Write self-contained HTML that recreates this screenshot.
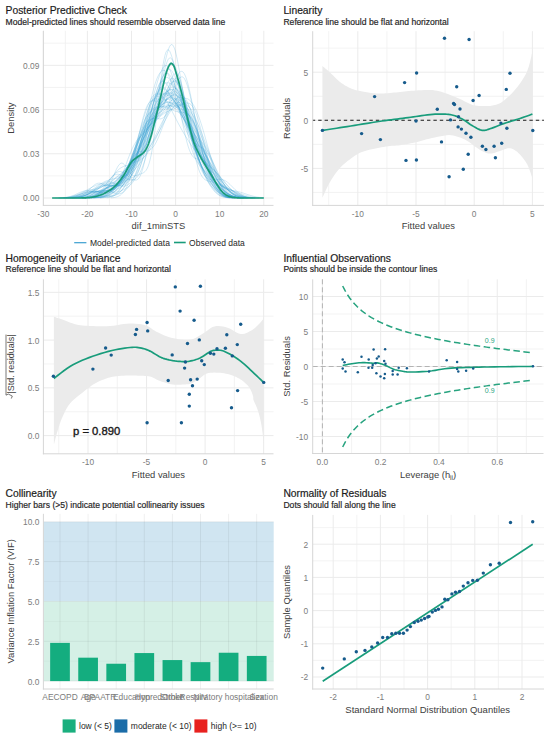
<!DOCTYPE html>
<html><head><meta charset="utf-8"><style>
html,body{margin:0;padding:0;background:#fff;}
svg{display:block;}
</style></head><body>
<svg width="550" height="737" viewBox="0 0 550 737">
<rect width="550" height="737" fill="#fff"/>
<line x1="65.35" y1="30.8" x2="65.35" y2="205.4" stroke="#f0f0f0" stroke-width="0.8"/>
<line x1="109.45" y1="30.8" x2="109.45" y2="205.4" stroke="#f0f0f0" stroke-width="0.8"/>
<line x1="153.55" y1="30.8" x2="153.55" y2="205.4" stroke="#f0f0f0" stroke-width="0.8"/>
<line x1="197.65" y1="30.8" x2="197.65" y2="205.4" stroke="#f0f0f0" stroke-width="0.8"/>
<line x1="241.75" y1="30.8" x2="241.75" y2="205.4" stroke="#f0f0f0" stroke-width="0.8"/>
<line x1="43.4" y1="175.89" x2="273.5" y2="175.89" stroke="#f0f0f0" stroke-width="0.8"/>
<line x1="43.4" y1="131.67" x2="273.5" y2="131.67" stroke="#f0f0f0" stroke-width="0.8"/>
<line x1="43.4" y1="87.45" x2="273.5" y2="87.45" stroke="#f0f0f0" stroke-width="0.8"/>
<line x1="43.4" y1="43.23" x2="273.5" y2="43.23" stroke="#f0f0f0" stroke-width="0.8"/>
<line x1="43.3" y1="30.8" x2="43.3" y2="205.4" stroke="#ebebeb" stroke-width="1"/>
<line x1="87.4" y1="30.8" x2="87.4" y2="205.4" stroke="#ebebeb" stroke-width="1"/>
<line x1="131.5" y1="30.8" x2="131.5" y2="205.4" stroke="#ebebeb" stroke-width="1"/>
<line x1="175.6" y1="30.8" x2="175.6" y2="205.4" stroke="#ebebeb" stroke-width="1"/>
<line x1="219.7" y1="30.8" x2="219.7" y2="205.4" stroke="#ebebeb" stroke-width="1"/>
<line x1="263.8" y1="30.8" x2="263.8" y2="205.4" stroke="#ebebeb" stroke-width="1"/>
<line x1="43.4" y1="198" x2="273.5" y2="198" stroke="#ebebeb" stroke-width="1"/>
<line x1="43.4" y1="153.78" x2="273.5" y2="153.78" stroke="#ebebeb" stroke-width="1"/>
<line x1="43.4" y1="109.56" x2="273.5" y2="109.56" stroke="#ebebeb" stroke-width="1"/>
<line x1="43.4" y1="65.34" x2="273.5" y2="65.34" stroke="#ebebeb" stroke-width="1"/>
<polyline points="58.05,197.93 59.44,197.9 60.84,197.86 62.23,197.8 63.62,197.73 65.02,197.63 66.41,197.5 67.8,197.35 69.2,197.15 70.59,196.92 71.98,196.64 73.38,196.32 74.77,195.96 76.17,195.56 77.56,195.12 78.95,194.67 80.35,194.19 81.74,193.72 83.13,193.26 84.53,192.84 85.92,192.46 87.31,192.13 88.71,191.88 90.1,191.71 91.5,191.62 92.89,191.6 94.28,191.64 95.68,191.74 97.07,191.87 98.46,192.02 99.86,192.15 101.25,192.24 102.64,192.28 104.04,192.23 105.43,192.07 106.82,191.8 108.22,191.41 109.61,190.88 111.01,190.23 112.4,189.44 113.79,188.52 115.19,187.49 116.58,186.34 117.97,185.08 119.37,183.71 120.76,182.23 122.15,180.63 123.55,178.89 124.94,177.01 126.34,174.98 127.73,172.77 129.12,170.39 130.52,167.83 131.91,165.09 133.3,162.18 134.7,159.12 136.09,155.95 137.48,152.68 138.88,149.36 140.27,146.03 141.66,142.72 143.06,139.46 144.45,136.27 145.85,133.17 147.24,130.16 148.63,127.24 150.03,124.4 151.42,121.63 152.81,118.91 154.21,116.25 155.6,113.65 156.99,111.12 158.39,108.68 159.78,106.37 161.18,104.23 162.57,102.32 163.96,100.68 165.36,99.38 166.75,98.45 168.14,97.94 169.54,97.87 170.93,98.27 172.32,99.12 173.72,100.41 175.11,102.12 176.5,104.19 177.9,106.57 179.29,109.19 180.69,112 182.08,114.92 183.47,117.89 184.87,120.84 186.26,123.73 187.65,126.52 189.05,129.18 190.44,131.69 191.83,134.07 193.23,136.33 194.62,138.48 196.02,140.56 197.41,142.6 198.8,144.64 200.2,146.71 201.59,148.83 202.98,151.03 204.38,153.32 205.77,155.69 207.16,158.15 208.56,160.67 209.95,163.24 211.34,165.84 212.74,168.43 214.13,171 215.53,173.5 216.92,175.93 218.31,178.25 219.71,180.46 221.1,182.53 222.49,184.47 223.89,186.25 225.28,187.88 226.67,189.36 228.07,190.69 229.46,191.87 230.86,192.91 232.25,193.82 233.64,194.6 235.04,195.27 236.43,195.83 237.82,196.29 239.22,196.68 240.61,196.99 242,197.23 243.4,197.43 244.79,197.58 246.18,197.7 247.58,197.78 248.97,197.85 250.37,197.89 251.76,197.93" fill="none" stroke="#2b9bd0" stroke-width="0.6" stroke-linejoin="round" stroke-linecap="butt" stroke-opacity="0.35"/>
<polyline points="72.08,197.9 73.32,197.85 74.56,197.79 75.8,197.7 77.04,197.59 78.28,197.44 79.52,197.25 80.75,197 81.99,196.69 83.23,196.31 84.47,195.86 85.71,195.32 86.95,194.7 88.19,193.99 89.43,193.2 90.67,192.33 91.91,191.41 93.14,190.44 94.38,189.46 95.62,188.49 96.86,187.55 98.1,186.69 99.34,185.92 100.58,185.28 101.82,184.79 103.06,184.44 104.29,184.27 105.53,184.24 106.77,184.36 108.01,184.59 109.25,184.91 110.49,185.28 111.73,185.64 112.97,185.95 114.21,186.17 115.44,186.25 116.68,186.13 117.92,185.8 119.16,185.2 120.4,184.32 121.64,183.13 122.88,181.62 124.12,179.78 125.36,177.62 126.59,175.13 127.83,172.34 129.07,169.25 130.31,165.91 131.55,162.34 132.79,158.58 134.03,154.7 135.27,150.74 136.51,146.76 137.74,142.85 138.98,139.07 140.22,135.49 141.46,132.18 142.7,129.2 143.94,126.6 145.18,124.4 146.42,122.62 147.66,121.24 148.89,120.25 150.13,119.56 151.37,119.12 152.61,118.82 153.85,118.56 155.09,118.22 156.33,117.69 157.57,116.86 158.81,115.65 160.04,113.99 161.28,111.85 162.52,109.23 163.76,106.18 165,102.79 166.24,99.15 167.48,95.43 168.72,91.78 169.96,88.39 171.2,85.43 172.43,83.06 173.67,81.42 174.91,80.62 176.15,80.73 177.39,81.78 178.63,83.76 179.87,86.59 181.11,90.21 182.35,94.49 183.58,99.31 184.82,104.53 186.06,110 187.3,115.61 188.54,121.25 189.78,126.81 191.02,132.22 192.26,137.43 193.5,142.4 194.73,147.09 195.97,151.51 197.21,155.63 198.45,159.46 199.69,163.01 200.93,166.27 202.17,169.26 203.41,171.98 204.65,174.45 205.88,176.67 207.12,178.67 208.36,180.46 209.6,182.06 210.84,183.49 212.08,184.79 213.32,185.96 214.56,187.04 215.8,188.04 217.03,188.98 218.27,189.86 219.51,190.7 220.75,191.49 221.99,192.25 223.23,192.97 224.47,193.64 225.71,194.26 226.95,194.83 228.18,195.35 229.42,195.81 230.66,196.21 231.9,196.56 233.14,196.86 234.38,197.1 235.62,197.31 236.86,197.47 238.1,197.61 239.33,197.71 240.57,197.79 241.81,197.85 243.05,197.89 244.29,197.92" fill="none" stroke="#2b9bd0" stroke-width="0.6" stroke-linejoin="round" stroke-linecap="butt" stroke-opacity="0.35"/>
<polyline points="82.24,197.92 83.48,197.88 84.72,197.82 85.96,197.74 87.21,197.64 88.45,197.5 89.69,197.32 90.93,197.1 92.18,196.82 93.42,196.49 94.66,196.09 95.9,195.64 97.14,195.13 98.39,194.57 99.63,193.97 100.87,193.35 102.11,192.73 103.36,192.13 104.6,191.57 105.84,191.06 107.08,190.63 108.33,190.27 109.57,190 110.81,189.79 112.05,189.64 113.29,189.51 114.54,189.37 115.78,189.18 117.02,188.88 118.26,188.45 119.51,187.83 120.75,187 121.99,185.93 123.23,184.61 124.48,183.04 125.72,181.24 126.96,179.23 128.2,177.03 129.44,174.69 130.69,172.25 131.93,169.74 133.17,167.2 134.41,164.64 135.66,162.08 136.9,159.51 138.14,156.91 139.38,154.26 140.63,151.51 141.87,148.62 143.11,145.54 144.35,142.22 145.59,138.63 146.84,134.75 148.08,130.56 149.32,126.08 150.56,121.35 151.81,116.43 153.05,111.4 154.29,106.35 155.53,101.41 156.78,96.69 158.02,92.29 159.26,88.34 160.5,84.91 161.74,82.09 162.99,79.92 164.23,78.41 165.47,77.56 166.71,77.34 167.96,77.69 169.2,78.55 170.44,79.85 171.68,81.52 172.93,83.48 174.17,85.68 175.41,88.09 176.65,90.68 177.89,93.45 179.14,96.41 180.38,99.57 181.62,102.95 182.86,106.57 184.11,110.45 185.35,114.58 186.59,118.95 187.83,123.52 189.07,128.26 190.32,133.1 191.56,137.97 192.8,142.81 194.04,147.54 195.29,152.08 196.53,156.38 197.77,160.37 199.01,164.01 200.26,167.27 201.5,170.13 202.74,172.58 203.98,174.63 205.22,176.3 206.47,177.6 207.71,178.58 208.95,179.25 210.19,179.68 211.44,179.89 212.68,179.94 213.92,179.87 215.16,179.73 216.41,179.55 217.65,179.4 218.89,179.3 220.13,179.29 221.37,179.4 222.62,179.65 223.86,180.07 225.1,180.66 226.34,181.41 227.59,182.32 228.83,183.37 230.07,184.53 231.31,185.77 232.56,187.05 233.8,188.34 235.04,189.6 236.28,190.81 237.52,191.95 238.77,192.98 240.01,193.91 241.25,194.71 242.49,195.41 243.74,195.99 244.98,196.46 246.22,196.85 247.46,197.15 248.71,197.38 249.95,197.56 251.19,197.69 252.43,197.79 253.67,197.86 254.92,197.9" fill="none" stroke="#2b9bd0" stroke-width="0.6" stroke-linejoin="round" stroke-linecap="butt" stroke-opacity="0.35"/>
<polyline points="68.52,197.92 69.85,197.88 71.18,197.84 72.51,197.78 73.84,197.69 75.17,197.59 76.5,197.45 77.83,197.28 79.15,197.06 80.48,196.8 81.81,196.48 83.14,196.1 84.47,195.66 85.8,195.15 87.13,194.58 88.46,193.94 89.79,193.25 91.12,192.5 92.44,191.72 93.77,190.92 95.1,190.11 96.43,189.32 97.76,188.56 99.09,187.86 100.42,187.23 101.75,186.69 103.08,186.25 104.41,185.91 105.73,185.66 107.06,185.51 108.39,185.44 109.72,185.41 111.05,185.42 112.38,185.41 113.71,185.36 115.04,185.24 116.37,185 117.69,184.61 119.02,184.06 120.35,183.32 121.68,182.37 123.01,181.22 124.34,179.88 125.67,178.34 127,176.64 128.33,174.8 129.66,172.84 130.98,170.79 132.31,168.68 133.64,166.52 134.97,164.34 136.3,162.13 137.63,159.9 138.96,157.64 140.29,155.33 141.62,152.95 142.95,150.48 144.27,147.89 145.6,145.17 146.93,142.29 148.26,139.25 149.59,136.07 150.92,132.75 152.25,129.32 153.58,125.83 154.91,122.33 156.24,118.87 157.56,115.51 158.89,112.31 160.22,109.34 161.55,106.64 162.88,104.25 164.21,102.22 165.54,100.56 166.87,99.28 168.2,98.39 169.52,97.86 170.85,97.68 172.18,97.81 173.51,98.24 174.84,98.92 176.17,99.82 177.5,100.9 178.83,102.14 180.16,103.51 181.49,105 182.81,106.6 184.14,108.29 185.47,110.1 186.8,112.01 188.13,114.06 189.46,116.24 190.79,118.59 192.12,121.1 193.45,123.79 194.78,126.67 196.1,129.72 197.43,132.94 198.76,136.3 200.09,139.79 201.42,143.35 202.75,146.96 204.08,150.58 205.41,154.16 206.74,157.67 208.07,161.06 209.39,164.32 210.72,167.41 212.05,170.31 213.38,173.02 214.71,175.54 216.04,177.86 217.37,179.99 218.7,181.93 220.03,183.71 221.35,185.33 222.68,186.81 224.01,188.15 225.34,189.37 226.67,190.48 228,191.49 229.33,192.4 230.66,193.21 231.99,193.94 233.32,194.59 234.64,195.16 235.97,195.66 237.3,196.09 238.63,196.45 239.96,196.76 241.29,197.02 242.62,197.24 243.95,197.41 245.28,197.55 246.61,197.66 247.93,197.75 249.26,197.81 250.59,197.87 251.92,197.9 253.25,197.93" fill="none" stroke="#2b9bd0" stroke-width="0.6" stroke-linejoin="round" stroke-linecap="butt" stroke-opacity="0.35"/>
<polyline points="76.26,197.93 77.49,197.9 78.72,197.86 79.95,197.8 81.18,197.73 82.41,197.64 83.64,197.53 84.87,197.39 86.1,197.21 87.33,196.99 88.56,196.74 89.79,196.43 91.02,196.08 92.26,195.68 93.49,195.22 94.72,194.71 95.95,194.15 97.18,193.55 98.41,192.91 99.64,192.23 100.87,191.52 102.1,190.8 103.33,190.06 104.56,189.31 105.79,188.55 107.02,187.79 108.25,187.02 109.48,186.23 110.71,185.43 111.94,184.6 113.18,183.71 114.41,182.77 115.64,181.75 116.87,180.63 118.1,179.4 119.33,178.05 120.56,176.57 121.79,174.96 123.02,173.22 124.25,171.37 125.48,169.43 126.71,167.41 127.94,165.37 129.17,163.33 130.4,161.34 131.63,159.45 132.87,157.7 134.1,156.12 135.33,154.75 136.56,153.62 137.79,152.72 139.02,152.06 140.25,151.62 141.48,151.36 142.71,151.24 143.94,151.2 145.17,151.18 146.4,151.1 147.63,150.91 148.86,150.52 150.09,149.9 151.32,148.98 152.55,147.75 153.79,146.18 155.02,144.27 156.25,142.04 157.48,139.52 158.71,136.75 159.94,133.79 161.17,130.68 162.4,127.49 163.63,124.27 164.86,121.08 166.09,117.96 167.32,114.96 168.55,112.11 169.78,109.45 171.01,106.99 172.24,104.76 173.48,102.78 174.71,101.07 175.94,99.66 177.17,98.56 178.4,97.8 179.63,97.39 180.86,97.36 182.09,97.71 183.32,98.45 184.55,99.58 185.78,101.07 187.01,102.92 188.24,105.08 189.47,107.52 190.7,110.19 191.93,113.05 193.17,116.05 194.4,119.14 195.63,122.27 196.86,125.41 198.09,128.53 199.32,131.6 200.55,134.62 201.78,137.57 203.01,140.44 204.24,143.25 205.47,146.01 206.7,148.71 207.93,151.38 209.16,154.03 210.39,156.66 211.62,159.28 212.85,161.89 214.09,164.5 215.32,167.09 216.55,169.66 217.78,172.19 219.01,174.66 220.24,177.06 221.47,179.38 222.7,181.58 223.93,183.65 225.16,185.58 226.39,187.36 227.62,188.98 228.85,190.43 230.08,191.72 231.31,192.84 232.54,193.81 233.78,194.64 235.01,195.34 236.24,195.91 237.47,196.38 238.7,196.76 239.93,197.07 241.16,197.3 242.39,197.49 243.62,197.63 244.85,197.73 246.08,197.81 247.31,197.87" fill="none" stroke="#2b9bd0" stroke-width="0.6" stroke-linejoin="round" stroke-linecap="butt" stroke-opacity="0.35"/>
<polyline points="81.85,197.91 82.95,197.87 84.04,197.81 85.14,197.73 86.24,197.63 87.33,197.49 88.43,197.32 89.52,197.1 90.62,196.83 91.71,196.5 92.81,196.1 93.9,195.65 95,195.13 96.1,194.55 97.19,193.92 98.29,193.25 99.38,192.55 100.48,191.83 101.57,191.12 102.67,190.42 103.76,189.76 104.86,189.13 105.96,188.55 107.05,188.02 108.15,187.53 109.24,187.06 110.34,186.6 111.43,186.14 112.53,185.64 113.62,185.09 114.72,184.46 115.81,183.73 116.91,182.88 118.01,181.92 119.1,180.82 120.2,179.58 121.29,178.22 122.39,176.73 123.48,175.13 124.58,173.42 125.67,171.63 126.77,169.77 127.87,167.85 128.96,165.9 130.06,163.93 131.15,161.97 132.25,160.03 133.34,158.13 134.44,156.3 135.53,154.53 136.63,152.85 137.73,151.25 138.82,149.72 139.92,148.26 141.01,146.85 142.11,145.46 143.2,144.06 144.3,142.61 145.39,141.08 146.49,139.41 147.59,137.55 148.68,135.46 149.78,133.08 150.87,130.36 151.97,127.27 153.06,123.77 154.16,119.84 155.25,115.48 156.35,110.71 157.44,105.57 158.54,100.13 159.64,94.49 160.73,88.77 161.83,83.1 162.92,77.65 164.02,72.58 165.11,68.05 166.21,64.21 167.3,61.19 168.4,59.09 169.5,57.98 170.59,57.91 171.69,58.87 172.78,60.82 173.88,63.71 174.97,67.43 176.07,71.89 177.16,76.94 178.26,82.48 179.36,88.36 180.45,94.47 181.55,100.69 182.64,106.9 183.74,113.03 184.83,118.98 185.93,124.68 187.02,130.08 188.12,135.14 189.22,139.82 190.31,144.09 191.41,147.94 192.5,151.38 193.6,154.41 194.69,157.05 195.79,159.34 196.88,161.31 197.98,163.02 199.07,164.51 200.17,165.85 201.27,167.1 202.36,168.3 203.46,169.51 204.55,170.77 205.65,172.11 206.74,173.54 207.84,175.07 208.93,176.7 210.03,178.4 211.13,180.17 212.22,181.95 213.32,183.73 214.41,185.47 215.51,187.14 216.6,188.71 217.7,190.16 218.79,191.47 219.89,192.64 220.99,193.67 222.08,194.54 223.18,195.28 224.27,195.9 225.37,196.39 226.46,196.79 227.56,197.11 228.65,197.35 229.75,197.53 230.85,197.67 231.94,197.77 233.04,197.84 234.13,197.89" fill="none" stroke="#2b9bd0" stroke-width="0.6" stroke-linejoin="round" stroke-linecap="butt" stroke-opacity="0.35"/>
<polyline points="70.13,197.92 71.37,197.89 72.61,197.84 73.86,197.78 75.1,197.69 76.34,197.58 77.59,197.44 78.83,197.26 80.07,197.04 81.31,196.76 82.56,196.43 83.8,196.03 85.04,195.57 86.28,195.04 87.53,194.44 88.77,193.77 90.01,193.04 91.26,192.27 92.5,191.45 93.74,190.61 94.98,189.77 96.23,188.94 97.47,188.15 98.71,187.42 99.95,186.76 101.2,186.19 102.44,185.73 103.68,185.38 104.93,185.14 106.17,185.01 107.41,184.97 108.65,185.01 109.9,185.1 111.14,185.22 112.38,185.33 113.62,185.41 114.87,185.42 116.11,185.34 117.35,185.14 118.6,184.8 119.84,184.32 121.08,183.67 122.32,182.85 123.57,181.88 124.81,180.75 126.05,179.48 127.29,178.06 128.54,176.52 129.78,174.84 131.02,173.04 132.27,171.11 133.51,169.04 134.75,166.82 135.99,164.45 137.24,161.91 138.48,159.19 139.72,156.29 140.96,153.19 142.21,149.9 143.45,146.44 144.69,142.81 145.94,139.04 147.18,135.17 148.42,131.23 149.66,127.26 150.91,123.31 152.15,119.43 153.39,115.66 154.64,112.05 155.88,108.64 157.12,105.47 158.36,102.58 159.61,100 160.85,97.74 162.09,95.83 163.33,94.28 164.58,93.1 165.82,92.31 167.06,91.9 168.31,91.89 169.55,92.27 170.79,93.05 172.03,94.21 173.28,95.75 174.52,97.66 175.76,99.92 177,102.49 178.25,105.34 179.49,108.42 180.73,111.69 181.98,115.08 183.22,118.52 184.46,121.95 185.7,125.31 186.95,128.52 188.19,131.53 189.43,134.29 190.67,136.76 191.92,138.92 193.16,140.77 194.4,142.31 195.65,143.58 196.89,144.62 198.13,145.49 199.37,146.25 200.62,146.98 201.86,147.74 203.1,148.62 204.34,149.67 205.59,150.94 206.83,152.47 208.07,154.27 209.32,156.36 210.56,158.7 211.8,161.28 213.04,164.04 214.29,166.93 215.53,169.89 216.77,172.86 218.02,175.78 219.26,178.6 220.5,181.27 221.74,183.75 222.99,186.01 224.23,188.04 225.47,189.83 226.71,191.39 227.96,192.72 229.2,193.83 230.44,194.75 231.69,195.51 232.93,196.11 234.17,196.58 235.41,196.95 236.66,197.24 237.9,197.45 239.14,197.61 240.38,197.73 241.63,197.81 242.87,197.87" fill="none" stroke="#2b9bd0" stroke-width="0.6" stroke-linejoin="round" stroke-linecap="butt" stroke-opacity="0.35"/>
<polyline points="110.92,197.83 111.82,197.77 112.72,197.69 113.61,197.58 114.51,197.44 115.41,197.26 116.31,197.04 117.2,196.75 118.1,196.4 119,195.96 119.9,195.43 120.8,194.8 121.69,194.03 122.59,193.14 123.49,192.09 124.39,190.87 125.28,189.48 126.18,187.91 127.08,186.15 127.98,184.19 128.87,182.04 129.77,179.7 130.67,177.19 131.57,174.5 132.47,171.67 133.36,168.71 134.26,165.65 135.16,162.5 136.06,159.29 136.95,156.05 137.85,152.8 138.75,149.56 139.65,146.35 140.54,143.18 141.44,140.06 142.34,137 143.24,134 144.14,131.05 145.03,128.17 145.93,125.33 146.83,122.53 147.73,119.78 148.62,117.06 149.52,114.37 150.42,111.71 151.32,109.09 152.21,106.52 153.11,104 154.01,101.56 154.91,99.2 155.8,96.95 156.7,94.82 157.6,92.84 158.5,91.01 159.4,89.35 160.29,87.87 161.19,86.58 162.09,85.48 162.99,84.58 163.88,83.86 164.78,83.33 165.68,82.97 166.58,82.77 167.47,82.74 168.37,82.84 169.27,83.08 170.17,83.45 171.07,83.94 171.96,84.54 172.86,85.25 173.76,86.06 174.66,86.98 175.55,88 176.45,89.12 177.35,90.34 178.25,91.67 179.14,93.11 180.04,94.65 180.94,96.29 181.84,98.03 182.74,99.87 183.63,101.81 184.53,103.84 185.43,105.96 186.33,108.16 187.22,110.43 188.12,112.77 189.02,115.16 189.92,117.6 190.81,120.09 191.71,122.6 192.61,125.14 193.51,127.69 194.41,130.26 195.3,132.83 196.2,135.4 197.1,137.97 198,140.54 198.89,143.1 199.79,145.67 200.69,148.22 201.59,150.78 202.48,153.33 203.38,155.87 204.28,158.39 205.18,160.9 206.08,163.39 206.97,165.85 207.87,168.26 208.77,170.62 209.67,172.92 210.56,175.15 211.46,177.29 212.36,179.34 213.26,181.29 214.15,183.12 215.05,184.84 215.95,186.44 216.85,187.9 217.74,189.25 218.64,190.46 219.54,191.56 220.44,192.53 221.34,193.4 222.23,194.15 223.13,194.81 224.03,195.37 224.93,195.86 225.82,196.26 226.72,196.61 227.62,196.89 228.52,197.12 229.41,197.31 230.31,197.47 231.21,197.59 232.11,197.69 233.01,197.76 233.9,197.82 234.8,197.87 235.7,197.9" fill="none" stroke="#2b9bd0" stroke-width="0.6" stroke-linejoin="round" stroke-linecap="butt" stroke-opacity="0.35"/>
<polyline points="68.24,197.9 69.59,197.87 70.93,197.82 72.28,197.75 73.62,197.66 74.97,197.56 76.32,197.42 77.66,197.25 79.01,197.04 80.35,196.78 81.7,196.48 83.05,196.12 84.39,195.71 85.74,195.23 87.08,194.7 88.43,194.11 89.78,193.46 91.12,192.77 92.47,192.03 93.81,191.27 95.16,190.49 96.51,189.71 97.85,188.94 99.2,188.2 100.54,187.49 101.89,186.82 103.24,186.21 104.58,185.65 105.93,185.13 107.27,184.66 108.62,184.2 109.97,183.76 111.31,183.29 112.66,182.78 114,182.19 115.35,181.49 116.69,180.66 118.04,179.66 119.39,178.47 120.73,177.08 122.08,175.46 123.42,173.61 124.77,171.54 126.12,169.24 127.46,166.74 128.81,164.04 130.15,161.19 131.5,158.2 132.85,155.11 134.19,151.97 135.54,148.8 136.88,145.64 138.23,142.54 139.58,139.52 140.92,136.61 142.27,133.85 143.61,131.24 144.96,128.81 146.31,126.57 147.65,124.5 149,122.63 150.34,120.92 151.69,119.38 153.04,117.98 154.38,116.7 155.73,115.53 157.07,114.45 158.42,113.44 159.77,112.48 161.11,111.56 162.46,110.68 163.8,109.84 165.15,109.05 166.5,108.32 167.84,107.66 169.19,107.11 170.53,106.69 171.88,106.43 173.23,106.36 174.57,106.52 175.92,106.94 177.26,107.64 178.61,108.64 179.96,109.97 181.3,111.61 182.65,113.59 183.99,115.87 185.34,118.45 186.68,121.29 188.03,124.36 189.38,127.61 190.72,131 192.07,134.48 193.41,138.01 194.76,141.53 196.11,144.99 197.45,148.37 198.8,151.62 200.14,154.72 201.49,157.64 202.84,160.39 204.18,162.95 205.53,165.33 206.87,167.53 208.22,169.57 209.57,171.47 210.91,173.23 212.26,174.89 213.6,176.45 214.95,177.94 216.3,179.36 217.64,180.73 218.99,182.06 220.33,183.36 221.68,184.61 223.03,185.83 224.37,187.01 225.72,188.15 227.06,189.23 228.41,190.26 229.76,191.22 231.1,192.12 232.45,192.94 233.79,193.69 235.14,194.37 236.49,194.96 237.83,195.49 239.18,195.95 240.52,196.34 241.87,196.67 243.22,196.94 244.56,197.17 245.91,197.36 247.25,197.51 248.6,197.63 249.95,197.72 251.29,197.79 252.64,197.85 253.98,197.89 255.33,197.92" fill="none" stroke="#2b9bd0" stroke-width="0.6" stroke-linejoin="round" stroke-linecap="butt" stroke-opacity="0.35"/>
<polyline points="66.12,197.93 67.51,197.9 68.9,197.86 70.28,197.8 71.67,197.72 73.05,197.62 74.44,197.49 75.83,197.32 77.21,197.12 78.6,196.88 79.99,196.59 81.37,196.25 82.76,195.88 84.15,195.45 85.53,195 86.92,194.51 88.31,194.02 89.69,193.51 91.08,193.02 92.47,192.56 93.85,192.13 95.24,191.75 96.63,191.43 98.01,191.16 99.4,190.95 100.79,190.79 102.17,190.67 103.56,190.56 104.95,190.46 106.33,190.33 107.72,190.16 109.1,189.93 110.49,189.62 111.88,189.23 113.26,188.76 114.65,188.19 116.04,187.54 117.42,186.81 118.81,186.02 120.2,185.18 121.58,184.28 122.97,183.33 124.36,182.33 125.74,181.25 127.13,180.07 128.52,178.75 129.9,177.26 131.29,175.53 132.68,173.51 134.06,171.16 135.45,168.42 136.84,165.24 138.22,161.61 139.61,157.52 141,152.96 142.38,147.99 143.77,142.66 145.15,137.05 146.54,131.25 147.93,125.4 149.31,119.61 150.7,114.03 152.09,108.77 153.47,103.97 154.86,99.72 156.25,96.12 157.63,93.21 159.02,91.04 160.41,89.59 161.79,88.85 163.18,88.77 164.57,89.26 165.95,90.25 167.34,91.63 168.73,93.3 170.11,95.16 171.5,97.12 172.89,99.1 174.27,101.04 175.66,102.9 177.04,104.68 178.43,106.37 179.82,108 181.2,109.61 182.59,111.27 183.98,113.02 185.36,114.93 186.75,117.06 188.14,119.45 189.52,122.15 190.91,125.17 192.3,128.5 193.68,132.12 195.07,136 196.46,140.08 197.84,144.28 199.23,148.53 200.62,152.74 202,156.84 203.39,160.74 204.78,164.4 206.16,167.75 207.55,170.76 208.94,173.41 210.32,175.71 211.71,177.67 213.09,179.31 214.48,180.68 215.87,181.82 217.25,182.77 218.64,183.58 220.03,184.3 221.41,184.97 222.8,185.62 224.19,186.27 225.57,186.94 226.96,187.65 228.35,188.39 229.73,189.16 231.12,189.95 232.51,190.76 233.89,191.55 235.28,192.34 236.67,193.09 238.05,193.79 239.44,194.45 240.83,195.04 242.21,195.57 243.6,196.03 244.99,196.43 246.37,196.76 247.76,197.04 249.14,197.27 250.53,197.45 251.92,197.59 253.3,197.7 254.69,197.79 256.08,197.85 257.46,197.9 258.85,197.93" fill="none" stroke="#2b9bd0" stroke-width="0.6" stroke-linejoin="round" stroke-linecap="butt" stroke-opacity="0.35"/>
<polyline points="74.33,197.94 75.7,197.91 77.06,197.87 78.42,197.83 79.78,197.77 81.15,197.69 82.51,197.59 83.87,197.47 85.24,197.31 86.6,197.13 87.96,196.91 89.33,196.66 90.69,196.37 92.05,196.03 93.42,195.66 94.78,195.24 96.14,194.79 97.5,194.31 98.87,193.79 100.23,193.25 101.59,192.69 102.96,192.11 104.32,191.51 105.68,190.9 107.05,190.27 108.41,189.61 109.77,188.93 111.14,188.2 112.5,187.44 113.86,186.62 115.22,185.74 116.59,184.79 117.95,183.76 119.31,182.67 120.68,181.5 122.04,180.27 123.4,178.98 124.77,177.64 126.13,176.26 127.49,174.84 128.86,173.38 130.22,171.89 131.58,170.36 132.94,168.77 134.31,167.1 135.67,165.32 137.03,163.42 138.4,161.35 139.76,159.09 141.12,156.62 142.49,153.93 143.85,151 145.21,147.86 146.58,144.51 147.94,141.01 149.3,137.39 150.66,133.73 152.03,130.08 153.39,126.52 154.75,123.12 156.12,119.95 157.48,117.07 158.84,114.51 160.21,112.31 161.57,110.47 162.93,109 164.3,107.86 165.66,107.02 167.02,106.43 168.38,106.04 169.75,105.79 171.11,105.63 172.47,105.51 173.84,105.4 175.2,105.25 176.56,105.08 177.93,104.87 179.29,104.66 180.65,104.46 182.02,104.33 183.38,104.32 184.74,104.49 186.1,104.9 187.47,105.61 188.83,106.67 190.19,108.13 191.56,110.01 192.92,112.35 194.28,115.13 195.65,118.34 197.01,121.96 198.37,125.93 199.74,130.19 201.1,134.67 202.46,139.3 203.82,143.99 205.19,148.66 206.55,153.24 207.91,157.66 209.28,161.85 210.64,165.76 212,169.37 213.37,172.64 214.73,175.56 216.09,178.14 217.46,180.38 218.82,182.29 220.18,183.92 221.54,185.28 222.91,186.42 224.27,187.37 225.63,188.16 227,188.82 228.36,189.4 229.72,189.92 231.09,190.4 232.45,190.86 233.81,191.31 235.18,191.77 236.54,192.23 237.9,192.7 239.26,193.18 240.63,193.65 241.99,194.12 243.35,194.58 244.72,195.02 246.08,195.43 247.44,195.82 248.81,196.17 250.17,196.48 251.53,196.75 252.9,196.99 254.26,197.2 255.62,197.37 256.98,197.51 258.35,197.62 259.71,197.71 261.07,197.79 262.44,197.84 263.8,197.89" fill="none" stroke="#2b9bd0" stroke-width="0.6" stroke-linejoin="round" stroke-linecap="butt" stroke-opacity="0.35"/>
<polyline points="99.94,197.91 100.91,197.88 101.87,197.83 102.84,197.77 103.8,197.7 104.77,197.6 105.74,197.48 106.7,197.33 107.67,197.14 108.63,196.91 109.6,196.63 110.57,196.3 111.53,195.91 112.5,195.45 113.47,194.92 114.43,194.31 115.4,193.62 116.36,192.84 117.33,191.97 118.3,191.01 119.26,189.94 120.23,188.78 121.2,187.5 122.16,186.11 123.13,184.61 124.09,182.97 125.06,181.2 126.03,179.28 126.99,177.2 127.96,174.94 128.92,172.5 129.89,169.85 130.86,166.98 131.82,163.9 132.79,160.58 133.76,157.05 134.72,153.31 135.69,149.38 136.65,145.29 137.62,141.09 138.59,136.82 139.55,132.54 140.52,128.32 141.49,124.22 142.45,120.3 143.42,116.65 144.38,113.3 145.35,110.32 146.32,107.75 147.28,105.59 148.25,103.86 149.21,102.55 150.18,101.63 151.15,101.06 152.11,100.78 153.08,100.71 154.05,100.8 155.01,100.95 155.98,101.09 156.94,101.15 157.91,101.07 158.88,100.8 159.84,100.29 160.81,99.54 161.78,98.53 162.74,97.28 163.71,95.81 164.67,94.16 165.64,92.39 166.61,90.56 167.57,88.73 168.54,86.97 169.5,85.34 170.47,83.91 171.44,82.74 172.4,81.88 173.37,81.38 174.34,81.26 175.3,81.56 176.27,82.29 177.23,83.45 178.2,85.04 179.17,87.05 180.13,89.45 181.1,92.21 182.07,95.31 183.03,98.7 184,102.34 184.96,106.18 185.93,110.17 186.9,114.28 187.86,118.44 188.83,122.61 189.8,126.76 190.76,130.84 191.73,134.82 192.69,138.67 193.66,142.36 194.63,145.88 195.59,149.22 196.56,152.36 197.52,155.32 198.49,158.09 199.46,160.69 200.42,163.13 201.39,165.41 202.36,167.57 203.32,169.61 204.29,171.55 205.25,173.41 206.22,175.19 207.19,176.92 208.15,178.58 209.12,180.2 210.09,181.76 211.05,183.27 212.02,184.72 212.98,186.11 213.95,187.44 214.92,188.68 215.88,189.85 216.85,190.93 217.81,191.91 218.78,192.81 219.75,193.62 220.71,194.33 221.68,194.96 222.65,195.51 223.61,195.97 224.58,196.37 225.54,196.7 226.51,196.98 227.48,197.2 228.44,197.38 229.41,197.53 230.38,197.64 231.34,197.73 232.31,197.8 233.27,197.86 234.24,197.9" fill="none" stroke="#2b9bd0" stroke-width="0.6" stroke-linejoin="round" stroke-linecap="butt" stroke-opacity="0.35"/>
<polyline points="97.36,197.87 98.48,197.82 99.6,197.76 100.72,197.67 101.84,197.56 102.96,197.42 104.09,197.24 105.21,197.01 106.33,196.72 107.45,196.37 108.57,195.94 109.69,195.42 110.81,194.79 111.94,194.05 113.06,193.17 114.18,192.15 115.3,190.98 116.42,189.65 117.54,188.14 118.66,186.46 119.78,184.59 120.91,182.55 122.03,180.34 123.15,177.97 124.27,175.45 125.39,172.8 126.51,170.03 127.63,167.16 128.76,164.23 129.88,161.26 131,158.26 132.12,155.27 133.24,152.31 134.36,149.38 135.48,146.53 136.61,143.74 137.73,141.04 138.85,138.44 139.97,135.93 141.09,133.51 142.21,131.19 143.33,128.95 144.46,126.8 145.58,124.72 146.7,122.71 147.82,120.76 148.94,118.87 150.06,117.04 151.18,115.26 152.31,113.53 153.43,111.86 154.55,110.25 155.67,108.71 156.79,107.25 157.91,105.89 159.03,104.62 160.16,103.47 161.28,102.44 162.4,101.54 163.52,100.8 164.64,100.21 165.76,99.79 166.88,99.54 168.01,99.47 169.13,99.58 170.25,99.88 171.37,100.38 172.49,101.06 173.61,101.95 174.73,103.02 175.86,104.29 176.98,105.76 178.1,107.41 179.22,109.25 180.34,111.26 181.46,113.44 182.58,115.77 183.71,118.23 184.83,120.8 185.95,123.47 187.07,126.19 188.19,128.96 189.31,131.74 190.43,134.5 191.56,137.21 192.68,139.86 193.8,142.41 194.92,144.86 196.04,147.19 197.16,149.38 198.28,151.43 199.41,153.34 200.53,155.12 201.65,156.77 202.77,158.29 203.89,159.71 205.01,161.04 206.13,162.29 207.26,163.48 208.38,164.62 209.5,165.74 210.62,166.84 211.74,167.95 212.86,169.06 213.98,170.2 215.1,171.36 216.23,172.56 217.35,173.8 218.47,175.06 219.59,176.37 220.71,177.7 221.83,179.05 222.95,180.41 224.08,181.77 225.2,183.13 226.32,184.46 227.44,185.76 228.56,187.02 229.68,188.22 230.8,189.36 231.93,190.42 233.05,191.41 234.17,192.32 235.29,193.14 236.41,193.88 237.53,194.54 238.65,195.12 239.78,195.62 240.9,196.05 242.02,196.42 243.14,196.73 244.26,196.99 245.38,197.2 246.5,197.38 247.63,197.52 248.75,197.63 249.87,197.72 250.99,197.79 252.11,197.84 253.23,197.88" fill="none" stroke="#2b9bd0" stroke-width="0.6" stroke-linejoin="round" stroke-linecap="butt" stroke-opacity="0.35"/>
<polyline points="106.68,197.8 107.58,197.72 108.48,197.6 109.38,197.45 110.28,197.25 111.19,196.99 112.09,196.65 112.99,196.24 113.89,195.74 114.79,195.13 115.7,194.4 116.6,193.56 117.5,192.61 118.4,191.54 119.3,190.37 120.2,189.12 121.11,187.81 122.01,186.47 122.91,185.14 123.81,183.86 124.71,182.67 125.62,181.6 126.52,180.69 127.42,179.97 128.32,179.45 129.22,179.14 130.13,179.02 131.03,179.07 131.93,179.25 132.83,179.51 133.73,179.79 134.63,180.01 135.54,180.11 136.44,180 137.34,179.62 138.24,178.9 139.14,177.78 140.05,176.23 140.95,174.21 141.85,171.73 142.75,168.78 143.65,165.39 144.55,161.6 145.46,157.47 146.36,153.04 147.26,148.4 148.16,143.61 149.06,138.75 149.97,133.86 150.87,129.02 151.77,124.26 152.67,119.62 153.57,115.11 154.47,110.73 155.38,106.48 156.28,102.32 157.18,98.24 158.08,94.19 158.98,90.13 159.89,86.05 160.79,81.92 161.69,77.74 162.59,73.52 163.49,69.3 164.39,65.13 165.3,61.08 166.2,57.25 167.1,53.74 168,50.65 168.9,48.08 169.81,46.15 170.71,44.93 171.61,44.49 172.51,44.85 173.41,46.04 174.32,48.03 175.22,50.78 176.12,54.21 177.02,58.24 177.92,62.77 178.82,67.68 179.73,72.85 180.63,78.18 181.53,83.56 182.43,88.9 183.33,94.12 184.24,99.16 185.14,103.97 186.04,108.53 186.94,112.81 187.84,116.82 188.74,120.56 189.65,124.04 190.55,127.29 191.45,130.33 192.35,133.17 193.25,135.85 194.16,138.39 195.06,140.8 195.96,143.1 196.86,145.3 197.76,147.42 198.66,149.47 199.57,151.46 200.47,153.4 201.37,155.32 202.27,157.21 203.17,159.09 204.08,160.99 204.98,162.9 205.88,164.83 206.78,166.81 207.68,168.81 208.58,170.85 209.49,172.9 210.39,174.97 211.29,177.04 212.19,179.07 213.09,181.06 214,182.99 214.9,184.82 215.8,186.55 216.7,188.16 217.6,189.63 218.51,190.97 219.41,192.16 220.31,193.2 221.21,194.11 222.11,194.88 223.01,195.53 223.92,196.07 224.82,196.51 225.72,196.86 226.62,197.15 227.52,197.37 228.43,197.54 229.33,197.66 230.23,197.76 231.13,197.83 232.03,197.88" fill="none" stroke="#2b9bd0" stroke-width="0.6" stroke-linejoin="round" stroke-linecap="butt" stroke-opacity="0.35"/>
<polyline points="82.46,197.91 83.58,197.87 84.7,197.82 85.82,197.76 86.94,197.68 88.06,197.58 89.18,197.44 90.3,197.28 91.42,197.08 92.54,196.83 93.66,196.53 94.78,196.17 95.9,195.75 97.02,195.27 98.14,194.71 99.26,194.08 100.38,193.39 101.5,192.62 102.62,191.78 103.74,190.89 104.86,189.95 105.98,188.97 107.1,187.96 108.22,186.93 109.34,185.9 110.46,184.88 111.58,183.87 112.7,182.88 113.82,181.92 114.94,180.99 116.05,180.09 117.17,179.21 118.29,178.33 119.41,177.46 120.53,176.56 121.65,175.63 122.77,174.65 123.89,173.6 125.01,172.47 126.13,171.25 127.25,169.91 128.37,168.46 129.49,166.9 130.61,165.21 131.73,163.4 132.85,161.48 133.97,159.45 135.09,157.32 136.21,155.09 137.33,152.78 138.45,150.39 139.57,147.94 140.69,145.42 141.81,142.86 142.93,140.26 144.05,137.63 145.17,134.97 146.29,132.3 147.41,129.63 148.53,126.96 149.65,124.31 150.77,121.68 151.89,119.1 153.01,116.56 154.13,114.08 155.25,111.68 156.37,109.37 157.49,107.17 158.61,105.09 159.73,103.16 160.85,101.39 161.97,99.81 163.09,98.45 164.21,97.32 165.33,96.46 166.45,95.87 167.57,95.58 168.69,95.59 169.81,95.91 170.93,96.53 172.05,97.44 173.17,98.62 174.29,100.03 175.41,101.64 176.53,103.41 177.65,105.29 178.77,107.24 179.89,109.21 181.01,111.16 182.12,113.05 183.24,114.86 184.36,116.57 185.48,118.18 186.6,119.7 187.72,121.13 188.84,122.51 189.96,123.87 191.08,125.24 192.2,126.67 193.32,128.2 194.44,129.86 195.56,131.69 196.68,133.72 197.8,135.96 198.92,138.41 200.04,141.07 201.16,143.94 202.28,146.97 203.4,150.16 204.52,153.45 205.64,156.8 206.76,160.19 207.88,163.55 209,166.85 210.12,170.06 211.24,173.13 212.36,176.05 213.48,178.78 214.6,181.3 215.72,183.62 216.84,185.72 217.96,187.6 219.08,189.27 220.2,190.74 221.32,192.01 222.44,193.1 223.56,194.03 224.68,194.81 225.8,195.47 226.92,196 228.04,196.44 229.16,196.79 230.28,197.08 231.4,197.3 232.52,197.47 233.64,197.61 234.76,197.71 235.88,197.79 237,197.85 238.12,197.89" fill="none" stroke="#2b9bd0" stroke-width="0.6" stroke-linejoin="round" stroke-linecap="butt" stroke-opacity="0.35"/>
<polyline points="92.35,197.92 93.39,197.89 94.44,197.85 95.48,197.81 96.52,197.74 97.56,197.66 98.61,197.56 99.65,197.44 100.69,197.29 101.73,197.11 102.78,196.89 103.82,196.64 104.86,196.35 105.91,196.02 106.95,195.65 107.99,195.23 109.03,194.78 110.08,194.28 111.12,193.75 112.16,193.19 113.2,192.59 114.25,191.96 115.29,191.31 116.33,190.62 117.38,189.91 118.42,189.16 119.46,188.37 120.5,187.52 121.55,186.61 122.59,185.6 123.63,184.5 124.67,183.26 125.72,181.88 126.76,180.33 127.8,178.59 128.85,176.65 129.89,174.49 130.93,172.11 131.97,169.51 133.02,166.69 134.06,163.69 135.1,160.51 136.14,157.18 137.19,153.76 138.23,150.27 139.27,146.76 140.32,143.29 141.36,139.9 142.4,136.64 143.44,133.56 144.49,130.71 145.53,128.1 146.57,125.79 147.62,123.78 148.66,122.09 149.7,120.73 150.74,119.68 151.79,118.94 152.83,118.46 153.87,118.23 154.91,118.19 155.96,118.29 157,118.47 158.04,118.68 159.09,118.85 160.13,118.9 161.17,118.78 162.21,118.42 163.26,117.78 164.3,116.81 165.34,115.48 166.38,113.78 167.43,111.7 168.47,109.25 169.51,106.49 170.56,103.45 171.6,100.2 172.64,96.83 173.68,93.43 174.73,90.09 175.77,86.92 176.81,84.03 177.85,81.51 178.9,79.45 179.94,77.93 180.98,77.02 182.03,76.75 183.07,77.14 184.11,78.22 185.15,79.95 186.2,82.32 187.24,85.26 188.28,88.72 189.32,92.63 190.37,96.91 191.41,101.49 192.45,106.27 193.5,111.2 194.54,116.19 195.58,121.19 196.62,126.14 197.67,131 198.71,135.74 199.75,140.32 200.79,144.73 201.84,148.95 202.88,152.98 203.92,156.82 204.97,160.45 206.01,163.89 207.05,167.13 208.09,170.17 209.14,173.03 210.18,175.7 211.22,178.18 212.27,180.48 213.31,182.61 214.35,184.55 215.39,186.33 216.44,187.94 217.48,189.38 218.52,190.67 219.56,191.82 220.61,192.82 221.65,193.7 222.69,194.46 223.74,195.11 224.78,195.66 225.82,196.12 226.86,196.5 227.91,196.82 228.95,197.08 229.99,197.29 231.03,197.46 232.08,197.59 233.12,197.69 234.16,197.77 235.21,197.83 236.25,197.88 237.29,197.91" fill="none" stroke="#2b9bd0" stroke-width="0.6" stroke-linejoin="round" stroke-linecap="butt" stroke-opacity="0.35"/>
<polyline points="84.91,197.88 85.98,197.83 87.04,197.76 88.11,197.66 89.17,197.53 90.23,197.36 91.3,197.14 92.36,196.85 93.43,196.49 94.49,196.05 95.56,195.5 96.62,194.85 97.68,194.09 98.75,193.2 99.81,192.19 100.88,191.06 101.94,189.81 103.01,188.47 104.07,187.04 105.13,185.56 106.2,184.05 107.26,182.55 108.33,181.08 109.39,179.68 110.45,178.4 111.52,177.25 112.58,176.26 113.65,175.46 114.71,174.84 115.78,174.43 116.84,174.22 117.9,174.2 118.97,174.35 120.03,174.65 121.1,175.09 122.16,175.62 123.23,176.24 124.29,176.9 125.35,177.57 126.42,178.23 127.48,178.84 128.55,179.37 129.61,179.8 130.67,180.08 131.74,180.2 132.8,180.11 133.87,179.8 134.93,179.24 136,178.41 137.06,177.29 138.12,175.87 139.19,174.16 140.25,172.14 141.32,169.84 142.38,167.27 143.45,164.44 144.51,161.38 145.57,158.12 146.64,154.68 147.7,151.09 148.77,147.39 149.83,143.58 150.89,139.69 151.96,135.74 153.02,131.74 154.09,127.71 155.15,123.65 156.22,119.58 157.28,115.52 158.34,111.48 159.41,107.5 160.47,103.61 161.54,99.83 162.6,96.22 163.67,92.82 164.73,89.67 165.79,86.83 166.86,84.34 167.92,82.24 168.99,80.56 170.05,79.33 171.11,78.56 172.18,78.28 173.24,78.47 174.31,79.11 175.37,80.19 176.44,81.68 177.5,83.53 178.56,85.68 179.63,88.1 180.69,90.71 181.76,93.46 182.82,96.29 183.89,99.16 184.95,102 186.01,104.79 187.08,107.5 188.14,110.1 189.21,112.61 190.27,115.01 191.34,117.34 192.4,119.6 193.46,121.84 194.53,124.07 195.59,126.34 196.66,128.68 197.72,131.11 198.78,133.66 199.85,136.35 200.91,139.17 201.98,142.15 203.04,145.27 204.11,148.52 205.17,151.88 206.23,155.32 207.3,158.81 208.36,162.32 209.43,165.8 210.49,169.21 211.56,172.51 212.62,175.67 213.68,178.64 214.75,181.4 215.81,183.93 216.88,186.21 217.94,188.24 219,190.02 220.07,191.55 221.13,192.86 222.2,193.96 223.26,194.86 224.33,195.59 225.39,196.18 226.45,196.64 227.52,197 228.58,197.27 229.65,197.48 230.71,197.63 231.78,197.74 232.84,197.82" fill="none" stroke="#2b9bd0" stroke-width="0.6" stroke-linejoin="round" stroke-linecap="butt" stroke-opacity="0.35"/>
<polyline points="63.48,197.93 64.85,197.89 66.22,197.85 67.58,197.78 68.95,197.69 70.31,197.58 71.68,197.43 73.04,197.25 74.41,197.02 75.78,196.74 77.14,196.42 78.51,196.04 79.87,195.62 81.24,195.15 82.6,194.66 83.97,194.14 85.33,193.62 86.7,193.11 88.07,192.63 89.43,192.21 90.8,191.87 92.16,191.61 93.53,191.44 94.89,191.38 96.26,191.42 97.63,191.56 98.99,191.77 100.36,192.04 101.72,192.33 103.09,192.61 104.45,192.84 105.82,192.98 107.18,192.99 108.55,192.82 109.92,192.44 111.28,191.79 112.65,190.84 114.01,189.57 115.38,187.95 116.74,185.96 118.11,183.62 119.48,180.92 120.84,177.9 122.21,174.61 123.57,171.09 124.94,167.42 126.3,163.69 127.67,159.96 129.03,156.34 130.4,152.89 131.77,149.68 133.13,146.77 134.5,144.18 135.86,141.91 137.23,139.96 138.59,138.29 139.96,136.84 141.33,135.54 142.69,134.32 144.06,133.1 145.42,131.79 146.79,130.33 148.15,128.68 149.52,126.78 150.88,124.62 152.25,122.2 153.62,119.53 154.98,116.65 156.35,113.59 157.71,110.41 159.08,107.19 160.44,104.01 161.81,100.95 163.18,98.09 164.54,95.52 165.91,93.33 167.27,91.59 168.64,90.38 170,89.76 171.37,89.75 172.73,90.38 174.1,91.64 175.47,93.53 176.83,96 178.2,98.99 179.56,102.43 180.93,106.25 182.29,110.36 183.66,114.68 185.03,119.12 186.39,123.62 187.76,128.13 189.12,132.58 190.49,136.94 191.85,141.18 193.22,145.28 194.58,149.22 195.95,152.98 197.32,156.55 198.68,159.92 200.05,163.07 201.41,165.99 202.78,168.66 204.14,171.07 205.51,173.23 206.88,175.13 208.24,176.79 209.61,178.22 210.97,179.45 212.34,180.52 213.7,181.45 215.07,182.28 216.43,183.06 217.8,183.8 219.17,184.55 220.53,185.31 221.9,186.11 223.26,186.94 224.63,187.81 225.99,188.7 227.36,189.62 228.73,190.53 230.09,191.43 231.46,192.29 232.82,193.11 234.19,193.88 235.55,194.57 236.92,195.19 238.28,195.73 239.65,196.19 241.02,196.59 242.38,196.91 243.75,197.17 245.11,197.38 246.48,197.55 247.84,197.67 249.21,197.77 250.58,197.84 251.94,197.89 253.31,197.92" fill="none" stroke="#2b9bd0" stroke-width="0.6" stroke-linejoin="round" stroke-linecap="butt" stroke-opacity="0.35"/>
<polyline points="81.84,197.92 82.99,197.89 84.14,197.85 85.28,197.8 86.43,197.73 87.58,197.64 88.73,197.53 89.88,197.38 91.03,197.21 92.18,197.01 93.33,196.76 94.48,196.47 95.63,196.14 96.78,195.77 97.93,195.35 99.08,194.9 100.22,194.4 101.37,193.88 102.52,193.33 103.67,192.77 104.82,192.19 105.97,191.61 107.12,191.03 108.27,190.45 109.42,189.86 110.57,189.27 111.72,188.66 112.87,188.02 114.01,187.34 115.16,186.58 116.31,185.74 117.46,184.79 118.61,183.7 119.76,182.47 120.91,181.06 122.06,179.47 123.21,177.69 124.36,175.72 125.51,173.57 126.66,171.23 127.81,168.74 128.95,166.1 130.1,163.34 131.25,160.48 132.4,157.54 133.55,154.55 134.7,151.51 135.85,148.46 137,145.4 138.15,142.35 139.3,139.32 140.45,136.32 141.6,133.35 142.75,130.43 143.89,127.55 145.04,124.75 146.19,122.01 147.34,119.36 148.49,116.8 149.64,114.35 150.79,112.02 151.94,109.82 153.09,107.74 154.24,105.79 155.39,103.97 156.54,102.27 157.69,100.69 158.83,99.2 159.98,97.8 161.13,96.48 162.28,95.24 163.43,94.08 164.58,93 165.73,92.01 166.88,91.14 168.03,90.4 169.18,89.83 170.33,89.46 171.48,89.32 172.62,89.44 173.77,89.85 174.92,90.58 176.07,91.65 177.22,93.06 178.37,94.84 179.52,96.97 180.67,99.45 181.82,102.27 182.97,105.41 184.12,108.84 185.27,112.53 186.42,116.45 187.56,120.54 188.71,124.77 189.86,129.08 191.01,133.42 192.16,137.73 193.31,141.96 194.46,146.06 195.61,149.99 196.76,153.71 197.91,157.18 199.06,160.38 200.21,163.31 201.36,165.95 202.5,168.33 203.65,170.45 204.8,172.35 205.95,174.05 207.1,175.58 208.25,176.99 209.4,178.31 210.55,179.56 211.7,180.77 212.85,181.96 214,183.14 215.15,184.32 216.3,185.49 217.44,186.66 218.59,187.81 219.74,188.93 220.89,190.01 222.04,191.03 223.19,192 224.34,192.88 225.49,193.69 226.64,194.42 227.79,195.05 228.94,195.61 230.09,196.08 231.23,196.48 232.38,196.81 233.53,197.08 234.68,197.3 235.83,197.47 236.98,197.61 238.13,197.71 239.28,197.79 240.43,197.85 241.58,197.89" fill="none" stroke="#2b9bd0" stroke-width="0.6" stroke-linejoin="round" stroke-linecap="butt" stroke-opacity="0.35"/>
<polyline points="70.45,197.88 71.69,197.83 72.94,197.76 74.18,197.68 75.42,197.57 76.66,197.42 77.91,197.24 79.15,197.02 80.39,196.75 81.63,196.41 82.88,196.02 84.12,195.56 85.36,195.03 86.6,194.43 87.85,193.77 89.09,193.04 90.33,192.26 91.57,191.44 92.82,190.6 94.06,189.76 95.3,188.93 96.55,188.14 97.79,187.42 99.03,186.78 100.27,186.24 101.52,185.82 102.76,185.54 104,185.38 105.24,185.36 106.49,185.45 107.73,185.64 108.97,185.91 110.21,186.22 111.46,186.53 112.7,186.81 113.94,187.01 115.19,187.08 116.43,186.97 117.67,186.64 118.91,186.05 120.16,185.16 121.4,183.94 122.64,182.36 123.88,180.4 125.13,178.06 126.37,175.34 127.61,172.26 128.85,168.83 130.1,165.1 131.34,161.11 132.58,156.92 133.83,152.61 135.07,148.23 136.31,143.86 137.55,139.59 138.8,135.48 140.04,131.6 141.28,128.01 142.52,124.75 143.77,121.84 145.01,119.31 146.25,117.14 147.49,115.32 148.74,113.82 149.98,112.58 151.22,111.55 152.47,110.68 153.71,109.91 154.95,109.18 156.19,108.45 157.44,107.67 158.68,106.82 159.92,105.88 161.16,104.84 162.41,103.71 163.65,102.52 164.89,101.28 166.13,100.03 167.38,98.82 168.62,97.69 169.86,96.68 171.11,95.83 172.35,95.19 173.59,94.81 174.83,94.71 176.08,94.94 177.32,95.54 178.56,96.51 179.8,97.89 181.05,99.69 182.29,101.92 183.53,104.58 184.77,107.66 186.02,111.13 187.26,114.97 188.5,119.14 189.75,123.58 190.99,128.23 192.23,133.03 193.47,137.91 194.72,142.8 195.96,147.61 197.2,152.3 198.44,156.79 199.69,161.04 200.93,165 202.17,168.66 203.41,171.99 204.66,175 205.9,177.68 207.14,180.06 208.39,182.16 209.63,184 210.87,185.62 212.11,187.04 213.36,188.3 214.6,189.41 215.84,190.4 217.08,191.3 218.33,192.1 219.57,192.84 220.81,193.5 222.05,194.11 223.3,194.66 224.54,195.15 225.78,195.6 227.03,195.99 228.27,196.34 229.51,196.64 230.75,196.9 232,197.12 233.24,197.3 234.48,197.46 235.72,197.58 236.97,197.68 238.21,197.76 239.45,197.82 240.69,197.87 241.94,197.9 243.18,197.93" fill="none" stroke="#2b9bd0" stroke-width="0.6" stroke-linejoin="round" stroke-linecap="butt" stroke-opacity="0.35"/>
<polyline points="59.38,197.93 60.72,197.9 62.05,197.85 63.39,197.8 64.73,197.72 66.07,197.62 67.41,197.49 68.75,197.33 70.08,197.13 71.42,196.89 72.76,196.61 74.1,196.28 75.44,195.91 76.78,195.5 78.12,195.06 79.45,194.59 80.79,194.1 82.13,193.62 83.47,193.15 84.81,192.72 86.15,192.34 87.48,192.03 88.82,191.79 90.16,191.65 91.5,191.61 92.84,191.66 94.18,191.82 95.51,192.06 96.85,192.38 98.19,192.76 99.53,193.18 100.87,193.64 102.21,194.1 103.55,194.54 104.88,194.96 106.22,195.33 107.56,195.63 108.9,195.85 110.24,195.97 111.58,195.98 112.91,195.86 114.25,195.6 115.59,195.16 116.93,194.54 118.27,193.71 119.61,192.64 120.94,191.32 122.28,189.72 123.62,187.83 124.96,185.63 126.3,183.12 127.64,180.29 128.97,177.16 130.31,173.74 131.65,170.06 132.99,166.15 134.33,162.05 135.67,157.82 137.01,153.51 138.34,149.18 139.68,144.88 141.02,140.69 142.36,136.64 143.7,132.81 145.04,129.23 146.37,125.94 147.71,122.96 149.05,120.31 150.39,117.97 151.73,115.93 153.07,114.16 154.4,112.6 155.74,111.21 157.08,109.92 158.42,108.68 159.76,107.44 161.1,106.15 162.44,104.8 163.77,103.37 165.11,101.89 166.45,100.39 167.79,98.94 169.13,97.59 170.47,96.44 171.8,95.56 173.14,95.04 174.48,94.94 175.82,95.3 177.16,96.17 178.5,97.54 179.83,99.4 181.17,101.7 182.51,104.38 183.85,107.38 185.19,110.61 186.53,113.98 187.87,117.43 189.2,120.87 190.54,124.25 191.88,127.52 193.22,130.67 194.56,133.69 195.9,136.57 197.23,139.34 198.57,142.02 199.91,144.63 201.25,147.22 202.59,149.8 203.93,152.4 205.26,155.04 206.6,157.72 207.94,160.44 209.28,163.2 210.62,165.98 211.96,168.75 213.29,171.5 214.63,174.2 215.97,176.81 217.31,179.31 218.65,181.67 219.99,183.88 221.33,185.92 222.66,187.78 224,189.44 225.34,190.92 226.68,192.21 228.02,193.32 229.36,194.26 230.69,195.05 232.03,195.7 233.37,196.23 234.71,196.66 236.05,197 237.39,197.26 238.72,197.46 240.06,197.61 241.4,197.72 242.74,197.81 244.08,197.87 245.42,197.91" fill="none" stroke="#2b9bd0" stroke-width="0.6" stroke-linejoin="round" stroke-linecap="butt" stroke-opacity="0.35"/>
<polyline points="55.22,197.94 56.61,197.91 58,197.87 59.38,197.83 60.77,197.76 62.16,197.68 63.54,197.58 64.93,197.45 66.32,197.3 67.7,197.1 69.09,196.87 70.48,196.6 71.86,196.28 73.25,195.91 74.64,195.5 76.02,195.03 77.41,194.52 78.8,193.95 80.18,193.35 81.57,192.7 82.96,192.02 84.34,191.31 85.73,190.59 87.12,189.85 88.5,189.11 89.89,188.37 91.28,187.64 92.66,186.94 94.05,186.27 95.44,185.65 96.82,185.07 98.21,184.56 99.6,184.12 100.98,183.75 102.37,183.46 103.76,183.26 105.14,183.14 106.53,183.09 107.92,183.09 109.3,183.14 110.69,183.2 112.08,183.25 113.46,183.25 114.85,183.17 116.24,182.96 117.62,182.59 119.01,182.02 120.4,181.21 121.78,180.14 123.17,178.78 124.56,177.13 125.94,175.17 127.33,172.92 128.72,170.37 130.1,167.57 131.49,164.53 132.88,161.29 134.26,157.9 135.65,154.41 137.04,150.85 138.42,147.28 139.81,143.74 141.2,140.26 142.58,136.88 143.97,133.63 145.35,130.52 146.74,127.56 148.13,124.76 149.51,122.11 150.9,119.61 152.29,117.26 153.67,115.05 155.06,112.97 156.45,111.03 157.83,109.24 159.22,107.6 160.61,106.13 161.99,104.86 163.38,103.79 164.77,102.97 166.15,102.4 167.54,102.12 168.93,102.12 170.31,102.43 171.7,103.04 173.09,103.95 174.47,105.14 175.86,106.59 177.25,108.29 178.63,110.2 180.02,112.31 181.41,114.57 182.79,116.97 184.18,119.48 185.57,122.09 186.95,124.78 188.34,127.52 189.73,130.32 191.11,133.16 192.5,136.03 193.89,138.93 195.27,141.84 196.66,144.77 198.05,147.7 199.43,150.62 200.82,153.52 202.21,156.41 203.59,159.25 204.98,162.06 206.37,164.8 207.75,167.48 209.14,170.09 210.53,172.61 211.91,175.04 213.3,177.35 214.69,179.56 216.07,181.64 217.46,183.59 218.85,185.4 220.23,187.08 221.62,188.61 223.01,189.99 224.39,191.23 225.78,192.33 227.17,193.3 228.55,194.14 229.94,194.87 231.33,195.48 232.71,195.99 234.1,196.42 235.49,196.77 236.87,197.05 238.26,197.28 239.65,197.46 241.03,197.6 242.42,197.7 243.81,197.79 245.19,197.85 246.58,197.89 247.97,197.92" fill="none" stroke="#2b9bd0" stroke-width="0.6" stroke-linejoin="round" stroke-linecap="butt" stroke-opacity="0.35"/>
<polyline points="82.43,197.93 83.63,197.9 84.83,197.87 86.02,197.82 87.22,197.76 88.42,197.69 89.62,197.59 90.81,197.48 92.01,197.33 93.21,197.16 94.4,196.95 95.6,196.71 96.8,196.43 97.99,196.1 99.19,195.73 100.39,195.32 101.59,194.86 102.78,194.36 103.98,193.81 105.18,193.22 106.37,192.59 107.57,191.92 108.77,191.21 109.96,190.45 111.16,189.66 112.36,188.81 113.56,187.92 114.75,186.95 115.95,185.92 117.15,184.8 118.34,183.58 119.54,182.24 120.74,180.78 121.93,179.17 123.13,177.42 124.33,175.5 125.53,173.42 126.72,171.17 127.92,168.75 129.12,166.18 130.31,163.46 131.51,160.61 132.71,157.66 133.9,154.61 135.1,151.5 136.3,148.35 137.5,145.18 138.69,142.04 139.89,138.93 141.09,135.88 142.28,132.91 143.48,130.05 144.68,127.32 145.87,124.72 147.07,122.26 148.27,119.97 149.47,117.85 150.66,115.9 151.86,114.14 153.06,112.56 154.25,111.18 155.45,109.99 156.65,109 157.85,108.2 159.04,107.6 160.24,107.19 161.44,106.95 162.63,106.88 163.83,106.96 165.03,107.18 166.22,107.51 167.42,107.93 168.62,108.42 169.82,108.94 171.01,109.48 172.21,110.01 173.41,110.5 174.6,110.94 175.8,111.32 177,111.62 178.19,111.86 179.39,112.04 180.59,112.18 181.79,112.3 182.98,112.45 184.18,112.65 185.38,112.96 186.57,113.43 187.77,114.09 188.97,115.01 190.16,116.21 191.36,117.74 192.56,119.61 193.76,121.84 194.95,124.42 196.15,127.34 197.35,130.57 198.54,134.07 199.74,137.79 200.94,141.66 202.13,145.64 203.33,149.65 204.53,153.63 205.73,157.53 206.92,161.28 208.12,164.86 209.32,168.22 210.51,171.35 211.71,174.23 212.91,176.85 214.1,179.22 215.3,181.36 216.5,183.27 217.7,184.98 218.89,186.5 220.09,187.86 221.29,189.08 222.48,190.16 223.68,191.14 224.88,192.02 226.07,192.8 227.27,193.51 228.47,194.15 229.67,194.71 230.86,195.22 232.06,195.66 233.26,196.06 234.45,196.4 235.65,196.69 236.85,196.94 238.04,197.15 239.24,197.33 240.44,197.47 241.64,197.59 242.83,197.69 244.03,197.76 245.23,197.82 246.42,197.87 247.62,197.9 248.82,197.93" fill="none" stroke="#2b9bd0" stroke-width="0.6" stroke-linejoin="round" stroke-linecap="butt" stroke-opacity="0.35"/>
<polyline points="62.94,197.94 64.35,197.91 65.76,197.88 67.17,197.84 68.58,197.78 70,197.71 71.41,197.62 72.82,197.51 74.23,197.38 75.64,197.21 77.06,197.02 78.47,196.79 79.88,196.53 81.29,196.23 82.7,195.9 84.11,195.53 85.53,195.13 86.94,194.71 88.35,194.26 89.76,193.79 91.17,193.32 92.59,192.83 94,192.35 95.41,191.87 96.82,191.39 98.23,190.92 99.64,190.45 101.06,189.99 102.47,189.52 103.88,189.05 105.29,188.56 106.7,188.04 108.12,187.5 109.53,186.91 110.94,186.28 112.35,185.6 113.76,184.86 115.17,184.05 116.59,183.17 118,182.21 119.41,181.17 120.82,180.03 122.23,178.79 123.65,177.43 125.06,175.93 126.47,174.29 127.88,172.48 129.29,170.49 130.71,168.31 132.12,165.93 133.53,163.35 134.94,160.57 136.35,157.6 137.76,154.45 139.18,151.15 140.59,147.73 142,144.23 143.41,140.69 144.82,137.15 146.24,133.66 147.65,130.25 149.06,126.97 150.47,123.85 151.88,120.92 153.29,118.21 154.71,115.72 156.12,113.48 157.53,111.49 158.94,109.76 160.35,108.29 161.77,107.08 163.18,106.14 164.59,105.46 166,105.05 167.41,104.91 168.82,105.03 170.24,105.41 171.65,106.04 173.06,106.9 174.47,107.98 175.88,109.25 177.3,110.7 178.71,112.29 180.12,113.99 181.53,115.77 182.94,117.63 184.35,119.53 185.77,121.46 187.18,123.43 188.59,125.42 190,127.45 191.41,129.52 192.83,131.64 194.24,133.83 195.65,136.1 197.06,138.44 198.47,140.88 199.88,143.4 201.3,145.99 202.71,148.64 204.12,151.35 205.53,154.07 206.94,156.81 208.36,159.52 209.77,162.19 211.18,164.8 212.59,167.33 214,169.78 215.42,172.11 216.83,174.34 218.24,176.45 219.65,178.44 221.06,180.32 222.47,182.08 223.89,183.73 225.3,185.27 226.71,186.7 228.12,188.03 229.53,189.25 230.95,190.37 232.36,191.4 233.77,192.33 235.18,193.17 236.59,193.92 238,194.59 239.42,195.17 240.83,195.67 242.24,196.11 243.65,196.48 245.06,196.79 246.48,197.04 247.89,197.26 249.3,197.43 250.71,197.56 252.12,197.67 253.53,197.75 254.95,197.82 256.36,197.87 257.77,197.91 259.18,197.93" fill="none" stroke="#2b9bd0" stroke-width="0.6" stroke-linejoin="round" stroke-linecap="butt" stroke-opacity="0.35"/>
<polyline points="90.23,197.92 91.32,197.88 92.41,197.83 93.5,197.77 94.59,197.68 95.67,197.57 96.76,197.43 97.85,197.25 98.94,197.03 100.03,196.76 101.12,196.44 102.2,196.06 103.29,195.62 104.38,195.12 105.47,194.56 106.56,193.93 107.65,193.25 108.73,192.51 109.82,191.72 110.91,190.88 112,190.01 113.09,189.1 114.17,188.16 115.26,187.19 116.35,186.19 117.44,185.16 118.53,184.09 119.62,182.99 120.7,181.85 121.79,180.67 122.88,179.45 123.97,178.19 125.06,176.9 126.15,175.57 127.23,174.23 128.32,172.87 129.41,171.51 130.5,170.16 131.59,168.8 132.67,167.45 133.76,166.1 134.85,164.72 135.94,163.31 137.03,161.83 138.12,160.26 139.2,158.57 140.29,156.73 141.38,154.7 142.47,152.48 143.56,150.04 144.65,147.38 145.73,144.5 146.82,141.43 147.91,138.18 149,134.79 150.09,131.32 151.18,127.81 152.26,124.34 153.35,120.95 154.44,117.71 155.53,114.66 156.62,111.85 157.7,109.31 158.79,107.04 159.88,105.03 160.97,103.28 162.06,101.74 163.15,100.37 164.23,99.11 165.32,97.92 166.41,96.75 167.5,95.57 168.59,94.37 169.68,93.16 170.76,91.96 171.85,90.84 172.94,89.85 174.03,89.08 175.12,88.62 176.2,88.55 177.29,88.95 178.38,89.87 179.47,91.35 180.56,93.39 181.65,95.97 182.73,99.02 183.82,102.47 184.91,106.2 186,110.11 187.09,114.06 188.18,117.93 189.26,121.61 190.35,125.02 191.44,128.07 192.53,130.73 193.62,132.99 194.7,134.86 195.79,136.39 196.88,137.64 197.97,138.7 199.06,139.65 200.15,140.58 201.23,141.58 202.32,142.73 203.41,144.08 204.5,145.68 205.59,147.56 206.68,149.71 207.76,152.13 208.85,154.78 209.94,157.62 211.03,160.6 212.12,163.67 213.2,166.76 214.29,169.83 215.38,172.82 216.47,175.7 217.56,178.42 218.65,180.96 219.73,183.31 220.82,185.44 221.91,187.36 223,189.07 224.09,190.58 225.18,191.88 226.26,193.01 227.35,193.97 228.44,194.78 229.53,195.45 230.62,196 231.71,196.45 232.79,196.81 233.88,197.1 234.97,197.33 236.06,197.5 237.15,197.64 238.23,197.74 239.32,197.81 240.41,197.87 241.5,197.91" fill="none" stroke="#2b9bd0" stroke-width="0.6" stroke-linejoin="round" stroke-linecap="butt" stroke-opacity="0.35"/>
<polyline points="84.8,197.9 85.89,197.85 86.99,197.79 88.09,197.71 89.18,197.6 90.28,197.46 91.37,197.27 92.47,197.04 93.56,196.74 94.66,196.37 95.75,195.92 96.85,195.38 97.95,194.74 99.04,193.99 100.14,193.12 101.23,192.13 102.33,191.02 103.42,189.79 104.52,188.45 105.61,187 106.71,185.47 107.81,183.87 108.9,182.23 110,180.57 111.09,178.91 112.19,177.28 113.28,175.71 114.38,174.22 115.47,172.83 116.57,171.55 117.66,170.41 118.76,169.4 119.86,168.52 120.95,167.78 122.05,167.15 123.14,166.64 124.24,166.2 125.33,165.83 126.43,165.5 127.52,165.18 128.62,164.84 129.72,164.46 130.81,164.01 131.91,163.46 133,162.8 134.1,162 135.19,161.04 136.29,159.92 137.38,158.62 138.48,157.14 139.58,155.48 140.67,153.63 141.77,151.6 142.86,149.4 143.96,147.05 145.05,144.55 146.15,141.94 147.24,139.22 148.34,136.43 149.44,133.58 150.53,130.71 151.63,127.82 152.72,124.95 153.82,122.11 154.91,119.31 156.01,116.55 157.1,113.85 158.2,111.2 159.3,108.6 160.39,106.07 161.49,103.59 162.58,101.19 163.68,98.86 164.77,96.64 165.87,94.55 166.96,92.62 168.06,90.9 169.16,89.43 170.25,88.25 171.35,87.41 172.44,86.96 173.54,86.93 174.63,87.34 175.73,88.21 176.82,89.54 177.92,91.33 179.02,93.54 180.11,96.15 181.21,99.1 182.3,102.34 183.4,105.82 184.49,109.46 185.59,113.21 186.68,116.99 187.78,120.76 188.88,124.46 189.97,128.04 191.07,131.47 192.16,134.72 193.26,137.78 194.35,140.64 195.45,143.3 196.54,145.78 197.64,148.08 198.73,150.25 199.83,152.3 200.93,154.27 202.02,156.19 203.12,158.09 204.21,160.01 205.31,161.95 206.4,163.94 207.5,166 208.59,168.1 209.69,170.27 210.79,172.47 211.88,174.68 212.98,176.9 214.07,179.08 215.17,181.2 216.26,183.23 217.36,185.16 218.45,186.96 219.55,188.61 220.65,190.1 221.74,191.43 222.84,192.61 223.93,193.62 225.03,194.49 226.12,195.22 227.22,195.82 228.31,196.32 229.41,196.72 230.51,197.03 231.6,197.28 232.7,197.47 233.79,197.62 234.89,197.72 235.98,197.81 237.08,197.86" fill="none" stroke="#2b9bd0" stroke-width="0.6" stroke-linejoin="round" stroke-linecap="butt" stroke-opacity="0.35"/>
<polyline points="93.54,197.89 94.53,197.83 95.52,197.74 96.51,197.62 97.5,197.45 98.49,197.21 99.49,196.91 100.48,196.5 101.47,195.98 102.46,195.33 103.45,194.52 104.44,193.54 105.43,192.38 106.42,191.01 107.41,189.45 108.41,187.67 109.4,185.71 110.39,183.57 111.38,181.29 112.37,178.9 113.36,176.45 114.35,174.02 115.34,171.65 116.33,169.44 117.33,167.45 118.32,165.77 119.31,164.46 120.3,163.57 121.29,163.14 122.28,163.17 123.27,163.65 124.26,164.54 125.25,165.75 126.24,167.21 127.24,168.79 128.23,170.39 129.22,171.91 130.21,173.25 131.2,174.34 132.19,175.14 133.18,175.65 134.17,175.87 135.16,175.85 136.16,175.64 137.15,175.31 138.14,174.93 139.13,174.53 140.12,174.14 141.11,173.78 142.1,173.4 143.09,172.95 144.08,172.35 145.08,171.51 146.07,170.33 147.06,168.68 148.05,166.47 149.04,163.61 150.03,160.02 151.02,155.66 152.01,150.49 153,144.53 153.99,137.81 154.99,130.41 155.98,122.43 156.97,114.02 157.96,105.36 158.95,96.64 159.94,88.1 160.93,79.97 161.92,72.47 162.91,65.82 163.91,60.19 164.9,55.71 165.89,52.47 166.88,50.49 167.87,49.74 168.86,50.13 169.85,51.53 170.84,53.79 171.83,56.73 172.83,60.17 173.82,63.91 174.81,67.8 175.8,71.7 176.79,75.49 177.78,79.1 178.77,82.48 179.76,85.61 180.75,88.53 181.74,91.28 182.74,93.92 183.73,96.56 184.72,99.27 185.71,102.14 186.7,105.25 187.69,108.64 188.68,112.35 189.67,116.37 190.66,120.65 191.66,125.12 192.65,129.69 193.64,134.27 194.63,138.73 195.62,142.99 196.61,146.96 197.6,150.6 198.59,153.86 199.58,156.76 200.58,159.33 201.57,161.6 202.56,163.64 203.55,165.52 204.54,167.29 205.53,169.02 206.52,170.74 207.51,172.49 208.5,174.29 209.49,176.13 210.49,178.01 211.48,179.91 212.47,181.8 213.46,183.67 214.45,185.48 215.44,187.2 216.43,188.82 217.42,190.3 218.41,191.64 219.41,192.83 220.4,193.86 221.39,194.74 222.38,195.48 223.37,196.08 224.36,196.56 225.35,196.95 226.34,197.24 227.33,197.46 228.33,197.63 229.32,197.74 230.31,197.83 231.3,197.89" fill="none" stroke="#2b9bd0" stroke-width="0.6" stroke-linejoin="round" stroke-linecap="butt" stroke-opacity="0.35"/>
<polyline points="72.56,197.93 73.8,197.9 75.03,197.87 76.27,197.82 77.5,197.75 78.74,197.67 79.97,197.57 81.21,197.45 82.44,197.29 83.68,197.1 84.92,196.88 86.15,196.61 87.39,196.29 88.62,195.93 89.86,195.52 91.09,195.06 92.33,194.55 93.56,193.99 94.8,193.39 96.03,192.76 97.27,192.1 98.5,191.42 99.74,190.74 100.97,190.06 102.21,189.4 103.44,188.77 104.68,188.18 105.92,187.63 107.15,187.14 108.39,186.71 109.62,186.33 110.86,185.99 112.09,185.7 113.33,185.43 114.56,185.16 115.8,184.87 117.03,184.53 118.27,184.11 119.5,183.57 120.74,182.9 121.97,182.05 123.21,181.01 124.45,179.73 125.68,178.22 126.92,176.46 128.15,174.44 129.39,172.17 130.62,169.67 131.86,166.94 133.09,164.03 134.33,160.96 135.56,157.78 136.8,154.52 138.03,151.23 139.27,147.95 140.5,144.72 141.74,141.58 142.97,138.56 144.21,135.7 145.45,133.02 146.68,130.53 147.92,128.24 149.15,126.17 150.39,124.3 151.62,122.64 152.86,121.16 154.09,119.86 155.33,118.7 156.56,117.67 157.8,116.72 159.03,115.84 160.27,114.99 161.5,114.12 162.74,113.22 163.98,112.25 165.21,111.19 166.45,110.02 167.68,108.74 168.92,107.35 170.15,105.85 171.39,104.29 172.62,102.69 173.86,101.11 175.09,99.6 176.33,98.23 177.56,97.07 178.8,96.19 180.03,95.65 181.27,95.52 182.51,95.83 183.74,96.64 184.98,97.95 186.21,99.77 187.45,102.08 188.68,104.86 189.92,108.07 191.15,111.65 192.39,115.53 193.62,119.65 194.86,123.95 196.09,128.34 197.33,132.78 198.56,137.19 199.8,141.54 201.03,145.78 202.27,149.88 203.51,153.81 204.74,157.57 205.98,161.13 207.21,164.5 208.45,167.67 209.68,170.65 210.92,173.44 212.15,176.05 213.39,178.47 214.62,180.71 215.86,182.79 217.09,184.69 218.33,186.43 219.56,188.02 220.8,189.44 222.04,190.72 223.27,191.86 224.51,192.86 225.74,193.73 226.98,194.49 228.21,195.14 229.45,195.69 230.68,196.15 231.92,196.54 233.15,196.85 234.39,197.11 235.62,197.31 236.86,197.48 238.09,197.61 239.33,197.71 240.57,197.78 241.8,197.84 243.04,197.89 244.27,197.92" fill="none" stroke="#2b9bd0" stroke-width="0.6" stroke-linejoin="round" stroke-linecap="butt" stroke-opacity="0.35"/>
<polyline points="70.46,197.88 71.73,197.82 73,197.74 74.27,197.61 75.54,197.44 76.8,197.22 78.07,196.92 79.34,196.53 80.61,196.04 81.88,195.43 83.15,194.71 84.42,193.85 85.68,192.88 86.95,191.8 88.22,190.63 89.49,189.4 90.76,188.16 92.03,186.95 93.29,185.83 94.56,184.85 95.83,184.06 97.1,183.5 98.37,183.19 99.64,183.17 100.91,183.42 102.17,183.94 103.44,184.68 104.71,185.62 105.98,186.69 107.25,187.84 108.52,189.01 109.78,190.15 111.05,191.2 112.32,192.13 113.59,192.9 114.86,193.48 116.13,193.86 117.4,194.03 118.66,193.99 119.93,193.73 121.2,193.27 122.47,192.61 123.74,191.76 125.01,190.72 126.27,189.51 127.54,188.12 128.81,186.56 130.08,184.82 131.35,182.9 132.62,180.77 133.89,178.42 135.15,175.81 136.42,172.92 137.69,169.72 138.96,166.16 140.23,162.23 141.5,157.89 142.76,153.15 144.03,148 145.3,142.46 146.57,136.6 147.84,130.47 149.11,124.17 150.38,117.83 151.64,111.58 152.91,105.58 154.18,99.97 155.45,94.91 156.72,90.53 157.99,86.93 159.26,84.19 160.52,82.33 161.79,81.33 163.06,81.14 164.33,81.66 165.6,82.78 166.87,84.36 168.13,86.25 169.4,88.31 170.67,90.43 171.94,92.5 173.21,94.46 174.48,96.29 175.75,97.98 177.01,99.57 178.28,101.12 179.55,102.71 180.82,104.41 182.09,106.31 183.36,108.49 184.62,110.98 185.89,113.83 187.16,117.03 188.43,120.57 189.7,124.39 190.97,128.42 192.24,132.59 193.5,136.8 194.77,140.97 196.04,145 197.31,148.83 198.58,152.39 199.85,155.64 201.11,158.54 202.38,161.1 203.65,163.31 204.92,165.2 206.19,166.8 207.46,168.17 208.73,169.34 209.99,170.39 211.26,171.37 212.53,172.33 213.8,173.33 215.07,174.41 216.34,175.58 217.6,176.87 218.87,178.28 220.14,179.8 221.41,181.4 222.68,183.05 223.95,184.72 225.22,186.37 226.48,187.96 227.75,189.47 229.02,190.87 230.29,192.13 231.56,193.24 232.83,194.21 234.09,195.03 235.36,195.72 236.63,196.27 237.9,196.71 239.17,197.06 240.44,197.33 241.71,197.52 242.97,197.67 244.24,197.78 245.51,197.85 246.78,197.9" fill="none" stroke="#2b9bd0" stroke-width="0.6" stroke-linejoin="round" stroke-linecap="butt" stroke-opacity="0.35"/>
<polyline points="90.71,197.91 91.74,197.88 92.76,197.84 93.79,197.79 94.81,197.72 95.84,197.64 96.86,197.54 97.89,197.41 98.91,197.25 99.94,197.06 100.96,196.83 101.99,196.55 103.01,196.23 104.04,195.84 105.06,195.39 106.09,194.87 107.11,194.27 108.14,193.6 109.16,192.83 110.19,191.98 111.21,191.04 112.24,190 113.26,188.87 114.29,187.65 115.31,186.34 116.34,184.95 117.36,183.48 118.39,181.93 119.42,180.32 120.44,178.66 121.47,176.95 122.49,175.19 123.52,173.41 124.54,171.61 125.57,169.79 126.59,167.96 127.62,166.13 128.64,164.3 129.67,162.48 130.69,160.66 131.72,158.85 132.74,157.05 133.77,155.26 134.79,153.48 135.82,151.71 136.84,149.95 137.87,148.19 138.89,146.44 139.92,144.7 140.94,142.96 141.97,141.24 142.99,139.54 144.02,137.85 145.04,136.19 146.07,134.55 147.09,132.94 148.12,131.36 149.14,129.82 150.17,128.33 151.19,126.88 152.22,125.48 153.24,124.13 154.27,122.84 155.29,121.6 156.32,120.42 157.34,119.3 158.37,118.25 159.39,117.25 160.42,116.32 161.44,115.46 162.47,114.65 163.49,113.91 164.52,113.22 165.54,112.59 166.57,112.01 167.59,111.48 168.62,110.98 169.64,110.52 170.67,110.07 171.69,109.64 172.72,109.22 173.74,108.78 174.77,108.34 175.79,107.88 176.82,107.4 177.84,106.89 178.87,106.36 179.89,105.81 180.92,105.27 181.94,104.73 182.97,104.22 183.99,103.76 185.02,103.39 186.04,103.13 187.07,103.02 188.09,103.09 189.12,103.39 190.14,103.94 191.17,104.77 192.19,105.93 193.22,107.42 194.24,109.26 195.27,111.47 196.29,114.03 197.32,116.94 198.34,120.18 199.37,123.72 200.39,127.53 201.42,131.55 202.44,135.75 203.47,140.07 204.49,144.46 205.52,148.85 206.54,153.21 207.57,157.47 208.59,161.6 209.62,165.55 210.64,169.29 211.67,172.79 212.69,176.03 213.72,179.01 214.74,181.71 215.77,184.14 216.79,186.3 217.82,188.2 218.84,189.86 219.87,191.29 220.89,192.52 221.92,193.56 222.94,194.43 223.97,195.15 224.99,195.75 226.02,196.24 227.04,196.63 228.07,196.94 229.09,197.19 230.12,197.39 231.14,197.54 232.17,197.66 233.19,197.75" fill="none" stroke="#2b9bd0" stroke-width="0.6" stroke-linejoin="round" stroke-linecap="butt" stroke-opacity="0.35"/>
<polyline points="91.53,197.9 92.71,197.86 93.89,197.81 95.07,197.74 96.24,197.65 97.42,197.54 98.6,197.4 99.78,197.22 100.96,196.99 102.13,196.71 103.31,196.38 104.49,195.98 105.67,195.51 106.85,194.95 108.02,194.31 109.2,193.58 110.38,192.75 111.56,191.81 112.74,190.78 113.91,189.63 115.09,188.38 116.27,187.03 117.45,185.56 118.63,183.99 119.8,182.31 120.98,180.51 122.16,178.61 123.34,176.58 124.52,174.43 125.69,172.15 126.87,169.74 128.05,167.18 129.23,164.48 130.41,161.63 131.58,158.65 132.76,155.52 133.94,152.28 135.12,148.93 136.3,145.51 137.48,142.03 138.65,138.55 139.83,135.08 141.01,131.68 142.19,128.39 143.37,125.25 144.54,122.3 145.72,119.56 146.9,117.08 148.08,114.87 149.26,112.95 150.43,111.32 151.61,109.98 152.79,108.91 153.97,108.1 155.15,107.52 156.32,107.13 157.5,106.89 158.68,106.78 159.86,106.73 161.04,106.73 162.21,106.72 163.39,106.69 164.57,106.6 165.75,106.44 166.93,106.19 168.1,105.88 169.28,105.5 170.46,105.07 171.64,104.64 172.82,104.23 174,103.9 175.17,103.67 176.35,103.62 177.53,103.77 178.71,104.18 179.89,104.88 181.06,105.91 182.24,107.27 183.42,108.99 184.6,111.05 185.78,113.45 186.95,116.16 188.13,119.14 189.31,122.36 190.49,125.76 191.67,129.3 192.84,132.91 194.02,136.56 195.2,140.18 196.38,143.73 197.56,147.17 198.73,150.47 199.91,153.61 201.09,156.57 202.27,159.34 203.45,161.92 204.62,164.31 205.8,166.51 206.98,168.54 208.16,170.41 209.34,172.13 210.52,173.73 211.69,175.22 212.87,176.6 214.05,177.9 215.23,179.13 216.41,180.3 217.58,181.41 218.76,182.48 219.94,183.52 221.12,184.52 222.3,185.49 223.47,186.44 224.65,187.36 225.83,188.26 227.01,189.13 228.19,189.97 229.36,190.77 230.54,191.54 231.72,192.28 232.9,192.96 234.08,193.6 235.25,194.19 236.43,194.73 237.61,195.22 238.79,195.66 239.97,196.05 241.14,196.39 242.32,196.68 243.5,196.93 244.68,197.15 245.86,197.32 247.04,197.47 248.21,197.59 249.39,197.68 250.57,197.76 251.75,197.82 252.93,197.87 254.1,197.9 255.28,197.93" fill="none" stroke="#2b9bd0" stroke-width="0.6" stroke-linejoin="round" stroke-linecap="butt" stroke-opacity="0.35"/>
<polyline points="79.09,197.92 80.25,197.89 81.41,197.84 82.56,197.78 83.72,197.71 84.88,197.61 86.03,197.48 87.19,197.32 88.35,197.12 89.51,196.88 90.66,196.6 91.82,196.27 92.98,195.89 94.13,195.45 95.29,194.97 96.45,194.44 97.6,193.86 98.76,193.26 99.92,192.63 101.07,191.98 102.23,191.33 103.39,190.68 104.55,190.05 105.7,189.44 106.86,188.86 108.02,188.31 109.17,187.79 110.33,187.3 111.49,186.83 112.64,186.37 113.8,185.9 114.96,185.41 116.11,184.89 117.27,184.31 118.43,183.66 119.59,182.91 120.74,182.05 121.9,181.06 123.06,179.94 124.21,178.67 125.37,177.25 126.53,175.68 127.68,173.97 128.84,172.12 130,170.16 131.15,168.09 132.31,165.91 133.47,163.65 134.63,161.31 135.78,158.87 136.94,156.34 138.1,153.69 139.25,150.9 140.41,147.95 141.57,144.8 142.72,141.43 143.88,137.84 145.04,134.01 146.2,129.96 147.35,125.72 148.51,121.35 149.67,116.9 150.82,112.47 151.98,108.14 153.14,104.01 154.29,100.19 155.45,96.75 156.61,93.78 157.76,91.34 158.92,89.45 160.08,88.14 161.24,87.38 162.39,87.16 163.55,87.41 164.71,88.08 165.86,89.09 167.02,90.36 168.18,91.83 169.33,93.43 170.49,95.11 171.65,96.81 172.8,98.52 173.96,100.21 175.12,101.89 176.28,103.58 177.43,105.28 178.59,107.02 179.75,108.84 180.9,110.77 182.06,112.82 183.22,115.02 184.37,117.39 185.53,119.93 186.69,122.63 187.84,125.48 189,128.45 190.16,131.51 191.32,134.61 192.47,137.7 193.63,140.73 194.79,143.67 195.94,146.46 197.1,149.09 198.26,151.51 199.41,153.73 200.57,155.74 201.73,157.57 202.88,159.25 204.04,160.8 205.2,162.26 206.36,163.69 207.51,165.12 208.67,166.59 209.83,168.13 210.98,169.76 212.14,171.48 213.3,173.29 214.45,175.18 215.61,177.14 216.77,179.12 217.92,181.09 219.08,183.04 220.24,184.91 221.4,186.69 222.55,188.35 223.71,189.87 224.87,191.24 226.02,192.45 227.18,193.5 228.34,194.4 229.49,195.16 230.65,195.79 231.81,196.3 232.96,196.71 234.12,197.04 235.28,197.29 236.44,197.49 237.59,197.63 238.75,197.74 239.91,197.82" fill="none" stroke="#2b9bd0" stroke-width="0.6" stroke-linejoin="round" stroke-linecap="butt" stroke-opacity="0.35"/>
<polyline points="95.8,197.88 96.95,197.82 98.1,197.74 99.25,197.63 100.4,197.48 101.55,197.27 102.69,197 103.84,196.64 104.99,196.19 106.14,195.63 107.29,194.94 108.44,194.1 109.59,193.1 110.74,191.94 111.88,190.61 113.03,189.11 114.18,187.46 115.33,185.67 116.48,183.77 117.63,181.78 118.78,179.75 119.93,177.72 121.07,175.72 122.22,173.79 123.37,171.98 124.52,170.3 125.67,168.78 126.82,167.44 127.97,166.27 129.12,165.28 130.27,164.44 131.41,163.74 132.56,163.15 133.71,162.65 134.86,162.2 136.01,161.78 137.16,161.34 138.31,160.88 139.46,160.34 140.6,159.72 141.75,158.98 142.9,158.12 144.05,157.1 145.2,155.93 146.35,154.6 147.5,153.11 148.65,151.46 149.8,149.66 150.94,147.73 152.09,145.68 153.24,143.53 154.39,141.3 155.54,139 156.69,136.62 157.84,134.18 158.99,131.67 160.13,129.06 161.28,126.35 162.43,123.49 163.58,120.48 164.73,117.28 165.88,113.89 167.03,110.29 168.18,106.49 169.32,102.53 170.47,98.45 171.62,94.32 172.77,90.22 173.92,86.25 175.07,82.52 176.22,79.15 177.37,76.25 178.52,73.93 179.66,72.28 180.81,71.38 181.96,71.3 183.11,72.04 184.26,73.62 185.41,76.02 186.56,79.18 187.71,83.03 188.85,87.5 190,92.47 191.15,97.85 192.3,103.52 193.45,109.37 194.6,115.31 195.75,121.24 196.9,127.06 198.04,132.72 199.19,138.16 200.34,143.31 201.49,148.17 202.64,152.69 203.79,156.87 204.94,160.71 206.09,164.2 207.24,167.37 208.38,170.21 209.53,172.76 210.68,175.03 211.83,177.04 212.98,178.81 214.13,180.35 215.28,181.69 216.43,182.84 217.57,183.81 218.72,184.64 219.87,185.34 221.02,185.92 222.17,186.42 223.32,186.85 224.47,187.24 225.62,187.61 226.76,187.99 227.91,188.39 229.06,188.82 230.21,189.3 231.36,189.83 232.51,190.4 233.66,191.02 234.81,191.66 235.96,192.32 237.1,192.98 238.25,193.63 239.4,194.25 240.55,194.83 241.7,195.36 242.85,195.84 244,196.25 245.15,196.61 246.29,196.92 247.44,197.17 248.59,197.37 249.74,197.53 250.89,197.66 252.04,197.75 253.19,197.82 254.34,197.88 255.49,197.92" fill="none" stroke="#2b9bd0" stroke-width="0.6" stroke-linejoin="round" stroke-linecap="butt" stroke-opacity="0.35"/>
<polyline points="88.34,197.87 89.35,197.82 90.37,197.74 91.39,197.64 92.4,197.51 93.42,197.33 94.44,197.11 95.45,196.82 96.47,196.47 97.49,196.03 98.5,195.51 99.52,194.88 100.54,194.15 101.55,193.32 102.57,192.37 103.59,191.32 104.61,190.17 105.62,188.94 106.64,187.65 107.66,186.32 108.67,184.98 109.69,183.65 110.71,182.37 111.72,181.16 112.74,180.05 113.76,179.06 114.77,178.21 115.79,177.5 116.81,176.94 117.83,176.51 118.84,176.21 119.86,176 120.88,175.85 121.89,175.74 122.91,175.6 123.93,175.41 124.94,175.13 125.96,174.71 126.98,174.12 127.99,173.33 129.01,172.34 130.03,171.13 131.05,169.72 132.06,168.11 133.08,166.34 134.1,164.44 135.11,162.47 136.13,160.45 137.15,158.45 138.16,156.51 139.18,154.66 140.2,152.93 141.21,151.32 142.23,149.84 143.25,148.46 144.26,147.16 145.28,145.88 146.3,144.56 147.32,143.13 148.33,141.53 149.35,139.67 150.37,137.51 151.38,134.98 152.4,132.04 153.42,128.68 154.43,124.88 155.45,120.67 156.47,116.09 157.48,111.21 158.5,106.09 159.52,100.84 160.54,95.56 161.55,90.37 162.57,85.37 163.59,80.68 164.6,76.39 165.62,72.59 166.64,69.35 167.65,66.71 168.67,64.72 169.69,63.38 170.7,62.68 171.72,62.61 172.74,63.13 173.75,64.2 174.77,65.78 175.79,67.82 176.81,70.29 177.82,73.13 178.84,76.32 179.86,79.81 180.87,83.58 181.89,87.59 182.91,91.83 183.92,96.26 184.94,100.84 185.96,105.55 186.97,110.34 187.99,115.18 189.01,120.01 190.03,124.78 191.04,129.47 192.06,134.01 193.08,138.38 194.09,142.55 195.11,146.5 196.13,150.2 197.14,153.67 198.16,156.91 199.18,159.93 200.19,162.74 201.21,165.38 202.23,167.87 203.24,170.23 204.26,172.49 205.28,174.65 206.3,176.73 207.31,178.74 208.33,180.68 209.35,182.54 210.36,184.32 211.38,186 212.4,187.58 213.41,189.04 214.43,190.39 215.45,191.6 216.46,192.68 217.48,193.64 218.5,194.46 219.52,195.17 220.53,195.76 221.55,196.25 222.57,196.66 223.58,196.98 224.6,197.23 225.62,197.43 226.63,197.59 227.65,197.7 228.67,197.79 229.68,197.85" fill="none" stroke="#2b9bd0" stroke-width="0.6" stroke-linejoin="round" stroke-linecap="butt" stroke-opacity="0.35"/>
<polyline points="72.49,197.93 73.73,197.9 74.96,197.87 76.2,197.82 77.43,197.76 78.67,197.68 79.9,197.58 81.14,197.45 82.37,197.3 83.61,197.12 84.84,196.91 86.08,196.66 87.31,196.38 88.55,196.06 89.78,195.7 91.02,195.32 92.25,194.91 93.49,194.48 94.72,194.04 95.96,193.6 97.19,193.17 98.42,192.76 99.66,192.38 100.89,192.03 102.13,191.72 103.36,191.45 104.6,191.22 105.83,191.01 107.07,190.83 108.3,190.64 109.54,190.43 110.77,190.17 112.01,189.83 113.24,189.38 114.48,188.77 115.71,187.99 116.95,186.99 118.18,185.76 119.42,184.26 120.65,182.5 121.89,180.45 123.12,178.12 124.36,175.54 125.59,172.72 126.83,169.69 128.06,166.5 129.29,163.2 130.53,159.84 131.76,156.47 133,153.15 134.23,149.93 135.47,146.86 136.7,143.97 137.94,141.3 139.17,138.86 140.41,136.65 141.64,134.69 142.88,132.93 144.11,131.37 145.35,129.97 146.58,128.68 147.82,127.47 149.05,126.29 150.29,125.08 151.52,123.82 152.76,122.47 153.99,120.99 155.23,119.37 156.46,117.59 157.7,115.65 158.93,113.57 160.16,111.37 161.4,109.06 162.63,106.71 163.87,104.34 165.1,102.03 166.34,99.81 167.57,97.76 168.81,95.93 170.04,94.38 171.28,93.14 172.51,92.27 173.75,91.8 174.98,91.75 176.22,92.13 177.45,92.95 178.69,94.2 179.92,95.86 181.16,97.92 182.39,100.35 183.63,103.11 184.86,106.17 186.1,109.49 187.33,113.02 188.57,116.72 189.8,120.54 191.03,124.46 192.27,128.42 193.5,132.39 194.74,136.33 195.97,140.21 197.21,144 198.44,147.68 199.68,151.23 200.91,154.63 202.15,157.88 203.38,160.96 204.62,163.88 205.85,166.65 207.09,169.26 208.32,171.72 209.56,174.04 210.79,176.24 212.03,178.3 213.26,180.25 214.5,182.08 215.73,183.8 216.97,185.41 218.2,186.91 219.44,188.31 220.67,189.59 221.9,190.76 223.14,191.82 224.37,192.77 225.61,193.62 226.84,194.37 228.08,195.02 229.31,195.57 230.55,196.05 231.78,196.45 233.02,196.78 234.25,197.05 235.49,197.27 236.72,197.44 237.96,197.58 239.19,197.69 240.43,197.77 241.66,197.83 242.9,197.88 244.13,197.92" fill="none" stroke="#2b9bd0" stroke-width="0.6" stroke-linejoin="round" stroke-linecap="butt" stroke-opacity="0.35"/>
<polyline points="80.32,197.87 81.44,197.8 82.56,197.71 83.68,197.59 84.8,197.43 85.92,197.21 87.04,196.93 88.16,196.57 89.28,196.13 90.4,195.58 91.52,194.93 92.64,194.16 93.77,193.28 94.89,192.29 96.01,191.2 97.13,190.04 98.25,188.82 99.37,187.59 100.49,186.38 101.61,185.24 102.73,184.19 103.85,183.29 104.97,182.56 106.09,182.02 107.22,181.69 108.34,181.57 109.46,181.65 110.58,181.91 111.7,182.31 112.82,182.81 113.94,183.38 115.06,183.97 116.18,184.55 117.3,185.07 118.42,185.53 119.54,185.89 120.66,186.14 121.79,186.28 122.91,186.3 124.03,186.19 125.15,185.96 126.27,185.59 127.39,185.06 128.51,184.34 129.63,183.42 130.75,182.26 131.87,180.82 132.99,179.07 134.11,176.97 135.23,174.51 136.36,171.66 137.48,168.42 138.6,164.79 139.72,160.81 140.84,156.49 141.96,151.89 143.08,147.06 144.2,142.06 145.32,136.95 146.44,131.8 147.56,126.67 148.68,121.63 149.81,116.74 150.93,112.02 152.05,107.53 153.17,103.28 154.29,99.27 155.41,95.53 156.53,92.02 157.65,88.74 158.77,85.69 159.89,82.84 161.01,80.2 162.13,77.77 163.25,75.57 164.38,73.64 165.5,72.02 166.62,70.76 167.74,69.91 168.86,69.53 169.98,69.66 171.1,70.32 172.22,71.54 173.34,73.31 174.46,75.6 175.58,78.38 176.7,81.6 177.83,85.18 178.95,89.07 180.07,93.2 181.19,97.5 182.31,101.92 183.43,106.4 184.55,110.9 185.67,115.39 186.79,119.82 187.91,124.18 189.03,128.44 190.15,132.59 191.27,136.6 192.4,140.46 193.52,144.17 194.64,147.71 195.76,151.07 196.88,154.26 198,157.28 199.12,160.13 200.24,162.82 201.36,165.36 202.48,167.76 203.6,170.03 204.72,172.19 205.84,174.25 206.97,176.21 208.09,178.08 209.21,179.87 210.33,181.58 211.45,183.22 212.57,184.78 213.69,186.27 214.81,187.67 215.93,188.99 217.05,190.21 218.17,191.34 219.29,192.37 220.42,193.29 221.54,194.11 222.66,194.83 223.78,195.45 224.9,195.97 226.02,196.41 227.14,196.78 228.26,197.07 229.38,197.3 230.5,197.49 231.62,197.63 232.74,197.73 233.86,197.81 234.99,197.87 236.11,197.91" fill="none" stroke="#2b9bd0" stroke-width="0.6" stroke-linejoin="round" stroke-linecap="butt" stroke-opacity="0.35"/>
<polyline points="58.7,197.92 60.02,197.88 61.33,197.82 62.65,197.74 63.97,197.63 65.28,197.48 66.6,197.29 67.92,197.04 69.23,196.74 70.55,196.38 71.87,195.95 73.19,195.46 74.5,194.92 75.82,194.33 77.14,193.72 78.45,193.1 79.77,192.5 81.09,191.95 82.41,191.47 83.72,191.09 85.04,190.84 86.36,190.72 87.67,190.74 88.99,190.91 90.31,191.21 91.62,191.62 92.94,192.12 94.26,192.69 95.58,193.29 96.89,193.9 98.21,194.5 99.53,195.05 100.84,195.55 102.16,195.97 103.48,196.32 104.8,196.57 106.11,196.73 107.43,196.79 108.75,196.75 110.06,196.61 111.38,196.36 112.7,195.99 114.01,195.52 115.33,194.92 116.65,194.19 117.97,193.34 119.28,192.36 120.6,191.23 121.92,189.96 123.23,188.53 124.55,186.92 125.87,185.1 127.19,183.06 128.5,180.74 129.82,178.1 131.14,175.09 132.45,171.67 133.77,167.81 135.09,163.47 136.4,158.67 137.72,153.42 139.04,147.78 140.36,141.86 141.67,135.77 142.99,129.67 144.31,123.74 145.62,118.16 146.94,113.1 148.26,108.71 149.58,105.11 150.89,102.35 152.21,100.45 153.53,99.32 154.84,98.85 156.16,98.86 157.48,99.11 158.79,99.38 160.11,99.43 161.43,99.06 162.75,98.12 164.06,96.52 165.38,94.25 166.7,91.4 168.01,88.12 169.33,84.61 170.65,81.15 171.97,78 173.28,75.46 174.6,73.77 175.92,73.14 177.23,73.7 178.55,75.54 179.87,78.66 181.18,82.98 182.5,88.39 183.82,94.71 185.14,101.74 186.45,109.26 187.77,117.04 189.09,124.87 190.4,132.56 191.72,139.94 193.04,146.86 194.36,153.22 195.67,158.92 196.99,163.91 198.31,168.18 199.62,171.72 200.94,174.57 202.26,176.77 203.57,178.41 204.89,179.56 206.21,180.33 207.53,180.82 208.84,181.15 210.16,181.4 211.48,181.67 212.79,182.03 214.11,182.53 215.43,183.19 216.75,184.03 218.06,185.02 219.38,186.15 220.7,187.36 222.01,188.63 223.33,189.9 224.65,191.13 225.96,192.28 227.28,193.33 228.6,194.26 229.92,195.06 231.23,195.74 232.55,196.29 233.87,196.74 235.18,197.08 236.5,197.35 237.82,197.54 239.14,197.69 240.45,197.79 241.77,197.86" fill="none" stroke="#2b9bd0" stroke-width="0.6" stroke-linejoin="round" stroke-linecap="butt" stroke-opacity="0.35"/>
<polyline points="75.23,197.92 76.41,197.88 77.59,197.83 78.76,197.76 79.94,197.66 81.11,197.54 82.29,197.38 83.47,197.18 84.64,196.94 85.82,196.64 86.99,196.29 88.17,195.89 89.35,195.43 90.52,194.93 91.7,194.38 92.87,193.81 94.05,193.23 95.23,192.66 96.4,192.11 97.58,191.61 98.75,191.17 99.93,190.82 101.11,190.57 102.28,190.42 103.46,190.37 104.64,190.43 105.81,190.57 106.99,190.78 108.16,191.04 109.34,191.33 110.52,191.61 111.69,191.85 112.87,192.05 114.04,192.16 115.22,192.19 116.4,192.12 117.57,191.95 118.75,191.69 119.92,191.33 121.1,190.89 122.28,190.38 123.45,189.81 124.63,189.19 125.8,188.5 126.98,187.75 128.16,186.92 129.33,185.99 130.51,184.93 131.68,183.7 132.86,182.27 134.04,180.6 135.21,178.67 136.39,176.44 137.56,173.89 138.74,171.01 139.92,167.81 141.09,164.27 142.27,160.42 143.44,156.27 144.62,151.84 145.8,147.15 146.97,142.23 148.15,137.1 149.33,131.8 150.5,126.35 151.68,120.8 152.85,115.21 154.03,109.62 155.21,104.13 156.38,98.81 157.56,93.76 158.73,89.07 159.91,84.84 161.09,81.17 162.26,78.12 163.44,75.76 164.61,74.12 165.79,73.22 166.97,73.02 168.14,73.48 169.32,74.53 170.49,76.07 171.67,78.01 172.85,80.22 174.02,82.61 175.2,85.09 176.37,87.59 177.55,90.05 178.73,92.47 179.9,94.84 181.08,97.2 182.25,99.59 183.43,102.08 184.61,104.7 185.78,107.52 186.96,110.57 188.13,113.85 189.31,117.36 190.49,121.06 191.66,124.88 192.84,128.76 194.02,132.62 195.19,136.36 196.37,139.92 197.54,143.22 198.72,146.24 199.9,148.95 201.07,151.37 202.25,153.52 203.42,155.45 204.6,157.24 205.78,158.95 206.95,160.64 208.13,162.39 209.3,164.23 210.48,166.19 211.66,168.3 212.83,170.54 214.01,172.88 215.18,175.29 216.36,177.73 217.54,180.15 218.71,182.49 219.89,184.71 221.06,186.77 222.24,188.66 223.42,190.34 224.59,191.81 225.77,193.07 226.94,194.14 228.12,195.02 229.3,195.74 230.47,196.31 231.65,196.75 232.83,197.09 234,197.35 235.18,197.54 236.35,197.68 237.53,197.78 238.71,197.86" fill="none" stroke="#2b9bd0" stroke-width="0.6" stroke-linejoin="round" stroke-linecap="butt" stroke-opacity="0.35"/>
<polyline points="89.35,197.93 90.49,197.9 91.63,197.87 92.77,197.83 93.91,197.77 95.05,197.71 96.19,197.62 97.33,197.51 98.47,197.38 99.62,197.23 100.76,197.04 101.9,196.82 103.04,196.56 104.18,196.26 105.32,195.92 106.46,195.53 107.6,195.1 108.74,194.61 109.88,194.07 111.02,193.48 112.16,192.82 113.3,192.11 114.44,191.33 115.59,190.48 116.73,189.54 117.87,188.52 119.01,187.41 120.15,186.17 121.29,184.82 122.43,183.32 123.57,181.67 124.71,179.86 125.85,177.87 126.99,175.69 128.13,173.33 129.27,170.79 130.41,168.07 131.56,165.19 132.7,162.17 133.84,159.05 134.98,155.86 136.12,152.65 137.26,149.45 138.4,146.32 139.54,143.29 140.68,140.43 141.82,137.75 142.96,135.3 144.1,133.08 145.24,131.12 146.38,129.4 147.53,127.91 148.67,126.62 149.81,125.5 150.95,124.52 152.09,123.61 153.23,122.73 154.37,121.84 155.51,120.89 156.65,119.84 157.79,118.68 158.93,117.39 160.07,115.97 161.21,114.42 162.35,112.78 163.5,111.06 164.64,109.31 165.78,107.58 166.92,105.9 168.06,104.32 169.2,102.88 170.34,101.63 171.48,100.58 172.62,99.77 173.76,99.2 174.9,98.9 176.04,98.86 177.18,99.08 178.33,99.56 179.47,100.28 180.61,101.25 181.75,102.44 182.89,103.85 184.03,105.48 185.17,107.3 186.31,109.3 187.45,111.49 188.59,113.83 189.73,116.33 190.87,118.95 192.01,121.68 193.15,124.5 194.3,127.38 195.44,130.29 196.58,133.21 197.72,136.12 198.86,138.98 200,141.77 201.14,144.48 202.28,147.1 203.42,149.61 204.56,152.02 205.7,154.32 206.84,156.51 207.98,158.62 209.12,160.64 210.27,162.61 211.41,164.52 212.55,166.4 213.69,168.25 214.83,170.08 215.97,171.91 217.11,173.73 218.25,175.54 219.39,177.33 220.53,179.1 221.67,180.83 222.81,182.52 223.95,184.15 225.09,185.7 226.24,187.18 227.38,188.55 228.52,189.83 229.66,191 230.8,192.05 231.94,193 233.08,193.83 234.22,194.56 235.36,195.19 236.5,195.73 237.64,196.18 238.78,196.56 239.92,196.87 241.06,197.12 242.21,197.32 243.35,197.49 244.49,197.61 245.63,197.71 246.77,197.79 247.91,197.84" fill="none" stroke="#2b9bd0" stroke-width="0.6" stroke-linejoin="round" stroke-linecap="butt" stroke-opacity="0.35"/>
<polyline points="78.08,197.92 79.21,197.89 80.34,197.85 81.47,197.8 82.6,197.73 83.73,197.65 84.86,197.54 85.99,197.4 87.12,197.24 88.25,197.04 89.37,196.79 90.5,196.5 91.63,196.17 92.76,195.78 93.89,195.34 95.02,194.84 96.15,194.29 97.28,193.69 98.41,193.04 99.54,192.36 100.67,191.65 101.79,190.92 102.92,190.18 104.05,189.46 105.18,188.75 106.31,188.09 107.44,187.48 108.57,186.93 109.7,186.46 110.83,186.08 111.96,185.78 113.09,185.57 114.21,185.44 115.34,185.38 116.47,185.38 117.6,185.42 118.73,185.46 119.86,185.49 120.99,185.46 122.12,185.34 123.25,185.08 124.38,184.65 125.51,184.01 126.63,183.11 127.76,181.92 128.89,180.41 130.02,178.56 131.15,176.33 132.28,173.72 133.41,170.73 134.54,167.37 135.67,163.64 136.8,159.59 137.92,155.25 139.05,150.67 140.18,145.9 141.31,141.01 142.44,136.06 143.57,131.14 144.7,126.32 145.83,121.66 146.96,117.26 148.09,113.17 149.22,109.45 150.34,106.16 151.47,103.32 152.6,100.96 153.73,99.09 154.86,97.71 155.99,96.79 157.12,96.29 158.25,96.17 159.38,96.37 160.51,96.83 161.64,97.48 162.76,98.26 163.89,99.09 165.02,99.92 166.15,100.7 167.28,101.39 168.41,101.96 169.54,102.39 170.67,102.69 171.8,102.86 172.93,102.91 174.06,102.88 175.18,102.79 176.31,102.68 177.44,102.6 178.57,102.57 179.7,102.64 180.83,102.85 181.96,103.22 183.09,103.79 184.22,104.58 185.35,105.62 186.48,106.93 187.6,108.52 188.73,110.4 189.86,112.58 190.99,115.06 192.12,117.83 193.25,120.88 194.38,124.2 195.51,127.76 196.64,131.53 197.77,135.47 198.9,139.55 200.02,143.72 201.15,147.93 202.28,152.14 203.41,156.29 204.54,160.35 205.67,164.27 206.8,168.01 207.93,171.54 209.06,174.85 210.19,177.9 211.32,180.69 212.44,183.22 213.57,185.49 214.7,187.49 215.83,189.25 216.96,190.78 218.09,192.09 219.22,193.21 220.35,194.15 221.48,194.93 222.61,195.58 223.74,196.1 224.86,196.53 225.99,196.87 227.12,197.14 228.25,197.35 229.38,197.52 230.51,197.64 231.64,197.74 232.77,197.81 233.9,197.86 235.03,197.9" fill="none" stroke="#2b9bd0" stroke-width="0.6" stroke-linejoin="round" stroke-linecap="butt" stroke-opacity="0.35"/>
<polyline points="85.17,197.93 86.45,197.9 87.74,197.87 89.02,197.82 90.31,197.76 91.59,197.68 92.88,197.57 94.16,197.44 95.45,197.28 96.73,197.09 98.02,196.85 99.3,196.57 100.59,196.23 101.87,195.84 103.16,195.39 104.44,194.87 105.73,194.28 107.01,193.62 108.3,192.89 109.58,192.08 110.87,191.2 112.15,190.24 113.44,189.2 114.72,188.08 116.01,186.88 117.29,185.61 118.58,184.25 119.86,182.82 121.15,181.32 122.43,179.73 123.72,178.07 125,176.34 126.29,174.53 127.58,172.65 128.86,170.7 130.15,168.67 131.43,166.58 132.72,164.41 134,162.16 135.29,159.83 136.57,157.41 137.86,154.9 139.14,152.29 140.43,149.58 141.71,146.77 143,143.85 144.28,140.85 145.57,137.75 146.85,134.6 148.14,131.41 149.42,128.22 150.71,125.05 151.99,121.96 153.28,118.99 154.56,116.18 155.85,113.56 157.13,111.19 158.42,109.09 159.7,107.28 160.99,105.77 162.27,104.58 163.56,103.69 164.84,103.09 166.13,102.76 167.41,102.66 168.7,102.77 169.98,103.06 171.27,103.47 172.55,104 173.84,104.59 175.13,105.24 176.41,105.93 177.7,106.64 178.98,107.37 180.27,108.13 181.55,108.93 182.84,109.79 184.12,110.74 185.41,111.79 186.69,112.97 187.98,114.33 189.26,115.88 190.55,117.65 191.83,119.66 193.12,121.92 194.4,124.44 195.69,127.22 196.97,130.24 198.26,133.49 199.54,136.93 200.83,140.52 202.11,144.23 203.4,148.01 204.68,151.8 205.97,155.56 207.25,159.24 208.54,162.79 209.82,166.18 211.11,169.38 212.39,172.35 213.68,175.07 214.96,177.54 216.25,179.75 217.53,181.7 218.82,183.4 220.11,184.85 221.39,186.08 222.68,187.1 223.96,187.93 225.25,188.6 226.53,189.13 227.82,189.56 229.1,189.89 230.39,190.17 231.67,190.41 232.96,190.63 234.24,190.84 235.53,191.07 236.81,191.33 238.1,191.61 239.38,191.93 240.67,192.28 241.95,192.66 243.24,193.07 244.52,193.49 245.81,193.92 247.09,194.35 248.38,194.77 249.66,195.18 250.95,195.57 252.23,195.92 253.52,196.25 254.8,196.54 256.09,196.8 257.37,197.03 258.66,197.22 259.94,197.38 261.23,197.52 262.51,197.63 263.8,197.72" fill="none" stroke="#2b9bd0" stroke-width="0.6" stroke-linejoin="round" stroke-linecap="butt" stroke-opacity="0.35"/>
<polyline points="64.11,197.92 65.44,197.9 66.77,197.86 68.1,197.8 69.43,197.74 70.76,197.65 72.09,197.53 73.42,197.39 74.75,197.22 76.08,197 77.41,196.74 78.74,196.43 80.07,196.06 81.4,195.63 82.73,195.14 84.06,194.58 85.39,193.95 86.72,193.25 88.05,192.5 89.38,191.68 90.71,190.81 92.04,189.9 93.37,188.96 94.7,188 96.03,187.04 97.36,186.1 98.69,185.17 100.02,184.29 101.35,183.46 102.68,182.68 104.01,181.98 105.34,181.34 106.67,180.78 108,180.29 109.33,179.86 110.66,179.5 111.99,179.18 113.32,178.91 114.65,178.65 115.98,178.42 117.31,178.18 118.63,177.93 119.96,177.65 121.29,177.33 122.62,176.96 123.95,176.53 125.28,176.02 126.61,175.43 127.94,174.74 129.27,173.94 130.6,173.04 131.93,172.02 133.26,170.88 134.59,169.62 135.92,168.23 137.25,166.72 138.58,165.09 139.91,163.34 141.24,161.48 142.57,159.51 143.9,157.44 145.23,155.26 146.56,152.99 147.89,150.64 149.22,148.19 150.55,145.66 151.88,143.05 153.21,140.38 154.54,137.66 155.87,134.89 157.2,132.11 158.53,129.35 159.86,126.61 161.19,123.95 162.52,121.39 163.85,118.97 165.18,116.7 166.51,114.63 167.84,112.76 169.17,111.12 170.5,109.7 171.82,108.51 173.15,107.54 174.48,106.79 175.81,106.23 177.14,105.87 178.47,105.68 179.8,105.66 181.13,105.81 182.46,106.12 183.79,106.6 185.12,107.26 186.45,108.11 187.78,109.16 189.11,110.42 190.44,111.91 191.77,113.64 193.1,115.59 194.43,117.78 195.76,120.2 197.09,122.83 198.42,125.65 199.75,128.65 201.08,131.8 202.41,135.07 203.74,138.43 205.07,141.86 206.4,145.33 207.73,148.82 209.06,152.3 210.39,155.74 211.72,159.12 213.05,162.43 214.38,165.65 215.71,168.75 217.04,171.72 218.37,174.55 219.7,177.22 221.03,179.72 222.36,182.04 223.69,184.17 225.02,186.12 226.34,187.88 227.67,189.46 229,190.86 230.33,192.08 231.66,193.14 232.99,194.05 234.32,194.82 235.65,195.47 236.98,196 238.31,196.44 239.64,196.8 240.97,197.08 242.3,197.3 243.63,197.48 244.96,197.62 246.29,197.72 247.62,197.8 248.95,197.85" fill="none" stroke="#2b9bd0" stroke-width="0.6" stroke-linejoin="round" stroke-linecap="butt" stroke-opacity="0.35"/>
<polyline points="63.65,197.92 64.95,197.87 66.24,197.81 67.54,197.72 68.84,197.59 70.13,197.43 71.43,197.22 72.73,196.94 74.03,196.61 75.32,196.2 76.62,195.72 77.92,195.17 79.22,194.56 80.51,193.91 81.81,193.23 83.11,192.54 84.4,191.87 85.7,191.25 87,190.7 88.3,190.23 89.59,189.87 90.89,189.59 92.19,189.4 93.48,189.26 94.78,189.15 96.08,189.02 97.38,188.84 98.67,188.55 99.97,188.12 101.27,187.53 102.56,186.74 103.86,185.76 105.16,184.6 106.46,183.27 107.75,181.8 109.05,180.26 110.35,178.68 111.64,177.12 112.94,175.66 114.24,174.34 115.54,173.23 116.83,172.38 118.13,171.81 119.43,171.56 120.72,171.62 122.02,171.98 123.32,172.59 124.62,173.41 125.91,174.35 127.21,175.32 128.51,176.21 129.81,176.93 131.1,177.37 132.4,177.42 133.7,177.01 134.99,176.07 136.29,174.56 137.59,172.45 138.89,169.74 140.18,166.45 141.48,162.63 142.78,158.35 144.07,153.68 145.37,148.73 146.67,143.61 147.97,138.44 149.26,133.36 150.56,128.47 151.86,123.89 153.15,119.69 154.45,115.95 155.75,112.67 157.05,109.84 158.34,107.4 159.64,105.25 160.94,103.28 162.23,101.37 163.53,99.38 164.83,97.22 166.13,94.84 167.42,92.24 168.72,89.46 170.02,86.64 171.31,83.92 172.61,81.51 173.91,79.62 175.21,78.46 176.5,78.21 177.8,78.99 179.1,80.86 180.4,83.84 181.69,87.86 182.99,92.78 184.29,98.45 185.58,104.65 186.88,111.17 188.18,117.81 189.48,124.35 190.77,130.64 192.07,136.56 193.37,142 194.66,146.93 195.96,151.33 197.26,155.22 198.56,158.63 199.85,161.63 201.15,164.27 202.45,166.61 203.74,168.7 205.04,170.59 206.34,172.33 207.64,173.95 208.93,175.47 210.23,176.92 211.53,178.32 212.82,179.69 214.12,181.02 215.42,182.35 216.72,183.66 218.01,184.96 219.31,186.26 220.61,187.53 221.9,188.77 223.2,189.97 224.5,191.1 225.8,192.16 227.09,193.14 228.39,194.02 229.69,194.79 230.99,195.46 232.28,196.02 233.58,196.49 234.88,196.87 236.17,197.17 237.47,197.4 238.77,197.58 240.07,197.71 241.36,197.8 242.66,197.87 243.96,197.91" fill="none" stroke="#2b9bd0" stroke-width="0.6" stroke-linejoin="round" stroke-linecap="butt" stroke-opacity="0.35"/>
<polyline points="65.48,197.91 66.68,197.87 67.88,197.81 69.09,197.73 70.29,197.63 71.5,197.48 72.7,197.3 73.9,197.07 75.11,196.78 76.31,196.43 77.52,196.02 78.72,195.55 79.92,195.02 81.13,194.45 82.33,193.84 83.53,193.21 84.74,192.59 85.94,191.99 87.15,191.45 88.35,190.99 89.55,190.64 90.76,190.4 91.96,190.29 93.17,190.32 94.37,190.47 95.57,190.74 96.78,191.09 97.98,191.51 99.19,191.97 100.39,192.42 101.59,192.83 102.8,193.17 104,193.41 105.2,193.51 106.41,193.47 107.61,193.27 108.82,192.9 110.02,192.37 111.22,191.68 112.43,190.85 113.63,189.91 114.84,188.89 116.04,187.81 117.24,186.72 118.45,185.65 119.65,184.62 120.85,183.65 122.06,182.77 123.26,181.96 124.47,181.21 125.67,180.5 126.87,179.78 128.08,178.99 129.28,178.07 130.49,176.93 131.69,175.51 132.89,173.72 134.1,171.5 135.3,168.79 136.51,165.55 137.71,161.77 138.91,157.44 140.12,152.61 141.32,147.31 142.52,141.63 143.73,135.65 144.93,129.48 146.14,123.23 147.34,117.02 148.54,110.94 149.75,105.1 150.95,99.58 152.16,94.45 153.36,89.76 154.56,85.53 155.77,81.81 156.97,78.59 158.17,75.88 159.38,73.7 160.58,72.05 161.79,70.94 162.99,70.38 164.19,70.39 165.4,70.96 166.6,72.12 167.81,73.84 169.01,76.13 170.21,78.94 171.42,82.23 172.62,85.94 173.83,89.98 175.03,94.28 176.23,98.74 177.44,103.27 178.64,107.75 179.84,112.12 181.05,116.28 182.25,120.18 183.46,123.77 184.66,127.03 185.86,129.96 187.07,132.57 188.27,134.89 189.48,136.99 190.68,138.93 191.88,140.77 193.09,142.59 194.29,144.46 195.49,146.43 196.7,148.55 197.9,150.85 199.11,153.34 200.31,156.02 201.51,158.87 202.72,161.85 203.92,164.92 205.13,168.04 206.33,171.14 207.53,174.18 208.74,177.11 209.94,179.88 211.14,182.47 212.35,184.85 213.55,186.99 214.76,188.9 215.96,190.58 217.16,192.02 218.37,193.25 219.57,194.28 220.78,195.12 221.98,195.81 223.18,196.35 224.39,196.78 225.59,197.11 226.8,197.36 228,197.55 229.2,197.69 230.41,197.78 231.61,197.86 232.81,197.9" fill="none" stroke="#2b9bd0" stroke-width="0.6" stroke-linejoin="round" stroke-linecap="butt" stroke-opacity="0.35"/>
<polyline points="60.26,197.93 61.65,197.91 63.04,197.87 64.43,197.82 65.82,197.76 67.21,197.67 68.6,197.57 69.99,197.44 71.38,197.28 72.77,197.09 74.16,196.86 75.55,196.59 76.94,196.29 78.33,195.95 79.72,195.58 81.11,195.19 82.49,194.77 83.88,194.34 85.27,193.91 86.66,193.49 88.05,193.1 89.44,192.74 90.83,192.42 92.22,192.16 93.61,191.95 95,191.79 96.39,191.69 97.78,191.63 99.17,191.6 100.56,191.59 101.95,191.57 103.34,191.53 104.73,191.44 106.12,191.29 107.51,191.04 108.9,190.69 110.29,190.22 111.68,189.62 113.07,188.88 114.46,187.99 115.85,186.96 117.24,185.78 118.63,184.44 120.02,182.95 121.41,181.3 122.8,179.47 124.19,177.46 125.58,175.23 126.97,172.77 128.36,170.07 129.75,167.09 131.14,163.83 132.53,160.28 133.92,156.42 135.31,152.28 136.7,147.88 138.09,143.26 139.48,138.48 140.87,133.59 142.26,128.67 143.65,123.81 145.04,119.09 146.43,114.6 147.82,110.42 149.21,106.63 150.6,103.29 151.99,100.45 153.38,98.15 154.77,96.41 156.16,95.22 157.55,94.59 158.94,94.48 160.33,94.87 161.72,95.71 163.11,96.96 164.5,98.56 165.89,100.46 167.28,102.62 168.67,104.98 170.06,107.49 171.45,110.11 172.84,112.79 174.23,115.51 175.62,118.23 177.01,120.93 178.4,123.58 179.79,126.17 181.18,128.7 182.57,131.15 183.96,133.54 185.35,135.87 186.74,138.14 188.13,140.35 189.52,142.52 190.91,144.65 192.3,146.72 193.69,148.75 195.08,150.73 196.47,152.64 197.86,154.47 199.25,156.22 200.64,157.88 202.03,159.44 203.42,160.91 204.81,162.29 206.2,163.59 207.59,164.82 208.98,166.02 210.37,167.2 211.76,168.39 213.15,169.6 214.54,170.86 215.93,172.19 217.32,173.59 218.71,175.06 220.1,176.6 221.49,178.21 222.88,179.85 224.27,181.52 225.66,183.19 227.05,184.82 228.43,186.41 229.82,187.92 231.21,189.33 232.6,190.64 233.99,191.82 235.38,192.88 236.77,193.81 238.16,194.61 239.55,195.3 240.94,195.87 242.33,196.35 243.72,196.73 245.11,197.04 246.5,197.28 247.89,197.47 249.28,197.62 250.67,197.73 252.06,197.81 253.45,197.86" fill="none" stroke="#2b9bd0" stroke-width="0.6" stroke-linejoin="round" stroke-linecap="butt" stroke-opacity="0.35"/>
<polyline points="81.67,197.91 82.84,197.87 84.01,197.82 85.18,197.76 86.35,197.67 87.52,197.57 88.69,197.43 89.86,197.26 91.03,197.05 92.2,196.79 93.37,196.47 94.54,196.09 95.71,195.64 96.88,195.12 98.05,194.51 99.22,193.82 100.39,193.03 101.56,192.16 102.73,191.21 103.9,190.17 105.07,189.06 106.24,187.89 107.41,186.67 108.58,185.41 109.75,184.14 110.92,182.87 112.09,181.6 113.26,180.37 114.43,179.18 115.6,178.04 116.77,176.95 117.94,175.92 119.11,174.93 120.28,173.99 121.45,173.07 122.62,172.15 123.79,171.22 124.96,170.24 126.13,169.2 127.3,168.07 128.47,166.82 129.64,165.43 130.81,163.9 131.98,162.2 133.15,160.33 134.32,158.29 135.49,156.08 136.66,153.72 137.83,151.21 139,148.57 140.17,145.81 141.34,142.97 142.51,140.05 143.68,137.09 144.85,134.09 146.02,131.07 147.19,128.06 148.36,125.06 149.53,122.09 150.7,119.16 151.87,116.3 153.04,113.51 154.21,110.82 155.38,108.24 156.55,105.81 157.72,103.54 158.89,101.46 160.06,99.62 161.23,98.02 162.4,96.72 163.57,95.72 164.74,95.05 165.91,94.72 167.08,94.74 168.25,95.11 169.42,95.82 170.59,96.84 171.76,98.15 172.93,99.72 174.1,101.51 175.27,103.47 176.44,105.56 177.61,107.74 178.78,109.97 179.95,112.21 181.12,114.43 182.29,116.62 183.46,118.74 184.63,120.81 185.8,122.81 186.97,124.76 188.14,126.66 189.31,128.53 190.48,130.39 191.65,132.27 192.82,134.18 193.99,136.14 195.16,138.17 196.33,140.28 197.5,142.49 198.67,144.79 199.84,147.19 201.01,149.67 202.18,152.24 203.35,154.88 204.52,157.57 205.69,160.28 206.86,163.01 208.03,165.71 209.2,168.38 210.37,170.99 211.54,173.52 212.71,175.95 213.88,178.26 215.05,180.44 216.22,182.49 217.39,184.38 218.56,186.13 219.73,187.72 220.9,189.16 222.07,190.46 223.24,191.61 224.41,192.63 225.58,193.51 226.75,194.28 227.92,194.95 229.09,195.51 230.26,195.99 231.43,196.39 232.6,196.72 233.77,196.99 234.94,197.21 236.11,197.39 237.28,197.53 238.45,197.64 239.62,197.73 240.79,197.8 241.96,197.85 243.13,197.89 244.3,197.92" fill="none" stroke="#2b9bd0" stroke-width="0.6" stroke-linejoin="round" stroke-linecap="butt" stroke-opacity="0.35"/>
<polyline points="85.27,197.92 86.32,197.89 87.36,197.85 88.4,197.8 89.45,197.74 90.49,197.66 91.53,197.56 92.58,197.43 93.62,197.28 94.66,197.09 95.71,196.87 96.75,196.62 97.79,196.32 98.84,195.98 99.88,195.61 100.92,195.18 101.97,194.72 103.01,194.22 104.05,193.68 105.1,193.11 106.14,192.51 107.18,191.89 108.23,191.24 109.27,190.57 110.31,189.87 111.36,189.16 112.4,188.41 113.45,187.63 114.49,186.8 115.53,185.92 116.58,184.96 117.62,183.92 118.66,182.78 119.71,181.53 120.75,180.15 121.79,178.64 122.84,176.98 123.88,175.17 124.92,173.2 125.97,171.09 127.01,168.82 128.05,166.41 129.1,163.85 130.14,161.17 131.18,158.35 132.23,155.41 133.27,152.37 134.31,149.21 135.36,145.95 136.4,142.61 137.44,139.19 138.49,135.7 139.53,132.16 140.57,128.61 141.62,125.05 142.66,121.53 143.71,118.08 144.75,114.73 145.79,111.53 146.84,108.52 147.88,105.74 148.92,103.21 149.97,100.96 151.01,99.02 152.05,97.39 153.1,96.06 154.14,95.04 155.18,94.3 156.23,93.8 157.27,93.51 158.31,93.4 159.36,93.41 160.4,93.49 161.44,93.61 162.49,93.74 163.53,93.83 164.57,93.87 165.62,93.84 166.66,93.75 167.7,93.6 168.75,93.42 169.79,93.24 170.83,93.09 171.88,93.01 172.92,93.06 173.97,93.29 175.01,93.73 176.05,94.44 177.1,95.45 178.14,96.8 179.18,98.49 180.23,100.54 181.27,102.95 182.31,105.7 183.36,108.76 184.4,112.09 185.44,115.64 186.49,119.38 187.53,123.23 188.57,127.15 189.62,131.09 190.66,134.99 191.7,138.82 192.75,142.54 193.79,146.13 194.83,149.57 195.88,152.85 196.92,155.99 197.96,158.97 199.01,161.82 200.05,164.53 201.1,167.13 202.14,169.62 203.18,172.02 204.23,174.32 205.27,176.53 206.31,178.64 207.36,180.66 208.4,182.58 209.44,184.39 210.49,186.08 211.53,187.65 212.57,189.1 213.62,190.41 214.66,191.59 215.7,192.64 216.75,193.56 217.79,194.36 218.83,195.05 219.88,195.63 220.92,196.12 221.96,196.52 223.01,196.85 224.05,197.11 225.09,197.33 226.14,197.49 227.18,197.62 228.22,197.72 229.27,197.8 230.31,197.85" fill="none" stroke="#2b9bd0" stroke-width="0.6" stroke-linejoin="round" stroke-linecap="butt" stroke-opacity="0.35"/>
<polyline points="71.4,197.92 72.67,197.89 73.94,197.84 75.21,197.78 76.48,197.69 77.76,197.58 79.03,197.43 80.3,197.25 81.57,197.03 82.85,196.75 84.12,196.44 85.39,196.07 86.66,195.65 87.94,195.18 89.21,194.69 90.48,194.16 91.75,193.62 93.03,193.09 94.3,192.58 95.57,192.11 96.84,191.7 98.11,191.36 99.39,191.1 100.66,190.92 101.93,190.83 103.2,190.8 104.48,190.83 105.75,190.89 107.02,190.95 108.29,190.98 109.57,190.92 110.84,190.76 112.11,190.45 113.38,189.96 114.65,189.26 115.93,188.33 117.2,187.17 118.47,185.78 119.74,184.18 121.02,182.37 122.29,180.39 123.56,178.28 124.83,176.07 126.11,173.8 127.38,171.49 128.65,169.18 129.92,166.87 131.2,164.57 132.47,162.29 133.74,160 135.01,157.67 136.28,155.28 137.56,152.8 138.83,150.19 140.1,147.43 141.37,144.48 142.65,141.35 143.92,138.02 145.19,134.52 146.46,130.86 147.74,127.09 149.01,123.26 150.28,119.44 151.55,115.69 152.82,112.07 154.1,108.67 155.37,105.54 156.64,102.73 157.91,100.28 159.19,98.22 160.46,96.56 161.73,95.29 163,94.39 164.28,93.83 165.55,93.59 166.82,93.63 168.09,93.92 169.37,94.43 170.64,95.14 171.91,96.03 173.18,97.11 174.45,98.35 175.73,99.78 177,101.37 178.27,103.13 179.54,105.06 180.82,107.13 182.09,109.34 183.36,111.67 184.63,114.1 185.91,116.62 187.18,119.22 188.45,121.88 189.72,124.6 190.99,127.39 192.27,130.24 193.54,133.17 194.81,136.17 196.08,139.25 197.36,142.41 198.63,145.63 199.9,148.91 201.17,152.23 202.45,155.54 203.72,158.82 204.99,162.03 206.26,165.13 207.53,168.1 208.81,170.89 210.08,173.49 211.35,175.88 212.62,178.07 213.9,180.05 215.17,181.83 216.44,183.44 217.71,184.89 218.99,186.2 220.26,187.4 221.53,188.51 222.8,189.53 224.08,190.49 225.35,191.39 226.62,192.22 227.89,193 229.16,193.72 230.44,194.38 231.71,194.98 232.98,195.51 234.25,195.97 235.53,196.37 236.8,196.72 238.07,197 239.34,197.23 240.62,197.42 241.89,197.57 243.16,197.69 244.43,197.77 245.7,197.84 246.98,197.89 248.25,197.92" fill="none" stroke="#2b9bd0" stroke-width="0.6" stroke-linejoin="round" stroke-linecap="butt" stroke-opacity="0.35"/>
<polyline points="84.96,197.92 86.1,197.89 87.24,197.86 88.38,197.81 89.51,197.75 90.65,197.67 91.79,197.57 92.93,197.45 94.07,197.3 95.21,197.11 96.35,196.88 97.49,196.61 98.62,196.28 99.76,195.89 100.9,195.44 102.04,194.91 103.18,194.31 104.32,193.62 105.46,192.84 106.59,191.97 107.73,191 108.87,189.94 110.01,188.79 111.15,187.55 112.29,186.23 113.43,184.84 114.56,183.38 115.7,181.87 116.84,180.32 117.98,178.75 119.12,177.18 120.26,175.61 121.4,174.07 122.54,172.57 123.67,171.12 124.81,169.73 125.95,168.41 127.09,167.17 128.23,166.01 129.37,164.92 130.51,163.91 131.64,162.97 132.78,162.08 133.92,161.24 135.06,160.43 136.2,159.63 137.34,158.84 138.48,158.03 139.61,157.19 140.75,156.3 141.89,155.36 143.03,154.35 144.17,153.27 145.31,152.1 146.45,150.84 147.58,149.49 148.72,148.04 149.86,146.51 151,144.89 152.14,143.19 153.28,141.41 154.42,139.56 155.56,137.65 156.69,135.68 157.83,133.67 158.97,131.63 160.11,129.56 161.25,127.48 162.39,125.39 163.53,123.31 164.66,121.25 165.8,119.21 166.94,117.21 168.08,115.26 169.22,113.37 170.36,111.54 171.5,109.79 172.63,108.13 173.77,106.56 174.91,105.09 176.05,103.74 177.19,102.52 178.33,101.42 179.47,100.47 180.61,99.67 181.74,99.04 182.88,98.58 184.02,98.31 185.16,98.24 186.3,98.39 187.44,98.76 188.58,99.37 189.71,100.24 190.85,101.36 191.99,102.75 193.13,104.42 194.27,106.37 195.41,108.59 196.55,111.09 197.68,113.84 198.82,116.85 199.96,120.09 201.1,123.54 202.24,127.17 203.38,130.96 204.52,134.87 205.65,138.86 206.79,142.91 207.93,146.97 209.07,151 210.21,154.98 211.35,158.86 212.49,162.61 213.63,166.22 214.76,169.64 215.9,172.86 217.04,175.88 218.18,178.66 219.32,181.22 220.46,183.55 221.6,185.64 222.73,187.51 223.87,189.17 225.01,190.62 226.15,191.88 227.29,192.96 228.43,193.89 229.57,194.67 230.7,195.33 231.84,195.87 232.98,196.32 234.12,196.68 235.26,196.98 236.4,197.21 237.54,197.4 238.68,197.55 239.81,197.66 240.95,197.75 242.09,197.81 243.23,197.86" fill="none" stroke="#2b9bd0" stroke-width="0.6" stroke-linejoin="round" stroke-linecap="butt" stroke-opacity="0.35"/>
<polyline points="99.84,197.85 100.8,197.78 101.76,197.69 102.72,197.57 103.68,197.4 104.65,197.19 105.61,196.91 106.57,196.56 107.53,196.12 108.49,195.58 109.46,194.93 110.42,194.16 111.38,193.26 112.34,192.23 113.3,191.08 114.27,189.81 115.23,188.43 116.19,186.96 117.15,185.43 118.11,183.86 119.08,182.28 120.04,180.72 121,179.21 121.96,177.77 122.92,176.42 123.89,175.16 124.85,174 125.81,172.92 126.77,171.92 127.73,170.95 128.69,170 129.66,169.02 130.62,167.96 131.58,166.8 132.54,165.48 133.5,163.97 134.47,162.25 135.43,160.29 136.39,158.08 137.35,155.61 138.31,152.88 139.28,149.92 140.24,146.75 141.2,143.38 142.16,139.86 143.12,136.22 144.09,132.49 145.05,128.7 146.01,124.88 146.97,121.06 147.93,117.25 148.9,113.46 149.86,109.7 150.82,105.97 151.78,102.28 152.74,98.63 153.71,95.03 154.67,91.48 155.63,88.02 156.59,84.66 157.55,81.44 158.51,78.39 159.48,75.55 160.44,72.98 161.4,70.72 162.36,68.82 163.32,67.32 164.29,66.26 165.25,65.66 166.21,65.56 167.17,65.95 168.13,66.86 169.1,68.25 170.06,70.14 171.02,72.48 171.98,75.26 172.94,78.43 173.91,81.96 174.87,85.82 175.83,89.96 176.79,94.33 177.75,98.89 178.72,103.6 179.68,108.41 180.64,113.26 181.6,118.09 182.56,122.86 183.52,127.51 184.49,131.96 185.45,136.18 186.41,140.1 187.37,143.68 188.33,146.89 189.3,149.69 190.26,152.08 191.22,154.05 192.18,155.62 193.14,156.82 194.11,157.69 195.07,158.28 196.03,158.65 196.99,158.87 197.95,159 198.92,159.11 199.88,159.25 200.84,159.47 201.8,159.83 202.76,160.35 203.73,161.06 204.69,161.97 205.65,163.1 206.61,164.43 207.57,165.96 208.53,167.66 209.5,169.52 210.46,171.5 211.42,173.56 212.38,175.69 213.34,177.83 214.31,179.95 215.27,182.02 216.23,184.01 217.19,185.89 218.15,187.64 219.12,189.25 220.08,190.69 221.04,191.97 222,193.09 222.96,194.06 223.93,194.87 224.89,195.55 225.85,196.11 226.81,196.56 227.77,196.92 228.74,197.2 229.7,197.41 230.66,197.58 231.62,197.7 232.58,197.79 233.54,197.86" fill="none" stroke="#2b9bd0" stroke-width="0.6" stroke-linejoin="round" stroke-linecap="butt" stroke-opacity="0.35"/>
<polyline points="52.12,198 54.28,198 57.29,198.01 60.88,198.01 64.8,198.02 68.79,198.02 72.59,198.02 75.94,198.01 78.58,198 80.55,197.98 82.11,197.95 83.33,197.92 84.31,197.89 85.13,197.85 85.86,197.81 86.59,197.76 87.4,197.71 88.23,197.65 88.97,197.6 89.63,197.54 90.25,197.47 90.85,197.4 91.44,197.32 92.04,197.23 92.69,197.12 93.37,196.99 94.04,196.86 94.71,196.72 95.38,196.57 96.07,196.41 96.77,196.22 97.48,196.02 98.2,195.79 98.95,195.54 99.72,195.28 100.51,194.99 101.3,194.69 102.1,194.37 102.91,194.03 103.71,193.67 104.51,193.28 105.31,192.88 106.1,192.46 106.9,192.03 107.7,191.57 108.5,191.09 109.3,190.57 110.11,190.03 110.91,189.45 111.71,188.84 112.51,188.21 113.31,187.55 114.11,186.85 114.91,186.13 115.71,185.36 116.5,184.55 117.3,183.7 118.1,182.8 118.91,181.83 119.72,180.82 120.53,179.78 121.33,178.71 122.12,177.62 122.88,176.53 123.61,175.45 124.31,174.33 125.01,173.17 125.69,171.97 126.35,170.77 126.98,169.59 127.59,168.46 128.17,167.41 128.72,166.46 129.21,165.61 129.64,164.85 130.02,164.16 130.38,163.52 130.75,162.91 131.15,162.33 131.59,161.75 132.12,161.15 132.72,160.55 133.38,159.98 134.08,159.41 134.82,158.87 135.57,158.33 136.33,157.79 137.08,157.26 137.81,156.73 138.53,156.21 139.27,155.72 140.02,155.24 140.77,154.76 141.5,154.27 142.21,153.75 142.87,153.2 143.5,152.6 144.06,151.98 144.58,151.37 145.06,150.73 145.51,150.07 145.95,149.35 146.38,148.56 146.83,147.69 147.29,146.7 147.76,145.62 148.23,144.46 148.71,143.22 149.18,141.91 149.65,140.52 150.13,139.06 150.6,137.53 151.08,135.94 151.56,134.26 152.04,132.46 152.52,130.58 153,128.63 153.48,126.65 153.96,124.66 154.44,122.69 154.92,120.76 155.39,118.88 155.87,117.01 156.34,115.15 156.82,113.29 157.29,111.41 157.76,109.51 158.24,107.57 158.71,105.58 159.18,103.53 159.66,101.41 160.13,99.25 160.61,97.07 161.08,94.88 161.55,92.71 162.03,90.57 162.5,88.48 162.97,86.4 163.45,84.28 163.91,82.17 164.38,80.08 164.86,78.06 165.33,76.13 165.81,74.34 166.29,72.71 166.79,71.2 167.3,69.77 167.82,68.43 168.35,67.21 168.86,66.12 169.36,65.19 169.85,64.43 170.31,63.87 170.74,63.53 171.16,63.4 171.57,63.46 171.96,63.67 172.34,64 172.7,64.41 173.05,64.87 173.39,65.34 173.71,65.83 173.99,66.36 174.25,66.95 174.5,67.62 174.75,68.39 175.03,69.26 175.34,70.25 175.69,71.38 176.09,72.68 176.53,74.15 177,75.74 177.49,77.45 177.99,79.22 178.49,81.03 178.99,82.85 179.48,84.65 179.96,86.44 180.44,88.27 180.92,90.12 181.4,92 181.88,93.91 182.36,95.86 182.84,97.83 183.32,99.83 183.79,101.89 184.27,104.02 184.74,106.19 185.22,108.38 185.69,110.57 186.16,112.75 186.64,114.87 187.11,116.93 187.58,118.94 188.06,120.92 188.53,122.88 189.01,124.81 189.48,126.7 189.95,128.55 190.43,130.35 190.9,132.11 191.36,133.81 191.81,135.44 192.24,137.02 192.68,138.57 193.13,140.09 193.61,141.6 194.13,143.11 194.7,144.64 195.32,146.19 195.98,147.75 196.69,149.3 197.42,150.85 198.16,152.38 198.91,153.87 199.66,155.33 200.38,156.73 201.1,158.07 201.82,159.37 202.53,160.63 203.25,161.85 203.97,163.05 204.69,164.24 205.4,165.42 206.12,166.6 206.83,167.78 207.53,168.93 208.24,170.07 208.94,171.19 209.64,172.32 210.35,173.44 211.05,174.58 211.76,175.74 212.47,176.93 213.19,178.16 213.91,179.39 214.62,180.63 215.34,181.86 216.06,183.06 216.78,184.22 217.5,185.32 218.21,186.39 218.91,187.43 219.61,188.46 220.31,189.44 221.01,190.38 221.73,191.27 222.47,192.09 223.23,192.84 224.01,193.51 224.8,194.12 225.61,194.66 226.43,195.15 227.26,195.59 228.11,195.99 228.97,196.35 229.84,196.67 230.73,196.95 231.62,197.18 232.53,197.36 233.45,197.49 234.39,197.6 235.35,197.69 236.33,197.77 237.34,197.85 238.32,197.92 239.25,197.97 240.16,197.99 241.12,198 242.15,198 243.3,198 244.63,198 246.16,198 248.06,198.01 250.36,198.01 252.9,198.01 255.53,198.01 258.09,198.01 260.42,198 262.38,198 263.8,198" fill="none" stroke="#189c7b" stroke-width="1.7" stroke-linejoin="round" stroke-linecap="butt"/>
<line x1="43.4" y1="30.8" x2="43.4" y2="205.9" stroke="#d6d6d6" stroke-width="1"/>
<line x1="42.9" y1="205.4" x2="273.5" y2="205.4" stroke="#d6d6d6" stroke-width="1"/>
<text x="39.3" y="201.4" font-size="8.4" fill="#7c7c7c" text-anchor="end" font-weight="normal" font-family="'Liberation Sans', sans-serif">0.00</text>
<text x="39.3" y="157.18" font-size="8.4" fill="#7c7c7c" text-anchor="end" font-weight="normal" font-family="'Liberation Sans', sans-serif">0.03</text>
<text x="39.3" y="112.96" font-size="8.4" fill="#7c7c7c" text-anchor="end" font-weight="normal" font-family="'Liberation Sans', sans-serif">0.06</text>
<text x="39.3" y="68.74" font-size="8.4" fill="#7c7c7c" text-anchor="end" font-weight="normal" font-family="'Liberation Sans', sans-serif">0.09</text>
<text x="43.3" y="216.5" font-size="8.4" fill="#7c7c7c" text-anchor="middle" font-weight="normal" font-family="'Liberation Sans', sans-serif">-30</text>
<text x="87.4" y="216.5" font-size="8.4" fill="#7c7c7c" text-anchor="middle" font-weight="normal" font-family="'Liberation Sans', sans-serif">-20</text>
<text x="131.5" y="216.5" font-size="8.4" fill="#7c7c7c" text-anchor="middle" font-weight="normal" font-family="'Liberation Sans', sans-serif">-10</text>
<text x="175.6" y="216.5" font-size="8.4" fill="#7c7c7c" text-anchor="middle" font-weight="normal" font-family="'Liberation Sans', sans-serif">0</text>
<text x="219.7" y="216.5" font-size="8.4" fill="#7c7c7c" text-anchor="middle" font-weight="normal" font-family="'Liberation Sans', sans-serif">10</text>
<text x="263.8" y="216.5" font-size="8.4" fill="#7c7c7c" text-anchor="middle" font-weight="normal" font-family="'Liberation Sans', sans-serif">20</text>
<text x="158.45" y="229" font-size="9.4" fill="#404040" text-anchor="middle" font-weight="normal" font-family="'Liberation Sans', sans-serif">dif_1minSTS</text>
<text x="14.2" y="118.1" font-size="9.4" fill="#404040" text-anchor="middle" font-weight="normal" font-family="'Liberation Sans', sans-serif" transform="rotate(-90 14.2 118.1)">Density</text>
<text x="5.6" y="13.8" font-size="10.3" fill="#1a1a1a" text-anchor="start" font-weight="normal" font-family="'Liberation Sans', sans-serif" stroke="#1a1a1a" stroke-width="0.18">Posterior Predictive Check</text>
<text x="5.6" y="24.5" font-size="8.6" fill="#262626" text-anchor="start" font-weight="normal" font-family="'Liberation Sans', sans-serif" stroke="#262626" stroke-width="0.18">Model-predicted lines should resemble observed data line</text>
<line x1="74.2" y1="242.7" x2="86.4" y2="242.7" stroke="#3a9fd0" stroke-width="1.2"/>
<text x="90" y="245.8" font-size="8.5" fill="#262626" text-anchor="start" font-weight="normal" font-family="'Liberation Sans', sans-serif">Model-predicted data</text>
<line x1="174" y1="242.5" x2="185.7" y2="242.5" stroke="#189c7b" stroke-width="1.6"/>
<text x="189.1" y="245.8" font-size="8.5" fill="#262626" text-anchor="start" font-weight="normal" font-family="'Liberation Sans', sans-serif">Observed data</text>
<line x1="328.7" y1="31.2" x2="328.7" y2="205.4" stroke="#f0f0f0" stroke-width="0.8"/>
<line x1="386.9" y1="31.2" x2="386.9" y2="205.4" stroke="#f0f0f0" stroke-width="0.8"/>
<line x1="445.1" y1="31.2" x2="445.1" y2="205.4" stroke="#f0f0f0" stroke-width="0.8"/>
<line x1="503.3" y1="31.2" x2="503.3" y2="205.4" stroke="#f0f0f0" stroke-width="0.8"/>
<line x1="312.7" y1="192.45" x2="543.9" y2="192.45" stroke="#f0f0f0" stroke-width="0.8"/>
<line x1="312.7" y1="144.35" x2="543.9" y2="144.35" stroke="#f0f0f0" stroke-width="0.8"/>
<line x1="312.7" y1="96.25" x2="543.9" y2="96.25" stroke="#f0f0f0" stroke-width="0.8"/>
<line x1="312.7" y1="48.15" x2="543.9" y2="48.15" stroke="#f0f0f0" stroke-width="0.8"/>
<line x1="357.8" y1="31.2" x2="357.8" y2="205.4" stroke="#ebebeb" stroke-width="1"/>
<line x1="416" y1="31.2" x2="416" y2="205.4" stroke="#ebebeb" stroke-width="1"/>
<line x1="474.2" y1="31.2" x2="474.2" y2="205.4" stroke="#ebebeb" stroke-width="1"/>
<line x1="532.4" y1="31.2" x2="532.4" y2="205.4" stroke="#ebebeb" stroke-width="1"/>
<line x1="312.7" y1="168.4" x2="543.9" y2="168.4" stroke="#ebebeb" stroke-width="1"/>
<line x1="312.7" y1="120.3" x2="543.9" y2="120.3" stroke="#ebebeb" stroke-width="1"/>
<line x1="312.7" y1="72.2" x2="543.9" y2="72.2" stroke="#ebebeb" stroke-width="1"/>
<polygon points="322.4,66 323.2,66.67 324.28,67.57 325.57,68.66 327.01,69.87 328.51,71.17 330,72.5 331.53,73.95 333.16,75.57 334.85,77.28 336.58,78.98 338.31,80.58 340,82 341.67,83.24 343.33,84.37 345,85.41 346.67,86.35 348.33,87.21 350,88 351.59,88.68 353.08,89.24 354.57,89.72 356.16,90.15 357.94,90.56 360,91 362.45,91.48 365.23,91.98 368.2,92.47 371.21,92.91 374.13,93.26 376.8,93.5 379.22,93.6 381.5,93.59 383.69,93.49 385.81,93.34 387.9,93.16 390,93 392.07,92.83 394.08,92.62 396.06,92.39 398.05,92.16 400.09,91.92 402.2,91.7 404.37,91.48 406.57,91.26 408.82,91.04 411.13,90.84 413.51,90.65 416,90.5 418.66,90.35 421.5,90.18 424.41,90.03 427.31,89.94 430.11,89.95 432.7,90.1 435.04,90.38 437.19,90.77 439.24,91.26 441.25,91.84 443.31,92.49 445.5,93.2 447.84,94.01 450.27,94.93 452.76,95.92 455.24,96.95 457.67,97.99 460,99 462.23,100.05 464.38,101.17 466.49,102.3 468.56,103.36 470.63,104.29 472.7,105 474.83,105.47 477.01,105.76 479.18,105.9 481.28,105.96 483.24,105.97 485,106 486.51,106.04 487.82,106.04 488.99,106.01 490.1,105.93 491.21,105.8 492.4,105.6 493.65,105.36 494.9,105.09 496.16,104.76 497.43,104.36 498.71,103.84 500,103.2 501.32,102.39 502.68,101.44 504.05,100.38 505.41,99.26 506.73,98.12 508,97 509.21,95.9 510.38,94.8 511.51,93.67 512.62,92.51 513.72,91.33 514.8,90.1 515.87,88.84 516.93,87.55 517.97,86.23 518.99,84.87 520,83.46 521,82 522.01,80.47 523.03,78.87 524.03,77.23 525,75.56 525.89,73.88 526.7,72.2 527.4,70.53 528.01,68.85 528.56,67.16 529.06,65.45 529.53,63.73 530,62 530.48,60.12 530.96,58.07 531.41,56.01 531.81,54.09 532.15,52.47 532.4,51.3 532.4,178.2 531.93,176.83 531.29,174.89 530.53,172.62 529.7,170.23 528.84,167.95 528,166 527.18,164.37 526.35,162.89 525.49,161.51 524.6,160.2 523.67,158.95 522.7,157.7 521.67,156.45 520.58,155.2 519.46,154.01 518.31,152.89 517.15,151.87 516,151 514.87,150.24 513.76,149.57 512.64,149.01 511.49,148.57 510.29,148.3 509,148.2 507.63,148.34 506.19,148.73 504.69,149.26 503.15,149.87 501.58,150.48 500,151 498.37,151.51 496.67,152.08 494.95,152.64 493.24,153.13 491.57,153.48 490,153.6 488.51,153.48 487.08,153.16 485.7,152.69 484.36,152.12 483.06,151.51 481.8,150.9 480.59,150.27 479.43,149.59 478.31,148.85 477.21,148.08 476.12,147.29 475,146.5 473.88,145.68 472.79,144.81 471.69,143.92 470.57,143.04 469.41,142.19 468.2,141.4 466.95,140.66 465.67,139.96 464.36,139.28 462.99,138.64 461.54,138.05 460,137.5 458.4,136.95 456.76,136.39 455.05,135.88 453.21,135.45 451.21,135.18 449,135.1 446.5,135.26 443.73,135.63 440.79,136.14 437.79,136.74 434.82,137.38 432,138 429.33,138.64 426.73,139.35 424.16,140.09 421.61,140.84 419.03,141.55 416.4,142.2 413.64,142.79 410.76,143.37 407.85,143.91 405.02,144.41 402.37,144.84 400,145.2 398,145.44 396.31,145.58 394.8,145.65 393.33,145.71 391.78,145.81 390,146 388,146.27 385.9,146.57 383.7,146.91 381.44,147.3 379.13,147.72 376.8,148.2 374.38,148.71 371.83,149.26 369.24,149.84 366.69,150.49 364.25,151.2 362,152 359.99,152.87 358.15,153.79 356.43,154.78 354.76,155.86 353.07,157.02 351.3,158.3 349.44,159.67 347.53,161.12 345.61,162.67 343.69,164.32 341.82,166.1 340,168 338.23,170.06 336.48,172.28 334.77,174.62 333.11,177.04 331.51,179.51 330,182 328.51,184.71 327.01,187.72 325.57,190.78 324.28,193.64 323.2,196.06 322.4,197.8" fill="#ebebeb"/>
<line x1="312.7" y1="120.3" x2="543.9" y2="120.3" stroke="#1a1a1a" stroke-width="1.1" stroke-dasharray="3.4,3" stroke-dashoffset="0.9"/>
<polyline points="322.4,130.4 324.26,130.12 326.8,129.73 329.82,129.27 333.16,128.76 336.61,128.23 340,127.7 343.44,127.16 347.09,126.58 350.86,125.98 354.66,125.37 358.4,124.78 362,124.2 365.46,123.64 368.86,123.08 372.19,122.53 375.48,121.99 378.71,121.48 381.9,121 385.05,120.56 388.14,120.16 391.19,119.79 394.19,119.43 397.13,119.07 400,118.7 402.78,118.33 405.46,117.96 408.09,117.59 410.69,117.23 413.32,116.87 416,116.5 418.79,116.11 421.66,115.69 424.55,115.27 427.4,114.88 430.13,114.55 432.7,114.3 435.13,114.15 437.49,114.08 439.74,114.06 441.84,114.09 443.78,114.14 445.5,114.2 446.95,114.27 448.15,114.36 449.18,114.47 450.1,114.61 451.02,114.79 452,115 453.01,115.24 453.98,115.5 454.94,115.8 455.91,116.14 456.92,116.54 458,117 459.17,117.55 460.43,118.17 461.72,118.84 463.02,119.56 464.29,120.28 465.5,121 466.6,121.72 467.62,122.45 468.61,123.2 469.63,123.96 470.74,124.73 472,125.5 473.46,126.36 475.08,127.31 476.79,128.28 478.53,129.16 480.22,129.86 481.8,130.3 483.2,130.46 484.45,130.4 485.66,130.18 486.93,129.81 488.34,129.34 490,128.8 491.92,128.15 494.03,127.34 496.29,126.43 498.66,125.46 501.11,124.5 503.6,123.6 506.22,122.74 509.01,121.87 511.88,121 514.73,120.14 517.47,119.31 520,118.5 522.44,117.68 524.89,116.82 527.23,115.98 529.33,115.21 531.1,114.57 532.4,114.1" fill="none" stroke="#189c7b" stroke-width="1.7" stroke-linejoin="round" stroke-linecap="butt"/>
<circle cx="322.4" cy="130.4" r="1.7" fill="#165b8c"/>
<circle cx="361.6" cy="133.6" r="1.7" fill="#165b8c"/>
<circle cx="380.4" cy="139.6" r="1.7" fill="#165b8c"/>
<circle cx="374.6" cy="96.6" r="1.7" fill="#165b8c"/>
<circle cx="404.6" cy="82.6" r="1.7" fill="#165b8c"/>
<circle cx="416.6" cy="73" r="1.7" fill="#165b8c"/>
<circle cx="416" cy="121" r="1.7" fill="#165b8c"/>
<circle cx="406" cy="160.4" r="1.7" fill="#165b8c"/>
<circle cx="416.4" cy="160" r="1.7" fill="#165b8c"/>
<circle cx="444.5" cy="38.3" r="1.7" fill="#165b8c"/>
<circle cx="469.1" cy="39.5" r="1.7" fill="#165b8c"/>
<circle cx="456.7" cy="86.8" r="1.7" fill="#165b8c"/>
<circle cx="479.1" cy="95.5" r="1.7" fill="#165b8c"/>
<circle cx="473.1" cy="100.5" r="1.7" fill="#165b8c"/>
<circle cx="453.6" cy="103.5" r="1.7" fill="#165b8c"/>
<circle cx="454.5" cy="104.5" r="1.7" fill="#165b8c"/>
<circle cx="460" cy="109" r="1.7" fill="#165b8c"/>
<circle cx="437.3" cy="109.2" r="1.7" fill="#165b8c"/>
<circle cx="450.5" cy="119.9" r="1.7" fill="#165b8c"/>
<circle cx="458.5" cy="116.8" r="1.7" fill="#165b8c"/>
<circle cx="441.5" cy="141.9" r="1.7" fill="#165b8c"/>
<circle cx="449.1" cy="176.8" r="1.7" fill="#165b8c"/>
<circle cx="463.3" cy="169.2" r="1.7" fill="#165b8c"/>
<circle cx="468.2" cy="154.2" r="1.7" fill="#165b8c"/>
<circle cx="458.1" cy="126.9" r="1.7" fill="#165b8c"/>
<circle cx="461.4" cy="129.1" r="1.7" fill="#165b8c"/>
<circle cx="466" cy="133.2" r="1.7" fill="#165b8c"/>
<circle cx="470.9" cy="137.3" r="1.7" fill="#165b8c"/>
<circle cx="482.4" cy="146.3" r="1.7" fill="#165b8c"/>
<circle cx="485.9" cy="149.5" r="1.7" fill="#165b8c"/>
<circle cx="494.1" cy="146.3" r="1.7" fill="#165b8c"/>
<circle cx="495.4" cy="157.7" r="1.7" fill="#165b8c"/>
<circle cx="501.7" cy="143.3" r="1.7" fill="#165b8c"/>
<circle cx="500.9" cy="123.1" r="1.7" fill="#165b8c"/>
<circle cx="506.9" cy="128.3" r="1.7" fill="#165b8c"/>
<circle cx="532.8" cy="130.5" r="1.7" fill="#165b8c"/>
<circle cx="510" cy="73.3" r="1.7" fill="#165b8c"/>
<circle cx="506.3" cy="89.4" r="1.7" fill="#165b8c"/>
<line x1="312.7" y1="31.2" x2="312.7" y2="205.9" stroke="#d6d6d6" stroke-width="1"/>
<line x1="312.2" y1="205.4" x2="543.9" y2="205.4" stroke="#d6d6d6" stroke-width="1"/>
<text x="308.1" y="171.8" font-size="8.4" fill="#7c7c7c" text-anchor="end" font-weight="normal" font-family="'Liberation Sans', sans-serif">-5</text>
<text x="308.1" y="123.7" font-size="8.4" fill="#7c7c7c" text-anchor="end" font-weight="normal" font-family="'Liberation Sans', sans-serif">0</text>
<text x="308.1" y="75.6" font-size="8.4" fill="#7c7c7c" text-anchor="end" font-weight="normal" font-family="'Liberation Sans', sans-serif">5</text>
<text x="357.8" y="216.5" font-size="8.4" fill="#7c7c7c" text-anchor="middle" font-weight="normal" font-family="'Liberation Sans', sans-serif">-10</text>
<text x="416" y="216.5" font-size="8.4" fill="#7c7c7c" text-anchor="middle" font-weight="normal" font-family="'Liberation Sans', sans-serif">-5</text>
<text x="474.2" y="216.5" font-size="8.4" fill="#7c7c7c" text-anchor="middle" font-weight="normal" font-family="'Liberation Sans', sans-serif">0</text>
<text x="532.4" y="216.5" font-size="8.4" fill="#7c7c7c" text-anchor="middle" font-weight="normal" font-family="'Liberation Sans', sans-serif">5</text>
<text x="428.3" y="229" font-size="9.4" fill="#404040" text-anchor="middle" font-weight="normal" font-family="'Liberation Sans', sans-serif">Fitted values</text>
<text x="289.9" y="118.3" font-size="9.4" fill="#404040" text-anchor="middle" font-weight="normal" font-family="'Liberation Sans', sans-serif" transform="rotate(-90 289.9 118.3)">Residuals</text>
<text x="283.4" y="13.8" font-size="10.3" fill="#1a1a1a" text-anchor="start" font-weight="normal" font-family="'Liberation Sans', sans-serif" stroke="#1a1a1a" stroke-width="0.18">Linearity</text>
<text x="283.4" y="24.5" font-size="8.6" fill="#262626" text-anchor="start" font-weight="normal" font-family="'Liberation Sans', sans-serif" stroke="#262626" stroke-width="0.18">Reference line should be flat and horizontal</text>
<line x1="58.72" y1="279.3" x2="58.72" y2="453.8" stroke="#f0f0f0" stroke-width="0.8"/>
<line x1="117.27" y1="279.3" x2="117.27" y2="453.8" stroke="#f0f0f0" stroke-width="0.8"/>
<line x1="175.82" y1="279.3" x2="175.82" y2="453.8" stroke="#f0f0f0" stroke-width="0.8"/>
<line x1="234.38" y1="279.3" x2="234.38" y2="453.8" stroke="#f0f0f0" stroke-width="0.8"/>
<line x1="43.4" y1="411.73" x2="273.5" y2="411.73" stroke="#f0f0f0" stroke-width="0.8"/>
<line x1="43.4" y1="363.98" x2="273.5" y2="363.98" stroke="#f0f0f0" stroke-width="0.8"/>
<line x1="43.4" y1="316.23" x2="273.5" y2="316.23" stroke="#f0f0f0" stroke-width="0.8"/>
<line x1="88" y1="279.3" x2="88" y2="453.8" stroke="#ebebeb" stroke-width="1"/>
<line x1="146.55" y1="279.3" x2="146.55" y2="453.8" stroke="#ebebeb" stroke-width="1"/>
<line x1="205.1" y1="279.3" x2="205.1" y2="453.8" stroke="#ebebeb" stroke-width="1"/>
<line x1="263.65" y1="279.3" x2="263.65" y2="453.8" stroke="#ebebeb" stroke-width="1"/>
<line x1="43.4" y1="435.6" x2="273.5" y2="435.6" stroke="#ebebeb" stroke-width="1"/>
<line x1="43.4" y1="387.85" x2="273.5" y2="387.85" stroke="#ebebeb" stroke-width="1"/>
<line x1="43.4" y1="340.1" x2="273.5" y2="340.1" stroke="#ebebeb" stroke-width="1"/>
<line x1="43.4" y1="292.35" x2="273.5" y2="292.35" stroke="#ebebeb" stroke-width="1"/>
<polygon points="53.9,316.7 55.11,317.11 56.77,317.68 58.74,318.35 60.87,319.08 63.01,319.81 65,320.5 66.84,321.18 68.66,321.91 70.49,322.64 72.35,323.34 74.28,323.98 76.3,324.5 78.37,324.91 80.46,325.24 82.61,325.5 84.88,325.7 87.32,325.87 90,326 92.97,326.12 96.2,326.2 99.61,326.25 103.1,326.24 106.59,326.16 110,326 113.38,325.68 116.82,325.19 120.26,324.62 123.64,324.09 126.91,323.69 130,323.5 132.94,323.52 135.77,323.68 138.49,323.96 141.07,324.36 143.52,324.87 145.8,325.5 147.81,326.29 149.53,327.25 151.1,328.33 152.67,329.47 154.39,330.61 156.4,331.7 158.7,332.8 161.19,333.97 163.81,335.14 166.55,336.25 169.36,337.23 172.2,338 175.18,338.62 178.33,339.15 181.56,339.55 184.76,339.77 187.8,339.77 190.6,339.5 193.13,338.88 195.48,337.93 197.69,336.76 199.79,335.47 201.81,334.18 203.8,333 205.69,331.81 207.43,330.51 209.11,329.21 210.78,328.02 212.52,327.04 214.4,326.4 216.44,326.1 218.58,326.06 220.79,326.24 223.03,326.6 225.28,327.1 227.5,327.7 229.72,328.57 231.99,329.79 234.26,331.15 236.49,332.44 238.65,333.46 240.7,334 242.66,334.01 244.57,333.63 246.41,332.99 248.15,332.18 249.79,331.31 251.3,330.5 252.65,329.71 253.86,328.85 254.96,327.94 255.99,326.98 256.99,326 258,325 259.07,323.9 260.19,322.67 261.27,321.41 262.26,320.22 263.09,319.22 263.7,318.5 263.7,446 263.61,444.79 263.49,443.11 263.34,441.12 263.17,439 262.99,436.9 262.8,435 262.6,433.26 262.39,431.56 262.16,429.88 261.92,428.22 261.67,426.6 261.4,425 261.12,423.44 260.83,421.91 260.53,420.41 260.21,418.93 259.87,417.46 259.5,416 259.1,414.54 258.68,413.09 258.24,411.66 257.77,410.24 257.29,408.85 256.8,407.5 256.25,406.15 255.64,404.8 255.01,403.47 254.41,402.2 253.89,401.04 253.5,400 253.29,399.18 253.23,398.56 253.26,398.04 253.28,397.51 253.22,396.86 253,396 252.63,394.87 252.18,393.54 251.65,392.1 251.04,390.63 250.36,389.2 249.6,387.9 248.74,386.7 247.77,385.54 246.72,384.43 245.63,383.38 244.55,382.4 243.5,381.5 242.5,380.71 241.53,380.02 240.56,379.4 239.57,378.83 238.52,378.27 237.4,377.7 236.23,377.12 235.03,376.54 233.78,375.98 232.45,375.44 231.03,374.95 229.5,374.5 227.81,374.09 225.99,373.7 224.07,373.35 222.1,373.06 220.13,372.83 218.2,372.7 216.26,372.63 214.27,372.6 212.28,372.64 210.34,372.79 208.49,373.06 206.8,373.5 205.29,374.16 203.94,375.02 202.69,376.02 201.48,377.07 200.27,378.09 199,379 197.67,379.85 196.31,380.7 194.95,381.53 193.6,382.3 192.28,382.96 191,383.5 189.83,383.88 188.75,384.13 187.71,384.28 186.61,384.37 185.4,384.43 184,384.5 182.38,384.6 180.6,384.7 178.71,384.78 176.73,384.8 174.71,384.71 172.7,384.5 170.63,384.13 168.47,383.63 166.27,383.03 164.09,382.37 161.98,381.68 160,381 158.18,380.26 156.47,379.43 154.83,378.57 153.23,377.76 151.64,377.04 150,376.5 148.36,376.16 146.74,375.97 145.12,375.89 143.48,375.86 141.78,375.85 140,375.8 138.13,375.71 136.2,375.62 134.22,375.54 132.19,375.49 130.11,375.47 128,375.5 125.78,375.58 123.44,375.69 121.06,375.84 118.72,376.02 116.51,376.24 114.5,376.5 112.76,376.78 111.22,377.08 109.81,377.42 108.44,377.81 107.03,378.26 105.5,378.8 103.85,379.4 102.14,380.06 100.4,380.78 98.62,381.59 96.82,382.49 95,383.5 93.18,384.62 91.35,385.84 89.49,387.16 87.6,388.57 85.64,390.08 83.6,391.7 81.4,393.42 79.03,395.25 76.6,397.17 74.21,399.2 71.98,401.31 70,403.5 68.28,405.82 66.74,408.28 65.35,410.83 64.08,413.42 62.91,415.99 61.8,418.5 60.78,420.98 59.89,423.48 59.08,425.97 58.35,428.41 57.66,430.76 57,433 56.35,435.22 55.73,437.48 55.15,439.66 54.64,441.63 54.22,443.28 53.9,444.5" fill="#ebebeb"/>
<polyline points="53.9,378.5 55.62,377.16 57.97,375.27 60.76,373.06 63.82,370.71 66.96,368.46 70,366.5 72.95,364.82 75.97,363.24 79.07,361.74 82.26,360.32 85.57,358.94 89,357.6 92.66,356.27 96.56,354.95 100.56,353.68 104.56,352.5 108.41,351.43 112,350.5 115.38,349.72 118.67,349.07 121.81,348.54 124.78,348.1 127.52,347.76 130,347.5 132.13,347.32 133.93,347.24 135.5,347.26 136.96,347.36 138.43,347.54 140,347.8 141.65,348.14 143.28,348.56 144.91,349.06 146.56,349.65 148.25,350.33 150,351.1 151.82,352.04 153.7,353.16 155.62,354.37 157.56,355.57 159.49,356.68 161.4,357.6 163.29,358.33 165.17,358.93 167.05,359.44 168.93,359.88 170.81,360.26 172.7,360.6 174.65,360.9 176.66,361.14 178.68,361.33 180.64,361.47 182.47,361.55 184.1,361.6 185.47,361.61 186.62,361.57 187.64,361.49 188.63,361.36 189.69,361.16 190.9,360.9 192.27,360.58 193.72,360.23 195.24,359.81 196.8,359.31 198.39,358.71 200,358 201.69,357.08 203.49,355.94 205.31,354.71 207.09,353.49 208.75,352.42 210.2,351.6 211.4,351.05 212.39,350.69 213.26,350.46 214.09,350.33 214.94,350.26 215.9,350.2 216.94,350.14 218,350.11 219.09,350.14 220.22,350.24 221.42,350.46 222.7,350.8 224.08,351.29 225.56,351.92 227.11,352.65 228.68,353.46 230.26,354.32 231.8,355.2 233.29,356.08 234.75,356.99 236.21,357.94 237.7,358.97 239.25,360.11 240.9,361.4 242.67,362.86 244.53,364.47 246.46,366.2 248.41,367.99 250.37,369.81 252.3,371.6 254.33,373.51 256.52,375.61 258.71,377.74 260.74,379.72 262.46,381.39 263.7,382.6" fill="none" stroke="#189c7b" stroke-width="1.7" stroke-linejoin="round" stroke-linecap="butt"/>
<circle cx="53.4" cy="376.2" r="1.7" fill="#165b8c"/>
<circle cx="92.9" cy="369.1" r="1.7" fill="#165b8c"/>
<circle cx="105.6" cy="348" r="1.7" fill="#165b8c"/>
<circle cx="111.2" cy="355.1" r="1.7" fill="#165b8c"/>
<circle cx="136.6" cy="329.4" r="1.7" fill="#165b8c"/>
<circle cx="135.4" cy="334.5" r="1.7" fill="#165b8c"/>
<circle cx="175.3" cy="286.9" r="1.7" fill="#165b8c"/>
<circle cx="200.4" cy="286.3" r="1.7" fill="#165b8c"/>
<circle cx="180.1" cy="311.1" r="1.7" fill="#165b8c"/>
<circle cx="194.1" cy="320.3" r="1.7" fill="#165b8c"/>
<circle cx="147.1" cy="322.5" r="1.7" fill="#165b8c"/>
<circle cx="147.7" cy="330.9" r="1.7" fill="#165b8c"/>
<circle cx="240.7" cy="324.3" r="1.7" fill="#165b8c"/>
<circle cx="226.8" cy="334.8" r="1.7" fill="#165b8c"/>
<circle cx="199.3" cy="339.9" r="1.7" fill="#165b8c"/>
<circle cx="187.5" cy="343.5" r="1.7" fill="#165b8c"/>
<circle cx="237.3" cy="344.6" r="1.7" fill="#165b8c"/>
<circle cx="225.4" cy="348.3" r="1.7" fill="#165b8c"/>
<circle cx="217" cy="348.8" r="1.7" fill="#165b8c"/>
<circle cx="210.4" cy="353.3" r="1.7" fill="#165b8c"/>
<circle cx="213.8" cy="354.1" r="1.7" fill="#165b8c"/>
<circle cx="232.3" cy="355.9" r="1.7" fill="#165b8c"/>
<circle cx="172.2" cy="354.9" r="1.7" fill="#165b8c"/>
<circle cx="201.7" cy="360.7" r="1.7" fill="#165b8c"/>
<circle cx="204.3" cy="364.6" r="1.7" fill="#165b8c"/>
<circle cx="185.4" cy="362" r="1.7" fill="#165b8c"/>
<circle cx="184.6" cy="368.1" r="1.7" fill="#165b8c"/>
<circle cx="168.2" cy="380.5" r="1.7" fill="#165b8c"/>
<circle cx="190.6" cy="379.7" r="1.7" fill="#165b8c"/>
<circle cx="197.2" cy="379.1" r="1.7" fill="#165b8c"/>
<circle cx="192.5" cy="385.8" r="1.7" fill="#165b8c"/>
<circle cx="189.3" cy="394.3" r="1.7" fill="#165b8c"/>
<circle cx="189.3" cy="406.1" r="1.7" fill="#165b8c"/>
<circle cx="237.6" cy="390.6" r="1.7" fill="#165b8c"/>
<circle cx="231.5" cy="407.7" r="1.7" fill="#165b8c"/>
<circle cx="147.1" cy="422.7" r="1.7" fill="#165b8c"/>
<circle cx="181.4" cy="422.7" r="1.7" fill="#165b8c"/>
<circle cx="263.7" cy="382.4" r="1.7" fill="#165b8c"/>
<line x1="43.4" y1="279.3" x2="43.4" y2="454.3" stroke="#d6d6d6" stroke-width="1"/>
<line x1="42.9" y1="453.8" x2="273.5" y2="453.8" stroke="#d6d6d6" stroke-width="1"/>
<text x="39.3" y="439" font-size="8.4" fill="#7c7c7c" text-anchor="end" font-weight="normal" font-family="'Liberation Sans', sans-serif">0.0</text>
<text x="39.3" y="391.25" font-size="8.4" fill="#7c7c7c" text-anchor="end" font-weight="normal" font-family="'Liberation Sans', sans-serif">0.5</text>
<text x="39.3" y="343.5" font-size="8.4" fill="#7c7c7c" text-anchor="end" font-weight="normal" font-family="'Liberation Sans', sans-serif">1.0</text>
<text x="39.3" y="295.75" font-size="8.4" fill="#7c7c7c" text-anchor="end" font-weight="normal" font-family="'Liberation Sans', sans-serif">1.5</text>
<text x="88" y="464.9" font-size="8.4" fill="#7c7c7c" text-anchor="middle" font-weight="normal" font-family="'Liberation Sans', sans-serif">-10</text>
<text x="146.55" y="464.9" font-size="8.4" fill="#7c7c7c" text-anchor="middle" font-weight="normal" font-family="'Liberation Sans', sans-serif">-5</text>
<text x="205.1" y="464.9" font-size="8.4" fill="#7c7c7c" text-anchor="middle" font-weight="normal" font-family="'Liberation Sans', sans-serif">0</text>
<text x="263.65" y="464.9" font-size="8.4" fill="#7c7c7c" text-anchor="middle" font-weight="normal" font-family="'Liberation Sans', sans-serif">5</text>
<text x="158.45" y="477.6" font-size="9.4" fill="#404040" text-anchor="middle" font-weight="normal" font-family="'Liberation Sans', sans-serif">Fitted values</text>
<g transform="translate(14.3 366.55) rotate(-90)"><text x="2.5" y="0" font-size="9" fill="#404040" text-anchor="middle" font-family="'Liberation Sans', sans-serif">|Std. residuals|</text><path d="M -32 -3 L -29.5 -2 L -27.5 -6 L -28.6 -8.3 L 32 -8.3" fill="none" stroke="#404040" stroke-width="0.7"/></g>
<text x="73" y="435.4" font-size="10.6" fill="#1a1a1a" font-family="'Liberation Sans', sans-serif" textLength="47.3" lengthAdjust="spacingAndGlyphs" stroke="#1a1a1a" stroke-width="0.35">p = 0.890</text>
<text x="5.6" y="261.5" font-size="10.3" fill="#1a1a1a" text-anchor="start" font-weight="normal" font-family="'Liberation Sans', sans-serif" stroke="#1a1a1a" stroke-width="0.18">Homogeneity of Variance</text>
<text x="5.6" y="272.4" font-size="8.6" fill="#262626" text-anchor="start" font-weight="normal" font-family="'Liberation Sans', sans-serif" stroke="#262626" stroke-width="0.18">Reference line should be flat and horizontal</text>
<line x1="351.54" y1="279.3" x2="351.54" y2="453.5" stroke="#f0f0f0" stroke-width="0.8"/>
<line x1="409.82" y1="279.3" x2="409.82" y2="453.5" stroke="#f0f0f0" stroke-width="0.8"/>
<line x1="468.1" y1="279.3" x2="468.1" y2="453.5" stroke="#f0f0f0" stroke-width="0.8"/>
<line x1="526.38" y1="279.3" x2="526.38" y2="453.5" stroke="#f0f0f0" stroke-width="0.8"/>
<line x1="312.7" y1="419" x2="543.5" y2="419" stroke="#f0f0f0" stroke-width="0.8"/>
<line x1="312.7" y1="384" x2="543.5" y2="384" stroke="#f0f0f0" stroke-width="0.8"/>
<line x1="312.7" y1="349" x2="543.5" y2="349" stroke="#f0f0f0" stroke-width="0.8"/>
<line x1="312.7" y1="314" x2="543.5" y2="314" stroke="#f0f0f0" stroke-width="0.8"/>
<line x1="322.4" y1="279.3" x2="322.4" y2="453.5" stroke="#ebebeb" stroke-width="1"/>
<line x1="380.68" y1="279.3" x2="380.68" y2="453.5" stroke="#ebebeb" stroke-width="1"/>
<line x1="438.96" y1="279.3" x2="438.96" y2="453.5" stroke="#ebebeb" stroke-width="1"/>
<line x1="497.24" y1="279.3" x2="497.24" y2="453.5" stroke="#ebebeb" stroke-width="1"/>
<line x1="312.7" y1="436.5" x2="543.5" y2="436.5" stroke="#ebebeb" stroke-width="1"/>
<line x1="312.7" y1="401.5" x2="543.5" y2="401.5" stroke="#ebebeb" stroke-width="1"/>
<line x1="312.7" y1="366.5" x2="543.5" y2="366.5" stroke="#ebebeb" stroke-width="1"/>
<line x1="312.7" y1="331.5" x2="543.5" y2="331.5" stroke="#ebebeb" stroke-width="1"/>
<line x1="312.7" y1="296.5" x2="543.5" y2="296.5" stroke="#ebebeb" stroke-width="1"/>
<line x1="322.4" y1="279.3" x2="322.4" y2="453.5" stroke="#b3b3b3" stroke-width="1.0" stroke-dasharray="5,3"/>
<line x1="312.7" y1="366.5" x2="543.5" y2="366.5" stroke="#b3b3b3" stroke-width="1.0" stroke-dasharray="5,3"/>
<polyline points="342.68,285.97 345.08,290.69 347.48,294.73 349.88,298.24 352.28,301.34 354.68,304.09 357.08,306.57 359.47,308.81 361.87,310.86 364.27,312.73 366.67,314.46 369.07,316.06 371.47,317.55 373.87,318.95 376.27,320.25 378.67,321.48 381.07,322.63 383.47,323.72 385.86,324.76 388.26,325.74 390.66,326.68 393.06,327.57 395.46,328.43 397.86,329.24 400.26,330.02 402.66,330.78 405.06,331.5 407.46,332.19 409.86,332.87 412.25,333.51 414.65,334.14 417.05,334.75 419.45,335.33 421.85,335.9 424.25,336.45 426.65,336.99 429.05,337.51 431.45,338.02 433.85,338.51 436.25,338.99 438.64,339.46 441.04,339.92 443.44,340.37 445.84,340.81 448.24,341.24 450.64,341.66 453.04,342.07 455.44,342.47 457.84,342.86 460.24,343.25 462.63,343.63 465.03,344.01 467.43,344.37 469.83,344.74 472.23,345.09 474.63,345.44 477.03,345.79 479.43,346.13 481.83,346.46 484.23,346.79 486.63,347.12 489.02,347.44 491.42,347.76 493.82,348.07 496.22,348.39 498.62,348.69 501.02,349 503.42,349.3 505.82,349.6 508.22,349.9 510.62,350.19 513.02,350.48 515.41,350.78 517.81,351.06 520.21,351.35 522.61,351.64 525.01,351.92 527.41,352.2 529.81,352.48 532.21,352.77" fill="none" stroke="#27a37f" stroke-width="1.5" stroke-linejoin="round" stroke-linecap="butt" stroke-dasharray="6.5,3.5"/>
<polyline points="342.68,447.03 345.08,442.31 347.48,438.27 349.88,434.76 352.28,431.66 354.68,428.91 357.08,426.43 359.47,424.19 361.87,422.14 364.27,420.27 366.67,418.54 369.07,416.94 371.47,415.45 373.87,414.05 376.27,412.75 378.67,411.52 381.07,410.37 383.47,409.28 385.86,408.24 388.26,407.26 390.66,406.32 393.06,405.43 395.46,404.57 397.86,403.76 400.26,402.98 402.66,402.22 405.06,401.5 407.46,400.81 409.86,400.13 412.25,399.49 414.65,398.86 417.05,398.25 419.45,397.67 421.85,397.1 424.25,396.55 426.65,396.01 429.05,395.49 431.45,394.98 433.85,394.49 436.25,394.01 438.64,393.54 441.04,393.08 443.44,392.63 445.84,392.19 448.24,391.76 450.64,391.34 453.04,390.93 455.44,390.53 457.84,390.14 460.24,389.75 462.63,389.37 465.03,388.99 467.43,388.63 469.83,388.26 472.23,387.91 474.63,387.56 477.03,387.21 479.43,386.87 481.83,386.54 484.23,386.21 486.63,385.88 489.02,385.56 491.42,385.24 493.82,384.93 496.22,384.61 498.62,384.31 501.02,384 503.42,383.7 505.82,383.4 508.22,383.1 510.62,382.81 513.02,382.52 515.41,382.22 517.81,381.94 520.21,381.65 522.61,381.36 525.01,381.08 527.41,380.8 529.81,380.52 532.21,380.23" fill="none" stroke="#27a37f" stroke-width="1.5" stroke-linejoin="round" stroke-linecap="butt" stroke-dasharray="6.5,3.5"/>
<text x="489.7" y="343" font-size="7" fill="#2aa57f" text-anchor="middle" font-weight="normal" font-family="'Liberation Sans', sans-serif">0.9</text>
<text x="489.7" y="393.2" font-size="7" fill="#2aa57f" text-anchor="middle" font-weight="normal" font-family="'Liberation Sans', sans-serif">0.9</text>
<polyline points="342.7,365.5 343.67,365.3 344.99,365.01 346.57,364.67 348.3,364.31 350.07,363.98 351.8,363.7 353.51,363.46 355.3,363.22 357.14,363 359,362.81 360.86,362.68 362.7,362.6 364.6,362.61 366.6,362.71 368.6,362.85 370.5,363 372.2,363.13 373.6,363.2 374.59,363.17 375.24,363.08 375.68,362.96 376.07,362.86 376.56,362.82 377.3,362.9 378.28,363.09 379.37,363.34 380.56,363.67 381.83,364.06 383.15,364.5 384.5,365 385.91,365.6 387.39,366.33 388.93,367.11 390.5,367.89 392.06,368.6 393.6,369.2 395.14,369.67 396.7,370.07 398.26,370.41 399.8,370.7 401.29,370.96 402.7,371.2 403.89,371.42 404.83,371.61 405.73,371.77 406.77,371.9 408.13,371.97 410,372 412.49,371.98 415.47,371.93 418.77,371.83 422.23,371.67 425.7,371.47 429,371.2 432.13,370.83 435.22,370.35 438.31,369.81 441.44,369.27 444.66,368.79 448,368.4 451.4,368.12 454.81,367.92 458.31,367.76 461.96,367.64 465.84,367.52 470,367.4 474.5,367.27 479.3,367.16 484.31,367.06 489.48,366.97 494.73,366.88 500,366.8 505.71,366.72 512,366.64 518.38,366.56 524.33,366.5 529.38,366.44 533,366.4" fill="none" stroke="#189c7b" stroke-width="1.6" stroke-linejoin="round" stroke-linecap="butt"/>
<circle cx="342.7" cy="359.5" r="1.25" fill="#165b8c"/>
<circle cx="344.5" cy="362.3" r="1.25" fill="#165b8c"/>
<circle cx="342.7" cy="368.6" r="1.25" fill="#165b8c"/>
<circle cx="345.5" cy="371.4" r="1.25" fill="#165b8c"/>
<circle cx="361.5" cy="356.8" r="1.25" fill="#165b8c"/>
<circle cx="357.8" cy="372.3" r="1.25" fill="#165b8c"/>
<circle cx="373.6" cy="349.5" r="1.25" fill="#165b8c"/>
<circle cx="385.1" cy="349.2" r="1.25" fill="#165b8c"/>
<circle cx="368.7" cy="359.5" r="1.25" fill="#165b8c"/>
<circle cx="378.7" cy="356.5" r="1.25" fill="#165b8c"/>
<circle cx="376.9" cy="358.6" r="1.25" fill="#165b8c"/>
<circle cx="384.2" cy="361" r="1.25" fill="#165b8c"/>
<circle cx="385.5" cy="363.7" r="1.25" fill="#165b8c"/>
<circle cx="375.5" cy="363.2" r="1.25" fill="#165b8c"/>
<circle cx="372.7" cy="365" r="1.25" fill="#165b8c"/>
<circle cx="372.2" cy="367.7" r="1.25" fill="#165b8c"/>
<circle cx="368.5" cy="367.7" r="1.25" fill="#165b8c"/>
<circle cx="376.4" cy="373.2" r="1.25" fill="#165b8c"/>
<circle cx="380.5" cy="376.5" r="1.25" fill="#165b8c"/>
<circle cx="384.9" cy="374.1" r="1.25" fill="#165b8c"/>
<circle cx="384.2" cy="378.3" r="1.25" fill="#165b8c"/>
<circle cx="392.7" cy="371" r="1.25" fill="#165b8c"/>
<circle cx="392.7" cy="374.6" r="1.25" fill="#165b8c"/>
<circle cx="397.6" cy="374.6" r="1.25" fill="#165b8c"/>
<circle cx="398.7" cy="367.7" r="1.25" fill="#165b8c"/>
<circle cx="406.9" cy="368.3" r="1.25" fill="#165b8c"/>
<circle cx="429" cy="371.4" r="1.25" fill="#165b8c"/>
<circle cx="446.7" cy="360.3" r="1.25" fill="#165b8c"/>
<circle cx="457.1" cy="361.9" r="1.25" fill="#165b8c"/>
<circle cx="457.1" cy="369" r="1.25" fill="#165b8c"/>
<circle cx="458.3" cy="371.4" r="1.25" fill="#165b8c"/>
<circle cx="466.1" cy="370.7" r="1.25" fill="#165b8c"/>
<circle cx="473.2" cy="368.5" r="1.25" fill="#165b8c"/>
<circle cx="533" cy="366.2" r="1.25" fill="#165b8c"/>
<line x1="312.7" y1="279.3" x2="312.7" y2="454" stroke="#d6d6d6" stroke-width="1"/>
<line x1="312.2" y1="453.5" x2="543.5" y2="453.5" stroke="#d6d6d6" stroke-width="1"/>
<text x="308.1" y="439.9" font-size="8.4" fill="#7c7c7c" text-anchor="end" font-weight="normal" font-family="'Liberation Sans', sans-serif">-10</text>
<text x="308.1" y="404.9" font-size="8.4" fill="#7c7c7c" text-anchor="end" font-weight="normal" font-family="'Liberation Sans', sans-serif">-5</text>
<text x="308.1" y="369.9" font-size="8.4" fill="#7c7c7c" text-anchor="end" font-weight="normal" font-family="'Liberation Sans', sans-serif">0</text>
<text x="308.1" y="334.9" font-size="8.4" fill="#7c7c7c" text-anchor="end" font-weight="normal" font-family="'Liberation Sans', sans-serif">5</text>
<text x="308.1" y="299.9" font-size="8.4" fill="#7c7c7c" text-anchor="end" font-weight="normal" font-family="'Liberation Sans', sans-serif">10</text>
<text x="322.4" y="464.9" font-size="8.4" fill="#7c7c7c" text-anchor="middle" font-weight="normal" font-family="'Liberation Sans', sans-serif">0.0</text>
<text x="380.68" y="464.9" font-size="8.4" fill="#7c7c7c" text-anchor="middle" font-weight="normal" font-family="'Liberation Sans', sans-serif">0.2</text>
<text x="438.96" y="464.9" font-size="8.4" fill="#7c7c7c" text-anchor="middle" font-weight="normal" font-family="'Liberation Sans', sans-serif">0.4</text>
<text x="497.24" y="464.9" font-size="8.4" fill="#7c7c7c" text-anchor="middle" font-weight="normal" font-family="'Liberation Sans', sans-serif">0.6</text>
<text x="428.1" y="477.6" font-size="9.4" fill="#404040" text-anchor="middle" font-family="'Liberation Sans', sans-serif">Leverage (h<tspan font-size="6.5" dy="2">ii</tspan><tspan dy="-2">)</tspan></text>
<text x="289.9" y="366.4" font-size="9.4" fill="#404040" text-anchor="middle" font-weight="normal" font-family="'Liberation Sans', sans-serif" transform="rotate(-90 289.9 366.4)">Std. Residuals</text>
<text x="283.4" y="261.5" font-size="10.3" fill="#1a1a1a" text-anchor="start" font-weight="normal" font-family="'Liberation Sans', sans-serif" stroke="#1a1a1a" stroke-width="0.18">Influential Observations</text>
<text x="283.4" y="272.4" font-size="8.6" fill="#262626" text-anchor="start" font-weight="normal" font-family="'Liberation Sans', sans-serif" stroke="#262626" stroke-width="0.18">Points should be inside the contour lines</text>
<rect x="43.4" y="521.8" width="230.3" height="79.65" fill="#d0e5f1"/>
<rect x="43.4" y="601.45" width="230.3" height="79.65" fill="#d5f0e6"/>
<line x1="43.4" y1="661.19" x2="273.7" y2="661.19" stroke="#000" stroke-opacity="0.035" stroke-width="0.8"/>
<line x1="43.4" y1="621.36" x2="273.7" y2="621.36" stroke="#000" stroke-opacity="0.035" stroke-width="0.8"/>
<line x1="43.4" y1="581.54" x2="273.7" y2="581.54" stroke="#000" stroke-opacity="0.035" stroke-width="0.8"/>
<line x1="43.4" y1="541.71" x2="273.7" y2="541.71" stroke="#000" stroke-opacity="0.035" stroke-width="0.8"/>
<line x1="43.4" y1="681.1" x2="273.7" y2="681.1" stroke="#000" stroke-opacity="0.06" stroke-width="1"/>
<line x1="43.4" y1="641.27" x2="273.7" y2="641.27" stroke="#000" stroke-opacity="0.06" stroke-width="1"/>
<line x1="43.4" y1="601.45" x2="273.7" y2="601.45" stroke="#000" stroke-opacity="0.06" stroke-width="1"/>
<line x1="43.4" y1="561.62" x2="273.7" y2="561.62" stroke="#000" stroke-opacity="0.06" stroke-width="1"/>
<line x1="43.4" y1="521.8" x2="273.7" y2="521.8" stroke="#000" stroke-opacity="0.06" stroke-width="1"/>
<line x1="60" y1="513.8" x2="60" y2="689.0" stroke="#000" stroke-opacity="0.06" stroke-width="1"/>
<line x1="88.1" y1="513.8" x2="88.1" y2="689.0" stroke="#000" stroke-opacity="0.06" stroke-width="1"/>
<line x1="116.2" y1="513.8" x2="116.2" y2="689.0" stroke="#000" stroke-opacity="0.06" stroke-width="1"/>
<line x1="144.3" y1="513.8" x2="144.3" y2="689.0" stroke="#000" stroke-opacity="0.06" stroke-width="1"/>
<line x1="172.4" y1="513.8" x2="172.4" y2="689.0" stroke="#000" stroke-opacity="0.06" stroke-width="1"/>
<line x1="200.5" y1="513.8" x2="200.5" y2="689.0" stroke="#000" stroke-opacity="0.06" stroke-width="1"/>
<line x1="228.6" y1="513.8" x2="228.6" y2="689.0" stroke="#000" stroke-opacity="0.06" stroke-width="1"/>
<line x1="256.7" y1="513.8" x2="256.7" y2="689.0" stroke="#000" stroke-opacity="0.06" stroke-width="1"/>
<rect x="50.15" y="642.87" width="19.7" height="38.23" fill="#14ad7f"/>
<rect x="78.25" y="657.68" width="19.7" height="23.42" fill="#14ad7f"/>
<rect x="106.35" y="663.74" width="19.7" height="17.36" fill="#14ad7f"/>
<rect x="134.45" y="653.06" width="19.7" height="28.04" fill="#14ad7f"/>
<rect x="162.55" y="660.07" width="19.7" height="21.03" fill="#14ad7f"/>
<rect x="190.65" y="662.14" width="19.7" height="18.96" fill="#14ad7f"/>
<rect x="218.75" y="652.74" width="19.7" height="28.36" fill="#14ad7f"/>
<rect x="246.85" y="655.93" width="19.7" height="25.17" fill="#14ad7f"/>
<line x1="43.4" y1="513.8" x2="43.4" y2="689.5" stroke="#d6d6d6" stroke-width="1"/>
<line x1="42.9" y1="689" x2="273.7" y2="689" stroke="#d6d6d6" stroke-width="1"/>
<text x="39.3" y="684.5" font-size="8.4" fill="#7c7c7c" text-anchor="end" font-weight="normal" font-family="'Liberation Sans', sans-serif">0.0</text>
<text x="39.3" y="644.67" font-size="8.4" fill="#7c7c7c" text-anchor="end" font-weight="normal" font-family="'Liberation Sans', sans-serif">2.5</text>
<text x="39.3" y="604.85" font-size="8.4" fill="#7c7c7c" text-anchor="end" font-weight="normal" font-family="'Liberation Sans', sans-serif">5.0</text>
<text x="39.3" y="565.02" font-size="8.4" fill="#7c7c7c" text-anchor="end" font-weight="normal" font-family="'Liberation Sans', sans-serif">7.5</text>
<text x="39.3" y="525.2" font-size="8.4" fill="#7c7c7c" text-anchor="end" font-weight="normal" font-family="'Liberation Sans', sans-serif">10.0</text>
<text x="60" y="699.9" font-size="8.4" fill="#7c7c7c" text-anchor="middle" font-weight="normal" font-family="'Liberation Sans', sans-serif">AECOPD</text>
<text x="88.2" y="699.9" font-size="8.4" fill="#7c7c7c" text-anchor="middle" font-weight="normal" font-family="'Liberation Sans', sans-serif">Age</text>
<text x="84" y="699.9" font-size="8.4" fill="#7c7c7c" text-anchor="start" font-weight="normal" font-family="'Liberation Sans', sans-serif">BPAATR</text>
<text x="113" y="699.9" font-size="8.4" fill="#7c7c7c" text-anchor="start" font-weight="normal" font-family="'Liberation Sans', sans-serif">Education</text>
<text x="135" y="699.9" font-size="8.4" fill="#7c7c7c" text-anchor="start" font-weight="normal" font-family="'Liberation Sans', sans-serif">Hypred</text>
<text x="160" y="699.9" font-size="8.4" fill="#7c7c7c" text-anchor="start" font-weight="normal" font-family="'Liberation Sans', sans-serif">Stroke</text>
<text x="162" y="699.9" font-size="8.4" fill="#7c7c7c" text-anchor="start" font-weight="normal" font-family="'Liberation Sans', sans-serif">Other</text>
<text x="228.7" y="699.9" font-size="8.4" fill="#7c7c7c" text-anchor="middle" font-weight="normal" font-family="'Liberation Sans', sans-serif">Respiratory hospitalization</text>
<text x="200.6" y="699.9" font-size="8.4" fill="#7c7c7c" text-anchor="middle" font-weight="normal" font-family="'Liberation Sans', sans-serif">NIV</text>
<text x="256.8" y="699.9" font-size="8.4" fill="#7c7c7c" text-anchor="middle" font-weight="normal" font-family="'Liberation Sans', sans-serif">Sex</text>
<text x="14.3" y="601.4" font-size="9.4" fill="#404040" text-anchor="middle" font-weight="normal" font-family="'Liberation Sans', sans-serif" transform="rotate(-90 14.3 601.4)">Variance Inflation Factor (VIF)</text>
<text x="5.6" y="497.2" font-size="10.3" fill="#1a1a1a" text-anchor="start" font-weight="normal" font-family="'Liberation Sans', sans-serif" stroke="#1a1a1a" stroke-width="0.18">Collinearity</text>
<text x="5.6" y="508.4" font-size="8.6" fill="#262626" text-anchor="start" font-weight="normal" font-family="'Liberation Sans', sans-serif" stroke="#262626" stroke-width="0.18">Higher bars (&gt;5) indicate potential collinearity issues</text>
<rect x="62.6" y="719.4" width="13" height="13.2" fill="#1aaf7e"/>
<text x="79" y="729.2" font-size="8.5" fill="#262626" text-anchor="start" font-weight="normal" font-family="'Liberation Sans', sans-serif">low (&lt; 5)</text>
<rect x="114.4" y="719.4" width="13" height="13.2" fill="#1b6ca8"/>
<text x="130.8" y="729.2" font-size="8.5" fill="#262626" text-anchor="start" font-weight="normal" font-family="'Liberation Sans', sans-serif">moderate (&lt; 10)</text>
<rect x="194.4" y="719.4" width="13" height="13.2" fill="#e8211f"/>
<text x="210.8" y="729.2" font-size="8.5" fill="#262626" text-anchor="start" font-weight="normal" font-family="'Liberation Sans', sans-serif">high (&gt;= 10)</text>
<line x1="356.8" y1="514.9" x2="356.8" y2="689" stroke="#f0f0f0" stroke-width="0.8"/>
<line x1="404" y1="514.9" x2="404" y2="689" stroke="#f0f0f0" stroke-width="0.8"/>
<line x1="451.2" y1="514.9" x2="451.2" y2="689" stroke="#f0f0f0" stroke-width="0.8"/>
<line x1="498.4" y1="514.9" x2="498.4" y2="689" stroke="#f0f0f0" stroke-width="0.8"/>
<line x1="312.7" y1="660.4" x2="544" y2="660.4" stroke="#f0f0f0" stroke-width="0.8"/>
<line x1="312.7" y1="627.2" x2="544" y2="627.2" stroke="#f0f0f0" stroke-width="0.8"/>
<line x1="312.7" y1="594" x2="544" y2="594" stroke="#f0f0f0" stroke-width="0.8"/>
<line x1="312.7" y1="560.8" x2="544" y2="560.8" stroke="#f0f0f0" stroke-width="0.8"/>
<line x1="312.7" y1="527.6" x2="544" y2="527.6" stroke="#f0f0f0" stroke-width="0.8"/>
<line x1="333.2" y1="514.9" x2="333.2" y2="689" stroke="#ebebeb" stroke-width="1"/>
<line x1="380.4" y1="514.9" x2="380.4" y2="689" stroke="#ebebeb" stroke-width="1"/>
<line x1="427.6" y1="514.9" x2="427.6" y2="689" stroke="#ebebeb" stroke-width="1"/>
<line x1="474.8" y1="514.9" x2="474.8" y2="689" stroke="#ebebeb" stroke-width="1"/>
<line x1="522" y1="514.9" x2="522" y2="689" stroke="#ebebeb" stroke-width="1"/>
<line x1="312.7" y1="677" x2="544" y2="677" stroke="#ebebeb" stroke-width="1"/>
<line x1="312.7" y1="643.8" x2="544" y2="643.8" stroke="#ebebeb" stroke-width="1"/>
<line x1="312.7" y1="610.6" x2="544" y2="610.6" stroke="#ebebeb" stroke-width="1"/>
<line x1="312.7" y1="577.4" x2="544" y2="577.4" stroke="#ebebeb" stroke-width="1"/>
<line x1="312.7" y1="544.2" x2="544" y2="544.2" stroke="#ebebeb" stroke-width="1"/>
<polyline points="322.7,681.2 532.7,544.3" fill="none" stroke="#189c7b" stroke-width="1.7" stroke-linejoin="round" stroke-linecap="butt"/>
<circle cx="322.7" cy="668.1" r="1.7" fill="#165b8c"/>
<circle cx="344.3" cy="658.9" r="1.7" fill="#165b8c"/>
<circle cx="356.3" cy="651.7" r="1.7" fill="#165b8c"/>
<circle cx="365" cy="650.4" r="1.7" fill="#165b8c"/>
<circle cx="371.8" cy="646.9" r="1.7" fill="#165b8c"/>
<circle cx="377.6" cy="643" r="1.7" fill="#165b8c"/>
<circle cx="382.7" cy="637.5" r="1.7" fill="#165b8c"/>
<circle cx="387.5" cy="637.5" r="1.7" fill="#165b8c"/>
<circle cx="391.8" cy="633.8" r="1.7" fill="#165b8c"/>
<circle cx="395.8" cy="633.2" r="1.7" fill="#165b8c"/>
<circle cx="399.5" cy="633.2" r="1.7" fill="#165b8c"/>
<circle cx="403.4" cy="633.2" r="1.7" fill="#165b8c"/>
<circle cx="407.1" cy="630.1" r="1.7" fill="#165b8c"/>
<circle cx="410.4" cy="626.6" r="1.7" fill="#165b8c"/>
<circle cx="414.3" cy="622.5" r="1.7" fill="#165b8c"/>
<circle cx="418" cy="621.2" r="1.7" fill="#165b8c"/>
<circle cx="421.3" cy="620.1" r="1.7" fill="#165b8c"/>
<circle cx="424.6" cy="618.5" r="1.7" fill="#165b8c"/>
<circle cx="427.8" cy="617" r="1.7" fill="#165b8c"/>
<circle cx="429" cy="616.4" r="1.7" fill="#165b8c"/>
<circle cx="432.3" cy="612.1" r="1.7" fill="#165b8c"/>
<circle cx="435.4" cy="610.4" r="1.7" fill="#165b8c"/>
<circle cx="438.4" cy="609.3" r="1.7" fill="#165b8c"/>
<circle cx="442" cy="606.9" r="1.7" fill="#165b8c"/>
<circle cx="444.8" cy="599.3" r="1.7" fill="#165b8c"/>
<circle cx="447.9" cy="599.8" r="1.7" fill="#165b8c"/>
<circle cx="451.9" cy="593.9" r="1.7" fill="#165b8c"/>
<circle cx="455.5" cy="592.2" r="1.7" fill="#165b8c"/>
<circle cx="459.5" cy="591.5" r="1.7" fill="#165b8c"/>
<circle cx="463.3" cy="586.1" r="1.7" fill="#165b8c"/>
<circle cx="468" cy="582.8" r="1.7" fill="#165b8c"/>
<circle cx="472.7" cy="580.4" r="1.7" fill="#165b8c"/>
<circle cx="477.4" cy="580.2" r="1.7" fill="#165b8c"/>
<circle cx="483.3" cy="573.1" r="1.7" fill="#165b8c"/>
<circle cx="490.4" cy="564.8" r="1.7" fill="#165b8c"/>
<circle cx="499.2" cy="563.2" r="1.7" fill="#165b8c"/>
<circle cx="510.5" cy="522.5" r="1.7" fill="#165b8c"/>
<circle cx="532.7" cy="521.8" r="1.7" fill="#165b8c"/>
<line x1="312.7" y1="514.9" x2="312.7" y2="689.5" stroke="#d6d6d6" stroke-width="1"/>
<line x1="312.2" y1="689" x2="544" y2="689" stroke="#d6d6d6" stroke-width="1"/>
<text x="308.1" y="680.4" font-size="8.4" fill="#7c7c7c" text-anchor="end" font-weight="normal" font-family="'Liberation Sans', sans-serif">-2</text>
<text x="308.1" y="647.2" font-size="8.4" fill="#7c7c7c" text-anchor="end" font-weight="normal" font-family="'Liberation Sans', sans-serif">-1</text>
<text x="308.1" y="614" font-size="8.4" fill="#7c7c7c" text-anchor="end" font-weight="normal" font-family="'Liberation Sans', sans-serif">0</text>
<text x="308.1" y="580.8" font-size="8.4" fill="#7c7c7c" text-anchor="end" font-weight="normal" font-family="'Liberation Sans', sans-serif">1</text>
<text x="308.1" y="547.6" font-size="8.4" fill="#7c7c7c" text-anchor="end" font-weight="normal" font-family="'Liberation Sans', sans-serif">2</text>
<text x="333.2" y="699.9" font-size="8.4" fill="#7c7c7c" text-anchor="middle" font-weight="normal" font-family="'Liberation Sans', sans-serif">-2</text>
<text x="380.4" y="699.9" font-size="8.4" fill="#7c7c7c" text-anchor="middle" font-weight="normal" font-family="'Liberation Sans', sans-serif">-1</text>
<text x="427.6" y="699.9" font-size="8.4" fill="#7c7c7c" text-anchor="middle" font-weight="normal" font-family="'Liberation Sans', sans-serif">0</text>
<text x="474.8" y="699.9" font-size="8.4" fill="#7c7c7c" text-anchor="middle" font-weight="normal" font-family="'Liberation Sans', sans-serif">1</text>
<text x="522" y="699.9" font-size="8.4" fill="#7c7c7c" text-anchor="middle" font-weight="normal" font-family="'Liberation Sans', sans-serif">2</text>
<text x="427.7" y="712.5" font-size="9.5" fill="#404040" text-anchor="middle" font-weight="normal" font-family="'Liberation Sans', sans-serif">Standard Normal Distribution Quantiles</text>
<text x="289.9" y="601.95" font-size="9.4" fill="#404040" text-anchor="middle" font-weight="normal" font-family="'Liberation Sans', sans-serif" transform="rotate(-90 289.9 601.95)">Sample Quantiles</text>
<text x="283.4" y="496.6" font-size="10.3" fill="#1a1a1a" text-anchor="start" font-weight="normal" font-family="'Liberation Sans', sans-serif" stroke="#1a1a1a" stroke-width="0.18">Normality of Residuals</text>
<text x="283.4" y="507.8" font-size="8.6" fill="#262626" text-anchor="start" font-weight="normal" font-family="'Liberation Sans', sans-serif" stroke="#262626" stroke-width="0.18">Dots should fall along the line</text>
</svg></body></html>
